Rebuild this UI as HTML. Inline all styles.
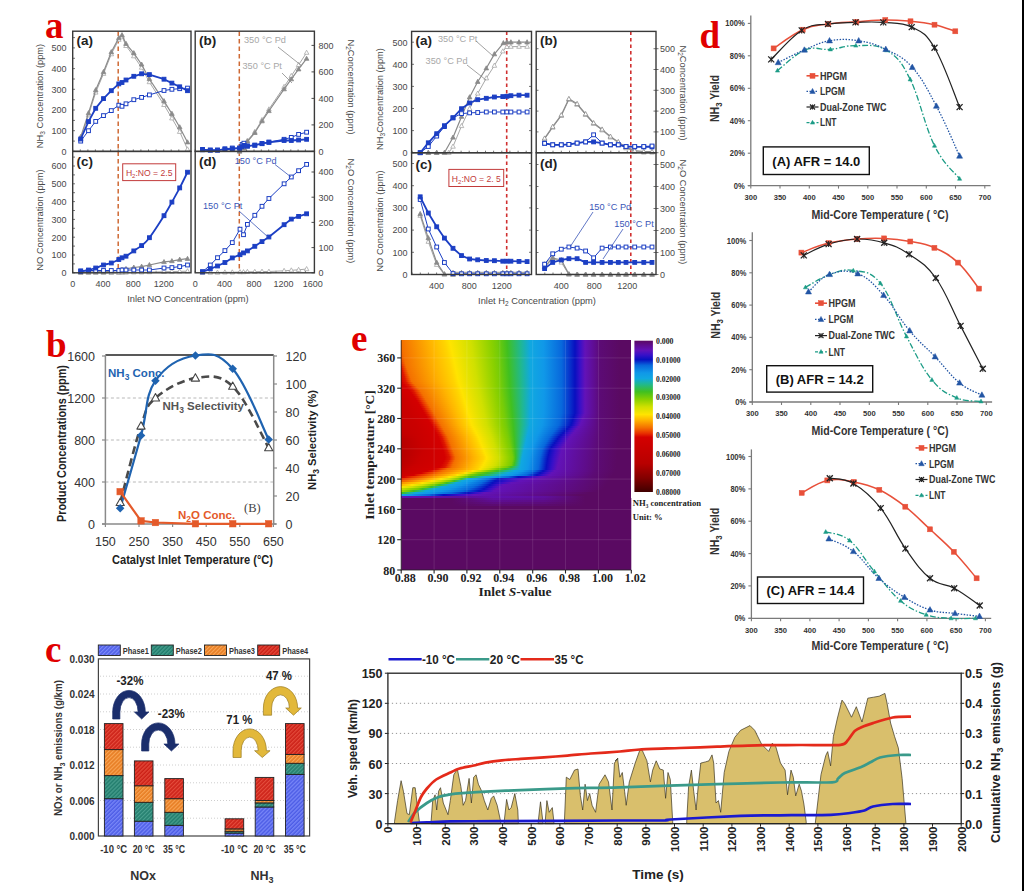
<!DOCTYPE html>
<html><head><meta charset="utf-8"><style>
html,body{margin:0;padding:0;background:#fff;width:1024px;height:891px;overflow:hidden}
svg{display:block}
</style></head><body>
<svg width="1024" height="891" viewBox="0 0 1024 891">
<rect width="1024" height="891" fill="#fff"/>
<line x1="72.7" y1="151.4" x2="72.7" y2="149.4" stroke="#3a3a3a" stroke-width="0.7"/><line x1="72.7" y1="272.8" x2="72.7" y2="270.8" stroke="#3a3a3a" stroke-width="0.7"/><line x1="195.2" y1="151.4" x2="195.2" y2="149.4" stroke="#3a3a3a" stroke-width="0.7"/><line x1="195.2" y1="272.8" x2="195.2" y2="270.8" stroke="#3a3a3a" stroke-width="0.7"/><line x1="80.3" y1="151.4" x2="80.3" y2="149.4" stroke="#3a3a3a" stroke-width="0.7"/><line x1="80.3" y1="272.8" x2="80.3" y2="270.8" stroke="#3a3a3a" stroke-width="0.7"/><line x1="202.5" y1="151.4" x2="202.5" y2="149.4" stroke="#3a3a3a" stroke-width="0.7"/><line x1="202.5" y1="272.8" x2="202.5" y2="270.8" stroke="#3a3a3a" stroke-width="0.7"/><line x1="87.9" y1="151.4" x2="87.9" y2="149.4" stroke="#3a3a3a" stroke-width="0.7"/><line x1="87.9" y1="272.8" x2="87.9" y2="270.8" stroke="#3a3a3a" stroke-width="0.7"/><line x1="209.9" y1="151.4" x2="209.9" y2="149.4" stroke="#3a3a3a" stroke-width="0.7"/><line x1="209.9" y1="272.8" x2="209.9" y2="270.8" stroke="#3a3a3a" stroke-width="0.7"/><line x1="95.4" y1="151.4" x2="95.4" y2="149.4" stroke="#3a3a3a" stroke-width="0.7"/><line x1="95.4" y1="272.8" x2="95.4" y2="270.8" stroke="#3a3a3a" stroke-width="0.7"/><line x1="217.2" y1="151.4" x2="217.2" y2="149.4" stroke="#3a3a3a" stroke-width="0.7"/><line x1="217.2" y1="272.8" x2="217.2" y2="270.8" stroke="#3a3a3a" stroke-width="0.7"/><line x1="103" y1="151.4" x2="103" y2="149.4" stroke="#3a3a3a" stroke-width="0.7"/><line x1="103" y1="272.8" x2="103" y2="270.8" stroke="#3a3a3a" stroke-width="0.7"/><line x1="224.6" y1="151.4" x2="224.6" y2="149.4" stroke="#3a3a3a" stroke-width="0.7"/><line x1="224.6" y1="272.8" x2="224.6" y2="270.8" stroke="#3a3a3a" stroke-width="0.7"/><line x1="110.6" y1="151.4" x2="110.6" y2="149.4" stroke="#3a3a3a" stroke-width="0.7"/><line x1="110.6" y1="272.8" x2="110.6" y2="270.8" stroke="#3a3a3a" stroke-width="0.7"/><line x1="231.9" y1="151.4" x2="231.9" y2="149.4" stroke="#3a3a3a" stroke-width="0.7"/><line x1="231.9" y1="272.8" x2="231.9" y2="270.8" stroke="#3a3a3a" stroke-width="0.7"/><line x1="118.2" y1="151.4" x2="118.2" y2="149.4" stroke="#3a3a3a" stroke-width="0.7"/><line x1="118.2" y1="272.8" x2="118.2" y2="270.8" stroke="#3a3a3a" stroke-width="0.7"/><line x1="239.3" y1="151.4" x2="239.3" y2="149.4" stroke="#3a3a3a" stroke-width="0.7"/><line x1="239.3" y1="272.8" x2="239.3" y2="270.8" stroke="#3a3a3a" stroke-width="0.7"/><line x1="125.8" y1="151.4" x2="125.8" y2="149.4" stroke="#3a3a3a" stroke-width="0.7"/><line x1="125.8" y1="272.8" x2="125.8" y2="270.8" stroke="#3a3a3a" stroke-width="0.7"/><line x1="246.6" y1="151.4" x2="246.6" y2="149.4" stroke="#3a3a3a" stroke-width="0.7"/><line x1="246.6" y1="272.8" x2="246.6" y2="270.8" stroke="#3a3a3a" stroke-width="0.7"/><line x1="133.3" y1="151.4" x2="133.3" y2="149.4" stroke="#3a3a3a" stroke-width="0.7"/><line x1="133.3" y1="272.8" x2="133.3" y2="270.8" stroke="#3a3a3a" stroke-width="0.7"/><line x1="254" y1="151.4" x2="254" y2="149.4" stroke="#3a3a3a" stroke-width="0.7"/><line x1="254" y1="272.8" x2="254" y2="270.8" stroke="#3a3a3a" stroke-width="0.7"/><line x1="140.9" y1="151.4" x2="140.9" y2="149.4" stroke="#3a3a3a" stroke-width="0.7"/><line x1="140.9" y1="272.8" x2="140.9" y2="270.8" stroke="#3a3a3a" stroke-width="0.7"/><line x1="261.3" y1="151.4" x2="261.3" y2="149.4" stroke="#3a3a3a" stroke-width="0.7"/><line x1="261.3" y1="272.8" x2="261.3" y2="270.8" stroke="#3a3a3a" stroke-width="0.7"/><line x1="148.5" y1="151.4" x2="148.5" y2="149.4" stroke="#3a3a3a" stroke-width="0.7"/><line x1="148.5" y1="272.8" x2="148.5" y2="270.8" stroke="#3a3a3a" stroke-width="0.7"/><line x1="268.7" y1="151.4" x2="268.7" y2="149.4" stroke="#3a3a3a" stroke-width="0.7"/><line x1="268.7" y1="272.8" x2="268.7" y2="270.8" stroke="#3a3a3a" stroke-width="0.7"/><line x1="156.1" y1="151.4" x2="156.1" y2="149.4" stroke="#3a3a3a" stroke-width="0.7"/><line x1="156.1" y1="272.8" x2="156.1" y2="270.8" stroke="#3a3a3a" stroke-width="0.7"/><line x1="276" y1="151.4" x2="276" y2="149.4" stroke="#3a3a3a" stroke-width="0.7"/><line x1="276" y1="272.8" x2="276" y2="270.8" stroke="#3a3a3a" stroke-width="0.7"/><line x1="163.7" y1="151.4" x2="163.7" y2="149.4" stroke="#3a3a3a" stroke-width="0.7"/><line x1="163.7" y1="272.8" x2="163.7" y2="270.8" stroke="#3a3a3a" stroke-width="0.7"/><line x1="283.4" y1="151.4" x2="283.4" y2="149.4" stroke="#3a3a3a" stroke-width="0.7"/><line x1="283.4" y1="272.8" x2="283.4" y2="270.8" stroke="#3a3a3a" stroke-width="0.7"/><line x1="171.2" y1="151.4" x2="171.2" y2="149.4" stroke="#3a3a3a" stroke-width="0.7"/><line x1="171.2" y1="272.8" x2="171.2" y2="270.8" stroke="#3a3a3a" stroke-width="0.7"/><line x1="290.8" y1="151.4" x2="290.8" y2="149.4" stroke="#3a3a3a" stroke-width="0.7"/><line x1="290.8" y1="272.8" x2="290.8" y2="270.8" stroke="#3a3a3a" stroke-width="0.7"/><line x1="178.8" y1="151.4" x2="178.8" y2="149.4" stroke="#3a3a3a" stroke-width="0.7"/><line x1="178.8" y1="272.8" x2="178.8" y2="270.8" stroke="#3a3a3a" stroke-width="0.7"/><line x1="298.1" y1="151.4" x2="298.1" y2="149.4" stroke="#3a3a3a" stroke-width="0.7"/><line x1="298.1" y1="272.8" x2="298.1" y2="270.8" stroke="#3a3a3a" stroke-width="0.7"/><line x1="186.4" y1="151.4" x2="186.4" y2="149.4" stroke="#3a3a3a" stroke-width="0.7"/><line x1="186.4" y1="272.8" x2="186.4" y2="270.8" stroke="#3a3a3a" stroke-width="0.7"/><line x1="305.4" y1="151.4" x2="305.4" y2="149.4" stroke="#3a3a3a" stroke-width="0.7"/><line x1="305.4" y1="272.8" x2="305.4" y2="270.8" stroke="#3a3a3a" stroke-width="0.7"/><line x1="72.7" y1="151.4" x2="75" y2="151.4" stroke="#3a3a3a" stroke-width="0.7"/><line x1="72.7" y1="141.1" x2="75" y2="141.1" stroke="#3a3a3a" stroke-width="0.7"/><line x1="72.7" y1="130.7" x2="75" y2="130.7" stroke="#3a3a3a" stroke-width="0.7"/><line x1="72.7" y1="120.4" x2="75" y2="120.4" stroke="#3a3a3a" stroke-width="0.7"/><line x1="72.7" y1="110" x2="75" y2="110" stroke="#3a3a3a" stroke-width="0.7"/><line x1="72.7" y1="99.7" x2="75" y2="99.7" stroke="#3a3a3a" stroke-width="0.7"/><line x1="72.7" y1="89.3" x2="75" y2="89.3" stroke="#3a3a3a" stroke-width="0.7"/><line x1="72.7" y1="79" x2="75" y2="79" stroke="#3a3a3a" stroke-width="0.7"/><line x1="72.7" y1="68.6" x2="75" y2="68.6" stroke="#3a3a3a" stroke-width="0.7"/><line x1="72.7" y1="58.3" x2="75" y2="58.3" stroke="#3a3a3a" stroke-width="0.7"/><line x1="72.7" y1="47.9" x2="75" y2="47.9" stroke="#3a3a3a" stroke-width="0.7"/><line x1="72.7" y1="37.6" x2="75" y2="37.6" stroke="#3a3a3a" stroke-width="0.7"/><line x1="72.7" y1="272.8" x2="75" y2="272.8" stroke="#3a3a3a" stroke-width="0.7"/><line x1="72.7" y1="263.9" x2="75" y2="263.9" stroke="#3a3a3a" stroke-width="0.7"/><line x1="72.7" y1="255" x2="75" y2="255" stroke="#3a3a3a" stroke-width="0.7"/><line x1="72.7" y1="246.1" x2="75" y2="246.1" stroke="#3a3a3a" stroke-width="0.7"/><line x1="72.7" y1="237.2" x2="75" y2="237.2" stroke="#3a3a3a" stroke-width="0.7"/><line x1="72.7" y1="228.3" x2="75" y2="228.3" stroke="#3a3a3a" stroke-width="0.7"/><line x1="72.7" y1="219.4" x2="75" y2="219.4" stroke="#3a3a3a" stroke-width="0.7"/><line x1="72.7" y1="210.5" x2="75" y2="210.5" stroke="#3a3a3a" stroke-width="0.7"/><line x1="72.7" y1="201.6" x2="75" y2="201.6" stroke="#3a3a3a" stroke-width="0.7"/><line x1="72.7" y1="192.7" x2="75" y2="192.7" stroke="#3a3a3a" stroke-width="0.7"/><line x1="72.7" y1="183.8" x2="75" y2="183.8" stroke="#3a3a3a" stroke-width="0.7"/><line x1="72.7" y1="174.9" x2="75" y2="174.9" stroke="#3a3a3a" stroke-width="0.7"/><line x1="72.7" y1="166" x2="75" y2="166" stroke="#3a3a3a" stroke-width="0.7"/><line x1="72.7" y1="157.1" x2="75" y2="157.1" stroke="#3a3a3a" stroke-width="0.7"/><line x1="314.4" y1="151.4" x2="311.5" y2="151.4" stroke="#3a3a3a" stroke-width="0.9"/><line x1="314.4" y1="124.9" x2="311.5" y2="124.9" stroke="#3a3a3a" stroke-width="0.9"/><line x1="314.4" y1="98.4" x2="311.5" y2="98.4" stroke="#3a3a3a" stroke-width="0.9"/><line x1="314.4" y1="71.9" x2="311.5" y2="71.9" stroke="#3a3a3a" stroke-width="0.9"/><line x1="314.4" y1="45.4" x2="311.5" y2="45.4" stroke="#3a3a3a" stroke-width="0.9"/><line x1="314.4" y1="272.8" x2="311.5" y2="272.8" stroke="#3a3a3a" stroke-width="0.9"/><line x1="314.4" y1="247.6" x2="311.5" y2="247.6" stroke="#3a3a3a" stroke-width="0.9"/><line x1="314.4" y1="222.4" x2="311.5" y2="222.4" stroke="#3a3a3a" stroke-width="0.9"/><line x1="314.4" y1="197.2" x2="311.5" y2="197.2" stroke="#3a3a3a" stroke-width="0.9"/><line x1="314.4" y1="172" x2="311.5" y2="172" stroke="#3a3a3a" stroke-width="0.9"/><line x1="118.2" y1="31.5" x2="118.2" y2="272.5" stroke="#cf6a35" stroke-width="1.5" stroke-dasharray="4.5,3"/><line x1="239.3" y1="31.5" x2="239.3" y2="272.5" stroke="#cf6a35" stroke-width="1.5" stroke-dasharray="4.5,3"/><polyline points="80.7,139 88.5,115.2 95.7,92.4 103.5,73.8 111.3,54.1 118.8,39.6 122,36.5 126,45.8 133.8,56.2 141.6,67.6 149.4,82.1 164,104.8 171.9,118.3 179.7,131.7 187.5,149.3" fill="none" stroke="#a8a8a8" stroke-width="1.0" stroke-linejoin="round"/><polygon points="80.7,136.5 83,140.6 78.4,140.6" fill="#fff" stroke="#a8a8a8" stroke-width="0.8" stroke-linejoin="round"/><polygon points="88.5,112.7 90.8,116.8 86.2,116.8" fill="#fff" stroke="#a8a8a8" stroke-width="0.8" stroke-linejoin="round"/><polygon points="95.7,89.9 98,94.1 93.4,94.1" fill="#fff" stroke="#a8a8a8" stroke-width="0.8" stroke-linejoin="round"/><polygon points="103.5,71.3 105.8,75.4 101.2,75.4" fill="#fff" stroke="#a8a8a8" stroke-width="0.8" stroke-linejoin="round"/><polygon points="111.3,51.6 113.6,55.8 109,55.8" fill="#fff" stroke="#a8a8a8" stroke-width="0.8" stroke-linejoin="round"/><polygon points="118.8,37.1 121.1,41.3 116.5,41.3" fill="#fff" stroke="#a8a8a8" stroke-width="0.8" stroke-linejoin="round"/><polygon points="122,34 124.3,38.2 119.7,38.2" fill="#fff" stroke="#a8a8a8" stroke-width="0.8" stroke-linejoin="round"/><polygon points="126,43.3 128.3,47.5 123.7,47.5" fill="#fff" stroke="#a8a8a8" stroke-width="0.8" stroke-linejoin="round"/><polygon points="133.8,53.7 136.1,57.8 131.5,57.8" fill="#fff" stroke="#a8a8a8" stroke-width="0.8" stroke-linejoin="round"/><polygon points="141.6,65.1 143.9,69.2 139.3,69.2" fill="#fff" stroke="#a8a8a8" stroke-width="0.8" stroke-linejoin="round"/><polygon points="149.4,79.6 151.7,83.7 147.1,83.7" fill="#fff" stroke="#a8a8a8" stroke-width="0.8" stroke-linejoin="round"/><polygon points="164,102.3 166.3,106.5 161.7,106.5" fill="#fff" stroke="#a8a8a8" stroke-width="0.8" stroke-linejoin="round"/><polygon points="171.9,115.8 174.2,119.9 169.6,119.9" fill="#fff" stroke="#a8a8a8" stroke-width="0.8" stroke-linejoin="round"/><polygon points="179.7,129.3 182,133.4 177.4,133.4" fill="#fff" stroke="#a8a8a8" stroke-width="0.8" stroke-linejoin="round"/><polygon points="187.5,146.8 189.8,151 185.2,151" fill="#fff" stroke="#a8a8a8" stroke-width="0.8" stroke-linejoin="round"/><polyline points="80.7,136.9 88.5,113.1 95.7,90.1 103.5,71.9 111.3,52 118.8,38 122,35.1 126,43.8 133.8,53.1 141.6,64.5 149.4,79 164,101.1 171.9,113.7 179.7,127.2 187.5,142.3" fill="none" stroke="#8a8a8a" stroke-width="1.2" stroke-linejoin="round"/><polygon points="80.7,134.4 83,138.6 78.4,138.6" fill="#8a8a8a" stroke="#8a8a8a" stroke-width="0.8" stroke-linejoin="round"/><polygon points="88.5,110.6 90.8,114.8 86.2,114.8" fill="#8a8a8a" stroke="#8a8a8a" stroke-width="0.8" stroke-linejoin="round"/><polygon points="95.7,87.6 98,91.8 93.4,91.8" fill="#8a8a8a" stroke="#8a8a8a" stroke-width="0.8" stroke-linejoin="round"/><polygon points="103.5,69.4 105.8,73.6 101.2,73.6" fill="#8a8a8a" stroke="#8a8a8a" stroke-width="0.8" stroke-linejoin="round"/><polygon points="111.3,49.6 113.6,53.7 109,53.7" fill="#8a8a8a" stroke="#8a8a8a" stroke-width="0.8" stroke-linejoin="round"/><polygon points="118.8,35.5 121.1,39.6 116.5,39.6" fill="#8a8a8a" stroke="#8a8a8a" stroke-width="0.8" stroke-linejoin="round"/><polygon points="122,32.6 124.3,36.7 119.7,36.7" fill="#8a8a8a" stroke="#8a8a8a" stroke-width="0.8" stroke-linejoin="round"/><polygon points="126,41.3 128.3,45.4 123.7,45.4" fill="#8a8a8a" stroke="#8a8a8a" stroke-width="0.8" stroke-linejoin="round"/><polygon points="133.8,50.6 136.1,54.7 131.5,54.7" fill="#8a8a8a" stroke="#8a8a8a" stroke-width="0.8" stroke-linejoin="round"/><polygon points="141.6,62 143.9,66.1 139.3,66.1" fill="#8a8a8a" stroke="#8a8a8a" stroke-width="0.8" stroke-linejoin="round"/><polygon points="149.4,76.5 151.7,80.6 147.1,80.6" fill="#8a8a8a" stroke="#8a8a8a" stroke-width="0.8" stroke-linejoin="round"/><polygon points="164,98.6 166.3,102.8 161.7,102.8" fill="#8a8a8a" stroke="#8a8a8a" stroke-width="0.8" stroke-linejoin="round"/><polygon points="171.9,111.2 174.2,115.4 169.6,115.4" fill="#8a8a8a" stroke="#8a8a8a" stroke-width="0.8" stroke-linejoin="round"/><polygon points="179.7,124.7 182,128.8 177.4,128.8" fill="#8a8a8a" stroke="#8a8a8a" stroke-width="0.8" stroke-linejoin="round"/><polygon points="187.5,139.8 189.8,143.9 185.2,143.9" fill="#8a8a8a" stroke="#8a8a8a" stroke-width="0.8" stroke-linejoin="round"/><polyline points="80.7,141.1 88.5,130.7 95.7,121.4 103.5,115.6 111.3,110.6 118.8,105.2 122,106.3 126,103.8 133.8,99.7 141.6,97.4 149.4,94.9 164,90.5 171.9,89.3 179.7,88.7 187.5,88.1" fill="none" stroke="#1c3fc4" stroke-width="1.0" stroke-linejoin="round"/><rect x="78.8" y="139.2" width="3.8" height="3.8" fill="#fff" stroke="#1c3fc4" stroke-width="1.0"/><rect x="86.6" y="128.8" width="3.8" height="3.8" fill="#fff" stroke="#1c3fc4" stroke-width="1.0"/><rect x="93.8" y="119.5" width="3.8" height="3.8" fill="#fff" stroke="#1c3fc4" stroke-width="1.0"/><rect x="101.6" y="113.7" width="3.8" height="3.8" fill="#fff" stroke="#1c3fc4" stroke-width="1.0"/><rect x="109.4" y="108.7" width="3.8" height="3.8" fill="#fff" stroke="#1c3fc4" stroke-width="1.0"/><rect x="116.9" y="103.3" width="3.8" height="3.8" fill="#fff" stroke="#1c3fc4" stroke-width="1.0"/><rect x="120.1" y="104.4" width="3.8" height="3.8" fill="#fff" stroke="#1c3fc4" stroke-width="1.0"/><rect x="124.1" y="101.9" width="3.8" height="3.8" fill="#fff" stroke="#1c3fc4" stroke-width="1.0"/><rect x="131.9" y="97.8" width="3.8" height="3.8" fill="#fff" stroke="#1c3fc4" stroke-width="1.0"/><rect x="139.7" y="95.5" width="3.8" height="3.8" fill="#fff" stroke="#1c3fc4" stroke-width="1.0"/><rect x="147.5" y="93" width="3.8" height="3.8" fill="#fff" stroke="#1c3fc4" stroke-width="1.0"/><rect x="162.1" y="88.6" width="3.8" height="3.8" fill="#fff" stroke="#1c3fc4" stroke-width="1.0"/><rect x="170" y="87.4" width="3.8" height="3.8" fill="#fff" stroke="#1c3fc4" stroke-width="1.0"/><rect x="177.8" y="86.8" width="3.8" height="3.8" fill="#fff" stroke="#1c3fc4" stroke-width="1.0"/><rect x="185.6" y="86.2" width="3.8" height="3.8" fill="#fff" stroke="#1c3fc4" stroke-width="1.0"/><polyline points="80.7,139 88.5,121.6 95.7,108.3 103.5,98.6 111.3,90.7 118.8,83.9 122,82.5 126,80 133.8,76.3 141.6,73.8 149.4,74.6 164,79.2 171.9,83.1 179.7,86.8 187.5,90.7" fill="none" stroke="#1c3fc4" stroke-width="1.8" stroke-linejoin="round"/><rect x="78.8" y="137.1" width="3.8" height="3.8" fill="#1c3fc4" stroke="#1c3fc4" stroke-width="1.0"/><rect x="86.6" y="119.7" width="3.8" height="3.8" fill="#1c3fc4" stroke="#1c3fc4" stroke-width="1.0"/><rect x="93.8" y="106.4" width="3.8" height="3.8" fill="#1c3fc4" stroke="#1c3fc4" stroke-width="1.0"/><rect x="101.6" y="96.7" width="3.8" height="3.8" fill="#1c3fc4" stroke="#1c3fc4" stroke-width="1.0"/><rect x="109.4" y="88.8" width="3.8" height="3.8" fill="#1c3fc4" stroke="#1c3fc4" stroke-width="1.0"/><rect x="116.9" y="82" width="3.8" height="3.8" fill="#1c3fc4" stroke="#1c3fc4" stroke-width="1.0"/><rect x="120.1" y="80.6" width="3.8" height="3.8" fill="#1c3fc4" stroke="#1c3fc4" stroke-width="1.0"/><rect x="124.1" y="78.1" width="3.8" height="3.8" fill="#1c3fc4" stroke="#1c3fc4" stroke-width="1.0"/><rect x="131.9" y="74.4" width="3.8" height="3.8" fill="#1c3fc4" stroke="#1c3fc4" stroke-width="1.0"/><rect x="139.7" y="71.9" width="3.8" height="3.8" fill="#1c3fc4" stroke="#1c3fc4" stroke-width="1.0"/><rect x="147.5" y="72.7" width="3.8" height="3.8" fill="#1c3fc4" stroke="#1c3fc4" stroke-width="1.0"/><rect x="162.1" y="77.3" width="3.8" height="3.8" fill="#1c3fc4" stroke="#1c3fc4" stroke-width="1.0"/><rect x="170" y="81.2" width="3.8" height="3.8" fill="#1c3fc4" stroke="#1c3fc4" stroke-width="1.0"/><rect x="177.8" y="84.9" width="3.8" height="3.8" fill="#1c3fc4" stroke="#1c3fc4" stroke-width="1.0"/><rect x="185.6" y="88.8" width="3.8" height="3.8" fill="#1c3fc4" stroke="#1c3fc4" stroke-width="1.0"/><polyline points="80.7,272.8 88.5,272.8 95.7,272.8 103.5,272.8 111.3,272.8 118.8,272.8 122,272.6 126,272.4 133.8,272.3 141.6,272.3 149.4,272.1 164,271.7 171.9,271.6 179.7,271.4 187.5,271.2" fill="none" stroke="#a8a8a8" stroke-width="1.0" stroke-linejoin="round"/><polygon points="80.7,270.3 83,274.5 78.4,274.5" fill="#fff" stroke="#a8a8a8" stroke-width="0.8" stroke-linejoin="round"/><polygon points="88.5,270.3 90.8,274.5 86.2,274.5" fill="#fff" stroke="#a8a8a8" stroke-width="0.8" stroke-linejoin="round"/><polygon points="95.7,270.3 98,274.5 93.4,274.5" fill="#fff" stroke="#a8a8a8" stroke-width="0.8" stroke-linejoin="round"/><polygon points="103.5,270.3 105.8,274.5 101.2,274.5" fill="#fff" stroke="#a8a8a8" stroke-width="0.8" stroke-linejoin="round"/><polygon points="111.3,270.3 113.6,274.5 109,274.5" fill="#fff" stroke="#a8a8a8" stroke-width="0.8" stroke-linejoin="round"/><polygon points="118.8,270.3 121.1,274.5 116.5,274.5" fill="#fff" stroke="#a8a8a8" stroke-width="0.8" stroke-linejoin="round"/><polygon points="122,270.1 124.3,274.3 119.7,274.3" fill="#fff" stroke="#a8a8a8" stroke-width="0.8" stroke-linejoin="round"/><polygon points="126,270 128.3,274.1 123.7,274.1" fill="#fff" stroke="#a8a8a8" stroke-width="0.8" stroke-linejoin="round"/><polygon points="133.8,269.8 136.1,273.9 131.5,273.9" fill="#fff" stroke="#a8a8a8" stroke-width="0.8" stroke-linejoin="round"/><polygon points="141.6,269.8 143.9,273.9 139.3,273.9" fill="#fff" stroke="#a8a8a8" stroke-width="0.8" stroke-linejoin="round"/><polygon points="149.4,269.6 151.7,273.7 147.1,273.7" fill="#fff" stroke="#a8a8a8" stroke-width="0.8" stroke-linejoin="round"/><polygon points="164,269.2 166.3,273.4 161.7,273.4" fill="#fff" stroke="#a8a8a8" stroke-width="0.8" stroke-linejoin="round"/><polygon points="171.9,269.1 174.2,273.2 169.6,273.2" fill="#fff" stroke="#a8a8a8" stroke-width="0.8" stroke-linejoin="round"/><polygon points="179.7,268.9 182,273 177.4,273" fill="#fff" stroke="#a8a8a8" stroke-width="0.8" stroke-linejoin="round"/><polygon points="187.5,268.7 189.8,272.9 185.2,272.9" fill="#fff" stroke="#a8a8a8" stroke-width="0.8" stroke-linejoin="round"/><polyline points="80.7,272.3 88.5,272.1 95.7,271.9 103.5,271.7 111.3,271.4 118.8,270.5 122,269.6 126,268.9 133.8,267.5 141.6,266.6 149.4,265 164,261.9 171.9,261.1 179.7,259.6 187.5,258.7" fill="none" stroke="#8a8a8a" stroke-width="1.2" stroke-linejoin="round"/><polygon points="80.7,269.8 83,273.9 78.4,273.9" fill="#8a8a8a" stroke="#8a8a8a" stroke-width="0.8" stroke-linejoin="round"/><polygon points="88.5,269.6 90.8,273.7 86.2,273.7" fill="#8a8a8a" stroke="#8a8a8a" stroke-width="0.8" stroke-linejoin="round"/><polygon points="95.7,269.4 98,273.6 93.4,273.6" fill="#8a8a8a" stroke="#8a8a8a" stroke-width="0.8" stroke-linejoin="round"/><polygon points="103.5,269.2 105.8,273.4 101.2,273.4" fill="#8a8a8a" stroke="#8a8a8a" stroke-width="0.8" stroke-linejoin="round"/><polygon points="111.3,268.9 113.6,273 109,273" fill="#8a8a8a" stroke="#8a8a8a" stroke-width="0.8" stroke-linejoin="round"/><polygon points="118.8,268 121.1,272.1 116.5,272.1" fill="#8a8a8a" stroke="#8a8a8a" stroke-width="0.8" stroke-linejoin="round"/><polygon points="122,267.1 124.3,271.3 119.7,271.3" fill="#8a8a8a" stroke="#8a8a8a" stroke-width="0.8" stroke-linejoin="round"/><polygon points="126,266.4 128.3,270.5 123.7,270.5" fill="#8a8a8a" stroke="#8a8a8a" stroke-width="0.8" stroke-linejoin="round"/><polygon points="133.8,265 136.1,269.1 131.5,269.1" fill="#8a8a8a" stroke="#8a8a8a" stroke-width="0.8" stroke-linejoin="round"/><polygon points="141.6,264.1 143.9,268.2 139.3,268.2" fill="#8a8a8a" stroke="#8a8a8a" stroke-width="0.8" stroke-linejoin="round"/><polygon points="149.4,262.5 151.7,266.6 147.1,266.6" fill="#8a8a8a" stroke="#8a8a8a" stroke-width="0.8" stroke-linejoin="round"/><polygon points="164,259.5 166.3,263.6 161.7,263.6" fill="#8a8a8a" stroke="#8a8a8a" stroke-width="0.8" stroke-linejoin="round"/><polygon points="171.9,258.6 174.2,262.7 169.6,262.7" fill="#8a8a8a" stroke="#8a8a8a" stroke-width="0.8" stroke-linejoin="round"/><polygon points="179.7,257.1 182,261.3 177.4,261.3" fill="#8a8a8a" stroke="#8a8a8a" stroke-width="0.8" stroke-linejoin="round"/><polygon points="187.5,256.3 189.8,260.4 185.2,260.4" fill="#8a8a8a" stroke="#8a8a8a" stroke-width="0.8" stroke-linejoin="round"/><polyline points="80.7,270.8 88.5,270.5 95.7,270.5 103.5,270.5 111.3,270.5 118.8,270.5 122,270 126,270 133.8,270 141.6,270 149.4,270 164,268 171.9,267.6 179.7,266.6 187.5,265" fill="none" stroke="#1c3fc4" stroke-width="1.0" stroke-linejoin="round"/><rect x="78.8" y="268.9" width="3.8" height="3.8" fill="#fff" stroke="#1c3fc4" stroke-width="1.0"/><rect x="86.6" y="268.6" width="3.8" height="3.8" fill="#fff" stroke="#1c3fc4" stroke-width="1.0"/><rect x="93.8" y="268.6" width="3.8" height="3.8" fill="#fff" stroke="#1c3fc4" stroke-width="1.0"/><rect x="101.6" y="268.6" width="3.8" height="3.8" fill="#fff" stroke="#1c3fc4" stroke-width="1.0"/><rect x="109.4" y="268.6" width="3.8" height="3.8" fill="#fff" stroke="#1c3fc4" stroke-width="1.0"/><rect x="116.9" y="268.6" width="3.8" height="3.8" fill="#fff" stroke="#1c3fc4" stroke-width="1.0"/><rect x="120.1" y="268.1" width="3.8" height="3.8" fill="#fff" stroke="#1c3fc4" stroke-width="1.0"/><rect x="124.1" y="268.1" width="3.8" height="3.8" fill="#fff" stroke="#1c3fc4" stroke-width="1.0"/><rect x="131.9" y="268.1" width="3.8" height="3.8" fill="#fff" stroke="#1c3fc4" stroke-width="1.0"/><rect x="139.7" y="268.1" width="3.8" height="3.8" fill="#fff" stroke="#1c3fc4" stroke-width="1.0"/><rect x="147.5" y="268.1" width="3.8" height="3.8" fill="#fff" stroke="#1c3fc4" stroke-width="1.0"/><rect x="162.1" y="266.1" width="3.8" height="3.8" fill="#fff" stroke="#1c3fc4" stroke-width="1.0"/><rect x="170" y="265.7" width="3.8" height="3.8" fill="#fff" stroke="#1c3fc4" stroke-width="1.0"/><rect x="177.8" y="264.7" width="3.8" height="3.8" fill="#fff" stroke="#1c3fc4" stroke-width="1.0"/><rect x="185.6" y="263.1" width="3.8" height="3.8" fill="#fff" stroke="#1c3fc4" stroke-width="1.0"/><path d="M80.7,271.4 C82,271.1 86,270.5 88.5,270 C91,269.4 93.2,268.8 95.7,268 C98.2,267.2 100.9,265.8 103.5,265 C106.1,264.1 108.7,263.9 111.3,263 C113.8,262.1 117,260.3 118.8,259.4 C120.6,258.6 120.8,258.4 122,257.8 C123.2,257.3 124,257.4 126,256.2 C128,255.1 131.2,252.7 133.8,250.9 C136.4,249.1 139,247.8 141.6,245.6 C144.2,243.4 145.7,242.7 149.4,237.7 C153.1,232.8 160.3,221.6 164,215.7 C167.8,209.7 169.3,206.8 171.9,202.1 C174.5,197.5 177.1,192.9 179.7,187.9 C182.3,182.9 186.2,174.8 187.5,172.2" fill="none" stroke="#1c3fc4" stroke-width="1.8" stroke-linejoin="round"/><rect x="78.8" y="269.5" width="3.8" height="3.8" fill="#1c3fc4" stroke="#1c3fc4" stroke-width="1.0"/><rect x="86.6" y="268.1" width="3.8" height="3.8" fill="#1c3fc4" stroke="#1c3fc4" stroke-width="1.0"/><rect x="93.8" y="266.1" width="3.8" height="3.8" fill="#1c3fc4" stroke="#1c3fc4" stroke-width="1.0"/><rect x="101.6" y="263.1" width="3.8" height="3.8" fill="#1c3fc4" stroke="#1c3fc4" stroke-width="1.0"/><rect x="109.4" y="261.1" width="3.8" height="3.8" fill="#1c3fc4" stroke="#1c3fc4" stroke-width="1.0"/><rect x="116.9" y="257.6" width="3.8" height="3.8" fill="#1c3fc4" stroke="#1c3fc4" stroke-width="1.0"/><rect x="120.1" y="255.9" width="3.8" height="3.8" fill="#1c3fc4" stroke="#1c3fc4" stroke-width="1.0"/><rect x="124.1" y="254.3" width="3.8" height="3.8" fill="#1c3fc4" stroke="#1c3fc4" stroke-width="1.0"/><rect x="131.9" y="249" width="3.8" height="3.8" fill="#1c3fc4" stroke="#1c3fc4" stroke-width="1.0"/><rect x="139.7" y="243.7" width="3.8" height="3.8" fill="#1c3fc4" stroke="#1c3fc4" stroke-width="1.0"/><rect x="147.5" y="235.8" width="3.8" height="3.8" fill="#1c3fc4" stroke="#1c3fc4" stroke-width="1.0"/><rect x="162.1" y="213.8" width="3.8" height="3.8" fill="#1c3fc4" stroke="#1c3fc4" stroke-width="1.0"/><rect x="170" y="200.2" width="3.8" height="3.8" fill="#1c3fc4" stroke="#1c3fc4" stroke-width="1.0"/><rect x="177.8" y="186" width="3.8" height="3.8" fill="#1c3fc4" stroke="#1c3fc4" stroke-width="1.0"/><rect x="185.6" y="170.3" width="3.8" height="3.8" fill="#1c3fc4" stroke="#1c3fc4" stroke-width="1.0"/><polyline points="239.6,151.4 243.9,147.4 247.4,140.5 254.8,131.8 262,119.9 268.9,109.3 284.1,86.7 291.3,75.9 298.6,64.9 306.6,52.7" fill="none" stroke="#a8a8a8" stroke-width="1.0" stroke-linejoin="round"/><polygon points="239.6,148.9 241.9,153.1 237.3,153.1" fill="#fff" stroke="#a8a8a8" stroke-width="0.8" stroke-linejoin="round"/><polygon points="243.9,144.9 246.2,149.1 241.6,149.1" fill="#fff" stroke="#a8a8a8" stroke-width="0.8" stroke-linejoin="round"/><polygon points="247.4,138.1 249.7,142.2 245.1,142.2" fill="#fff" stroke="#a8a8a8" stroke-width="0.8" stroke-linejoin="round"/><polygon points="254.8,129.3 257.1,133.4 252.5,133.4" fill="#fff" stroke="#a8a8a8" stroke-width="0.8" stroke-linejoin="round"/><polygon points="262,117.4 264.3,121.5 259.7,121.5" fill="#fff" stroke="#a8a8a8" stroke-width="0.8" stroke-linejoin="round"/><polygon points="268.9,106.8 271.2,110.9 266.6,110.9" fill="#fff" stroke="#a8a8a8" stroke-width="0.8" stroke-linejoin="round"/><polygon points="284.1,84.3 286.4,88.4 281.8,88.4" fill="#fff" stroke="#a8a8a8" stroke-width="0.8" stroke-linejoin="round"/><polygon points="291.3,73.4 293.6,77.5 289,77.5" fill="#fff" stroke="#a8a8a8" stroke-width="0.8" stroke-linejoin="round"/><polygon points="298.6,62.4 300.9,66.5 296.3,66.5" fill="#fff" stroke="#a8a8a8" stroke-width="0.8" stroke-linejoin="round"/><polygon points="306.6,50.2 308.9,54.3 304.3,54.3" fill="#fff" stroke="#a8a8a8" stroke-width="0.8" stroke-linejoin="round"/><polyline points="239.6,151.4 243.9,148.1 247.4,141.5 254.8,132.8 262,121.2 268.9,111 284.1,89.1 291.3,79.2 298.6,69.2 306.6,58.7" fill="none" stroke="#8a8a8a" stroke-width="1.2" stroke-linejoin="round"/><polygon points="239.6,148.9 241.9,153.1 237.3,153.1" fill="#8a8a8a" stroke="#8a8a8a" stroke-width="0.8" stroke-linejoin="round"/><polygon points="243.9,145.6 246.2,149.7 241.6,149.7" fill="#8a8a8a" stroke="#8a8a8a" stroke-width="0.8" stroke-linejoin="round"/><polygon points="247.4,139 249.7,143.1 245.1,143.1" fill="#8a8a8a" stroke="#8a8a8a" stroke-width="0.8" stroke-linejoin="round"/><polygon points="254.8,130.4 257.1,134.5 252.5,134.5" fill="#8a8a8a" stroke="#8a8a8a" stroke-width="0.8" stroke-linejoin="round"/><polygon points="262,118.7 264.3,122.8 259.7,122.8" fill="#8a8a8a" stroke="#8a8a8a" stroke-width="0.8" stroke-linejoin="round"/><polygon points="268.9,108.5 271.2,112.6 266.6,112.6" fill="#8a8a8a" stroke="#8a8a8a" stroke-width="0.8" stroke-linejoin="round"/><polygon points="284.1,86.6 286.4,90.8 281.8,90.8" fill="#8a8a8a" stroke="#8a8a8a" stroke-width="0.8" stroke-linejoin="round"/><polygon points="291.3,76.7 293.6,80.8 289,80.8" fill="#8a8a8a" stroke="#8a8a8a" stroke-width="0.8" stroke-linejoin="round"/><polygon points="298.6,66.8 300.9,70.9 296.3,70.9" fill="#8a8a8a" stroke="#8a8a8a" stroke-width="0.8" stroke-linejoin="round"/><polygon points="306.6,56.2 308.9,60.3 304.3,60.3" fill="#8a8a8a" stroke="#8a8a8a" stroke-width="0.8" stroke-linejoin="round"/><polyline points="202.5,149.4 210.3,150.1 217.5,150.1 224.9,148.8 232.3,148 239.6,148 242.1,144.5 243.9,143.2 247.4,146.1 254.8,145.2 262,143.5 268.9,142 284.1,139.3 291.3,137.4 298.6,134.4 306.6,132.2" fill="none" stroke="#1c3fc4" stroke-width="1.0" stroke-linejoin="round"/><rect x="200.6" y="147.5" width="3.8" height="3.8" fill="#fff" stroke="#1c3fc4" stroke-width="1.0"/><rect x="208.4" y="148.2" width="3.8" height="3.8" fill="#fff" stroke="#1c3fc4" stroke-width="1.0"/><rect x="215.6" y="148.2" width="3.8" height="3.8" fill="#fff" stroke="#1c3fc4" stroke-width="1.0"/><rect x="223" y="146.8" width="3.8" height="3.8" fill="#fff" stroke="#1c3fc4" stroke-width="1.0"/><rect x="230.4" y="146.1" width="3.8" height="3.8" fill="#fff" stroke="#1c3fc4" stroke-width="1.0"/><rect x="237.7" y="146.1" width="3.8" height="3.8" fill="#fff" stroke="#1c3fc4" stroke-width="1.0"/><rect x="240.2" y="142.6" width="3.8" height="3.8" fill="#fff" stroke="#1c3fc4" stroke-width="1.0"/><rect x="242" y="141.3" width="3.8" height="3.8" fill="#fff" stroke="#1c3fc4" stroke-width="1.0"/><rect x="245.5" y="144.2" width="3.8" height="3.8" fill="#fff" stroke="#1c3fc4" stroke-width="1.0"/><rect x="252.9" y="143.3" width="3.8" height="3.8" fill="#fff" stroke="#1c3fc4" stroke-width="1.0"/><rect x="260.1" y="141.6" width="3.8" height="3.8" fill="#fff" stroke="#1c3fc4" stroke-width="1.0"/><rect x="267" y="140.1" width="3.8" height="3.8" fill="#fff" stroke="#1c3fc4" stroke-width="1.0"/><rect x="282.2" y="137.4" width="3.8" height="3.8" fill="#fff" stroke="#1c3fc4" stroke-width="1.0"/><rect x="289.4" y="135.5" width="3.8" height="3.8" fill="#fff" stroke="#1c3fc4" stroke-width="1.0"/><rect x="296.7" y="132.5" width="3.8" height="3.8" fill="#fff" stroke="#1c3fc4" stroke-width="1.0"/><rect x="304.7" y="130.3" width="3.8" height="3.8" fill="#fff" stroke="#1c3fc4" stroke-width="1.0"/><polyline points="202.5,149.8 210.3,150.1 217.5,150.1 224.9,149.4 232.3,148.8 239.6,148.2 242.1,146.8 243.9,145.4 247.4,146.1 254.8,145.2 262,143.7 268.9,142.4 284.1,140.5 291.3,140.5 298.6,140 306.6,139.3" fill="none" stroke="#1c3fc4" stroke-width="1.8" stroke-linejoin="round"/><rect x="200.6" y="147.9" width="3.8" height="3.8" fill="#1c3fc4" stroke="#1c3fc4" stroke-width="1.0"/><rect x="208.4" y="148.2" width="3.8" height="3.8" fill="#1c3fc4" stroke="#1c3fc4" stroke-width="1.0"/><rect x="215.6" y="148.2" width="3.8" height="3.8" fill="#1c3fc4" stroke="#1c3fc4" stroke-width="1.0"/><rect x="223" y="147.5" width="3.8" height="3.8" fill="#1c3fc4" stroke="#1c3fc4" stroke-width="1.0"/><rect x="230.4" y="146.8" width="3.8" height="3.8" fill="#1c3fc4" stroke="#1c3fc4" stroke-width="1.0"/><rect x="237.7" y="146.3" width="3.8" height="3.8" fill="#1c3fc4" stroke="#1c3fc4" stroke-width="1.0"/><rect x="240.2" y="144.9" width="3.8" height="3.8" fill="#1c3fc4" stroke="#1c3fc4" stroke-width="1.0"/><rect x="242" y="143.5" width="3.8" height="3.8" fill="#1c3fc4" stroke="#1c3fc4" stroke-width="1.0"/><rect x="245.5" y="144.2" width="3.8" height="3.8" fill="#1c3fc4" stroke="#1c3fc4" stroke-width="1.0"/><rect x="252.9" y="143.3" width="3.8" height="3.8" fill="#1c3fc4" stroke="#1c3fc4" stroke-width="1.0"/><rect x="260.1" y="141.8" width="3.8" height="3.8" fill="#1c3fc4" stroke="#1c3fc4" stroke-width="1.0"/><rect x="267" y="140.5" width="3.8" height="3.8" fill="#1c3fc4" stroke="#1c3fc4" stroke-width="1.0"/><rect x="282.2" y="138.6" width="3.8" height="3.8" fill="#1c3fc4" stroke="#1c3fc4" stroke-width="1.0"/><rect x="289.4" y="138.6" width="3.8" height="3.8" fill="#1c3fc4" stroke="#1c3fc4" stroke-width="1.0"/><rect x="296.7" y="138.1" width="3.8" height="3.8" fill="#1c3fc4" stroke="#1c3fc4" stroke-width="1.0"/><rect x="304.7" y="137.4" width="3.8" height="3.8" fill="#1c3fc4" stroke="#1c3fc4" stroke-width="1.0"/><polyline points="202.5,272.8 210.3,272.5 217.5,272.5 224.9,272.3 232.3,272.3 240,272 243.5,272 247.4,271.8 254.8,271.8 262,271.5 268.9,271.5 284.1,270.8 291.3,270.3 298.6,269.8 306.6,269" fill="none" stroke="#a8a8a8" stroke-width="1.0" stroke-linejoin="round"/><polygon points="202.5,270.3 204.8,274.5 200.2,274.5" fill="#fff" stroke="#a8a8a8" stroke-width="0.8" stroke-linejoin="round"/><polygon points="210.3,270.1 212.6,274.2 208,274.2" fill="#fff" stroke="#a8a8a8" stroke-width="0.8" stroke-linejoin="round"/><polygon points="217.5,270.1 219.8,274.2 215.2,274.2" fill="#fff" stroke="#a8a8a8" stroke-width="0.8" stroke-linejoin="round"/><polygon points="224.9,269.8 227.2,274 222.6,274" fill="#fff" stroke="#a8a8a8" stroke-width="0.8" stroke-linejoin="round"/><polygon points="232.3,269.8 234.6,274 230,274" fill="#fff" stroke="#a8a8a8" stroke-width="0.8" stroke-linejoin="round"/><polygon points="240,269.6 242.3,273.7 237.7,273.7" fill="#fff" stroke="#a8a8a8" stroke-width="0.8" stroke-linejoin="round"/><polygon points="243.5,269.6 245.8,273.7 241.2,273.7" fill="#fff" stroke="#a8a8a8" stroke-width="0.8" stroke-linejoin="round"/><polygon points="247.4,269.3 249.7,273.4 245.1,273.4" fill="#fff" stroke="#a8a8a8" stroke-width="0.8" stroke-linejoin="round"/><polygon points="254.8,269.3 257.1,273.4 252.5,273.4" fill="#fff" stroke="#a8a8a8" stroke-width="0.8" stroke-linejoin="round"/><polygon points="262,269.1 264.3,273.2 259.7,273.2" fill="#fff" stroke="#a8a8a8" stroke-width="0.8" stroke-linejoin="round"/><polygon points="268.9,269.1 271.2,273.2 266.6,273.2" fill="#fff" stroke="#a8a8a8" stroke-width="0.8" stroke-linejoin="round"/><polygon points="284.1,268.3 286.4,272.4 281.8,272.4" fill="#fff" stroke="#a8a8a8" stroke-width="0.8" stroke-linejoin="round"/><polygon points="291.3,267.8 293.6,271.9 289,271.9" fill="#fff" stroke="#a8a8a8" stroke-width="0.8" stroke-linejoin="round"/><polygon points="298.6,267.3 300.9,271.4 296.3,271.4" fill="#fff" stroke="#a8a8a8" stroke-width="0.8" stroke-linejoin="round"/><polygon points="306.6,266.5 308.9,270.7 304.3,270.7" fill="#fff" stroke="#a8a8a8" stroke-width="0.8" stroke-linejoin="round"/><polyline points="202.5,271.8 210.3,265 217.5,257.7 224.9,250.6 232.3,242.6 240,229.2 243.5,234.7 247.4,224.4 254.8,215.3 262,206.3 268.9,198.5 284.1,183.8 291.3,177 298.6,170.7 306.6,164.4" fill="none" stroke="#1c3fc4" stroke-width="1.0" stroke-linejoin="round"/><rect x="200.6" y="269.9" width="3.8" height="3.8" fill="#fff" stroke="#1c3fc4" stroke-width="1.0"/><rect x="208.4" y="263.1" width="3.8" height="3.8" fill="#fff" stroke="#1c3fc4" stroke-width="1.0"/><rect x="215.6" y="255.8" width="3.8" height="3.8" fill="#fff" stroke="#1c3fc4" stroke-width="1.0"/><rect x="223" y="248.7" width="3.8" height="3.8" fill="#fff" stroke="#1c3fc4" stroke-width="1.0"/><rect x="230.4" y="240.7" width="3.8" height="3.8" fill="#fff" stroke="#1c3fc4" stroke-width="1.0"/><rect x="238.1" y="227.3" width="3.8" height="3.8" fill="#fff" stroke="#1c3fc4" stroke-width="1.0"/><rect x="241.6" y="232.8" width="3.8" height="3.8" fill="#fff" stroke="#1c3fc4" stroke-width="1.0"/><rect x="245.5" y="222.5" width="3.8" height="3.8" fill="#fff" stroke="#1c3fc4" stroke-width="1.0"/><rect x="252.9" y="213.4" width="3.8" height="3.8" fill="#fff" stroke="#1c3fc4" stroke-width="1.0"/><rect x="260.1" y="204.4" width="3.8" height="3.8" fill="#fff" stroke="#1c3fc4" stroke-width="1.0"/><rect x="267" y="196.6" width="3.8" height="3.8" fill="#fff" stroke="#1c3fc4" stroke-width="1.0"/><rect x="282.2" y="181.9" width="3.8" height="3.8" fill="#fff" stroke="#1c3fc4" stroke-width="1.0"/><rect x="289.4" y="175.1" width="3.8" height="3.8" fill="#fff" stroke="#1c3fc4" stroke-width="1.0"/><rect x="296.7" y="168.8" width="3.8" height="3.8" fill="#fff" stroke="#1c3fc4" stroke-width="1.0"/><rect x="304.7" y="162.5" width="3.8" height="3.8" fill="#fff" stroke="#1c3fc4" stroke-width="1.0"/><polyline points="202.5,271.8 210.3,268.8 217.5,266 224.9,262.5 232.3,257.9 240,254.7 243.5,252.9 247.4,250.9 254.8,246.3 262,241.6 268.9,237 284.1,224.7 291.3,219.1 298.6,216.4 306.6,213.8" fill="none" stroke="#1c3fc4" stroke-width="1.8" stroke-linejoin="round"/><rect x="200.6" y="269.9" width="3.8" height="3.8" fill="#1c3fc4" stroke="#1c3fc4" stroke-width="1.0"/><rect x="208.4" y="266.9" width="3.8" height="3.8" fill="#1c3fc4" stroke="#1c3fc4" stroke-width="1.0"/><rect x="215.6" y="264.1" width="3.8" height="3.8" fill="#1c3fc4" stroke="#1c3fc4" stroke-width="1.0"/><rect x="223" y="260.6" width="3.8" height="3.8" fill="#1c3fc4" stroke="#1c3fc4" stroke-width="1.0"/><rect x="230.4" y="256" width="3.8" height="3.8" fill="#1c3fc4" stroke="#1c3fc4" stroke-width="1.0"/><rect x="238.1" y="252.8" width="3.8" height="3.8" fill="#1c3fc4" stroke="#1c3fc4" stroke-width="1.0"/><rect x="241.6" y="251" width="3.8" height="3.8" fill="#1c3fc4" stroke="#1c3fc4" stroke-width="1.0"/><rect x="245.5" y="249" width="3.8" height="3.8" fill="#1c3fc4" stroke="#1c3fc4" stroke-width="1.0"/><rect x="252.9" y="244.4" width="3.8" height="3.8" fill="#1c3fc4" stroke="#1c3fc4" stroke-width="1.0"/><rect x="260.1" y="239.7" width="3.8" height="3.8" fill="#1c3fc4" stroke="#1c3fc4" stroke-width="1.0"/><rect x="267" y="235.1" width="3.8" height="3.8" fill="#1c3fc4" stroke="#1c3fc4" stroke-width="1.0"/><rect x="282.2" y="222.8" width="3.8" height="3.8" fill="#1c3fc4" stroke="#1c3fc4" stroke-width="1.0"/><rect x="289.4" y="217.2" width="3.8" height="3.8" fill="#1c3fc4" stroke="#1c3fc4" stroke-width="1.0"/><rect x="296.7" y="214.5" width="3.8" height="3.8" fill="#1c3fc4" stroke="#1c3fc4" stroke-width="1.0"/><rect x="304.7" y="211.9" width="3.8" height="3.8" fill="#1c3fc4" stroke="#1c3fc4" stroke-width="1.0"/><rect x="72.7" y="31.2" width="118.3" height="120.2" fill="none" stroke="#3a3a3a" stroke-width="1.4"/><rect x="72.7" y="151.4" width="118.3" height="121.4" fill="none" stroke="#3a3a3a" stroke-width="1.4"/><rect x="195.2" y="31.2" width="119.2" height="120.2" fill="none" stroke="#3a3a3a" stroke-width="1.4"/><rect x="195.2" y="151.4" width="119.2" height="121.4" fill="none" stroke="#3a3a3a" stroke-width="1.4"/><text x="76.5" y="45" font-family='"Liberation Sans", sans-serif' font-size="13.5" fill="#222" font-weight="bold">(a)</text><text x="199" y="45" font-family='"Liberation Sans", sans-serif' font-size="13.5" fill="#222" font-weight="bold">(b)</text><text x="76.5" y="166" font-family='"Liberation Sans", sans-serif' font-size="13.5" fill="#222" font-weight="bold">(c)</text><text x="199" y="166" font-family='"Liberation Sans", sans-serif' font-size="13.5" fill="#222" font-weight="bold">(d)</text><rect x="122.7" y="163.8" width="53" height="16.8" fill="#fff" stroke="#c23b3b" stroke-width="1.0"/><text x="149.2" y="175.6" font-family='"Liberation Sans", sans-serif' font-size="8.6" fill="#c23b3b" text-anchor="middle">H<tspan font-size="6" dy="2">2</tspan><tspan dy="-2">:NO = 2.5</tspan></text><text x="244" y="43" font-family='"Liberation Sans", sans-serif' font-size="9.2" fill="#a8a8a8">350 °C Pd</text><text x="242.5" y="69" font-family='"Liberation Sans", sans-serif' font-size="9.2" fill="#a8a8a8">350 °C Pt</text><line x1="278" y1="47" x2="302" y2="66" stroke="#8a8a8a" stroke-width="0.8"/><line x1="282" y1="73" x2="292" y2="83" stroke="#8a8a8a" stroke-width="0.8"/><text x="234.7" y="164" font-family='"Liberation Sans", sans-serif' font-size="9.2" fill="#3a56b8">150 °C Pd</text><text x="203" y="209" font-family='"Liberation Sans", sans-serif' font-size="9.2" fill="#3a56b8">150 °C Pt</text><line x1="275" y1="164.5" x2="291" y2="177" stroke="#3a56b8" stroke-width="0.8"/><line x1="239" y1="211" x2="268" y2="237" stroke="#3a56b8" stroke-width="0.8"/><text x="66.5" y="154.7" font-family='"Liberation Sans", sans-serif' font-size="9" fill="#484848" text-anchor="end">0</text><text x="66.5" y="134" font-family='"Liberation Sans", sans-serif' font-size="9" fill="#484848" text-anchor="end">100</text><text x="66.5" y="113.3" font-family='"Liberation Sans", sans-serif' font-size="9" fill="#484848" text-anchor="end">200</text><text x="66.5" y="92.6" font-family='"Liberation Sans", sans-serif' font-size="9" fill="#484848" text-anchor="end">300</text><text x="66.5" y="71.9" font-family='"Liberation Sans", sans-serif' font-size="9" fill="#484848" text-anchor="end">400</text><text x="66.5" y="51.2" font-family='"Liberation Sans", sans-serif' font-size="9" fill="#484848" text-anchor="end">500</text><text x="66.5" y="276.1" font-family='"Liberation Sans", sans-serif' font-size="9" fill="#484848" text-anchor="end">0</text><text x="66.5" y="258.3" font-family='"Liberation Sans", sans-serif' font-size="9" fill="#484848" text-anchor="end">100</text><text x="66.5" y="240.5" font-family='"Liberation Sans", sans-serif' font-size="9" fill="#484848" text-anchor="end">200</text><text x="66.5" y="222.7" font-family='"Liberation Sans", sans-serif' font-size="9" fill="#484848" text-anchor="end">300</text><text x="66.5" y="204.9" font-family='"Liberation Sans", sans-serif' font-size="9" fill="#484848" text-anchor="end">400</text><text x="66.5" y="187.1" font-family='"Liberation Sans", sans-serif' font-size="9" fill="#484848" text-anchor="end">500</text><text x="66.5" y="169.3" font-family='"Liberation Sans", sans-serif' font-size="9" fill="#484848" text-anchor="end">600</text><text x="318.5" y="154.7" font-family='"Liberation Sans", sans-serif' font-size="9" fill="#484848">0</text><text x="318.5" y="128.2" font-family='"Liberation Sans", sans-serif' font-size="9" fill="#484848">200</text><text x="318.5" y="101.7" font-family='"Liberation Sans", sans-serif' font-size="9" fill="#484848">400</text><text x="318.5" y="75.2" font-family='"Liberation Sans", sans-serif' font-size="9" fill="#484848">600</text><text x="318.5" y="48.7" font-family='"Liberation Sans", sans-serif' font-size="9" fill="#484848">800</text><text x="318.5" y="276.1" font-family='"Liberation Sans", sans-serif' font-size="9" fill="#484848">0</text><text x="318.5" y="250.9" font-family='"Liberation Sans", sans-serif' font-size="9" fill="#484848">100</text><text x="318.5" y="225.7" font-family='"Liberation Sans", sans-serif' font-size="9" fill="#484848">200</text><text x="318.5" y="200.5" font-family='"Liberation Sans", sans-serif' font-size="9" fill="#484848">300</text><text x="318.5" y="175.3" font-family='"Liberation Sans", sans-serif' font-size="9" fill="#484848">400</text><text x="72.7" y="287" font-family='"Liberation Sans", sans-serif' font-size="9" fill="#484848" text-anchor="middle">0</text><text x="103" y="287" font-family='"Liberation Sans", sans-serif' font-size="9" fill="#484848" text-anchor="middle">400</text><text x="133.3" y="287" font-family='"Liberation Sans", sans-serif' font-size="9" fill="#484848" text-anchor="middle">800</text><text x="163.7" y="287" font-family='"Liberation Sans", sans-serif' font-size="9" fill="#484848" text-anchor="middle">1200</text><text x="195.2" y="287" font-family='"Liberation Sans", sans-serif' font-size="9" fill="#484848" text-anchor="middle">0</text><text x="224.6" y="287" font-family='"Liberation Sans", sans-serif' font-size="9" fill="#484848" text-anchor="middle">400</text><text x="254" y="287" font-family='"Liberation Sans", sans-serif' font-size="9" fill="#484848" text-anchor="middle">800</text><text x="283.4" y="287" font-family='"Liberation Sans", sans-serif' font-size="9" fill="#484848" text-anchor="middle">1200</text><text x="312.8" y="287" font-family='"Liberation Sans", sans-serif' font-size="9" fill="#484848" text-anchor="middle">1600</text><text x="188" y="302" font-family='"Liberation Sans", sans-serif' font-size="9.3" fill="#484848" text-anchor="middle">Inlet NO Concentration (ppm)</text><text x="43" y="96" font-family='"Liberation Sans", sans-serif' font-size="9.3" fill="#484848" text-anchor="middle" transform="rotate(-90 43 96)">NH<tspan font-size="6.5" dy="2">3</tspan><tspan dy="-2"> Concentration (ppm)</tspan></text><text x="43" y="220" font-family='"Liberation Sans", sans-serif' font-size="9.3" fill="#484848" text-anchor="middle" transform="rotate(-90 43 220)">NO Concentration (ppm)</text><text x="348" y="87" font-family='"Liberation Sans", sans-serif' font-size="9.3" fill="#484848" text-anchor="middle" transform="rotate(90 348 87)">N<tspan font-size="6.5" dy="2">2</tspan><tspan dy="-2">Concentration (ppm)</tspan></text><text x="348" y="211" font-family='"Liberation Sans", sans-serif' font-size="9.3" fill="#484848" text-anchor="middle" transform="rotate(90 348 211)">N<tspan font-size="6.5" dy="2">2</tspan><tspan dy="-2">O Concentration (ppm)</tspan></text><line x1="412.1" y1="152.7" x2="412.1" y2="150.7" stroke="#3a3a3a" stroke-width="0.7"/><line x1="412.1" y1="274.5" x2="412.1" y2="272.5" stroke="#3a3a3a" stroke-width="0.7"/><line x1="536.5" y1="152.7" x2="536.5" y2="150.7" stroke="#3a3a3a" stroke-width="0.7"/><line x1="536.5" y1="274.5" x2="536.5" y2="272.5" stroke="#3a3a3a" stroke-width="0.7"/><line x1="420.3" y1="152.7" x2="420.3" y2="150.7" stroke="#3a3a3a" stroke-width="0.7"/><line x1="420.3" y1="274.5" x2="420.3" y2="272.5" stroke="#3a3a3a" stroke-width="0.7"/><line x1="544.8" y1="152.7" x2="544.8" y2="150.7" stroke="#3a3a3a" stroke-width="0.7"/><line x1="544.8" y1="274.5" x2="544.8" y2="272.5" stroke="#3a3a3a" stroke-width="0.7"/><line x1="428.4" y1="152.7" x2="428.4" y2="150.7" stroke="#3a3a3a" stroke-width="0.7"/><line x1="428.4" y1="274.5" x2="428.4" y2="272.5" stroke="#3a3a3a" stroke-width="0.7"/><line x1="553" y1="152.7" x2="553" y2="150.7" stroke="#3a3a3a" stroke-width="0.7"/><line x1="553" y1="274.5" x2="553" y2="272.5" stroke="#3a3a3a" stroke-width="0.7"/><line x1="436.6" y1="152.7" x2="436.6" y2="150.7" stroke="#3a3a3a" stroke-width="0.7"/><line x1="436.6" y1="274.5" x2="436.6" y2="272.5" stroke="#3a3a3a" stroke-width="0.7"/><line x1="561.3" y1="152.7" x2="561.3" y2="150.7" stroke="#3a3a3a" stroke-width="0.7"/><line x1="561.3" y1="274.5" x2="561.3" y2="272.5" stroke="#3a3a3a" stroke-width="0.7"/><line x1="444.8" y1="152.7" x2="444.8" y2="150.7" stroke="#3a3a3a" stroke-width="0.7"/><line x1="444.8" y1="274.5" x2="444.8" y2="272.5" stroke="#3a3a3a" stroke-width="0.7"/><line x1="569.5" y1="152.7" x2="569.5" y2="150.7" stroke="#3a3a3a" stroke-width="0.7"/><line x1="569.5" y1="274.5" x2="569.5" y2="272.5" stroke="#3a3a3a" stroke-width="0.7"/><line x1="452.9" y1="152.7" x2="452.9" y2="150.7" stroke="#3a3a3a" stroke-width="0.7"/><line x1="452.9" y1="274.5" x2="452.9" y2="272.5" stroke="#3a3a3a" stroke-width="0.7"/><line x1="577.8" y1="152.7" x2="577.8" y2="150.7" stroke="#3a3a3a" stroke-width="0.7"/><line x1="577.8" y1="274.5" x2="577.8" y2="272.5" stroke="#3a3a3a" stroke-width="0.7"/><line x1="461.1" y1="152.7" x2="461.1" y2="150.7" stroke="#3a3a3a" stroke-width="0.7"/><line x1="461.1" y1="274.5" x2="461.1" y2="272.5" stroke="#3a3a3a" stroke-width="0.7"/><line x1="586" y1="152.7" x2="586" y2="150.7" stroke="#3a3a3a" stroke-width="0.7"/><line x1="586" y1="274.5" x2="586" y2="272.5" stroke="#3a3a3a" stroke-width="0.7"/><line x1="469.2" y1="152.7" x2="469.2" y2="150.7" stroke="#3a3a3a" stroke-width="0.7"/><line x1="469.2" y1="274.5" x2="469.2" y2="272.5" stroke="#3a3a3a" stroke-width="0.7"/><line x1="594.3" y1="152.7" x2="594.3" y2="150.7" stroke="#3a3a3a" stroke-width="0.7"/><line x1="594.3" y1="274.5" x2="594.3" y2="272.5" stroke="#3a3a3a" stroke-width="0.7"/><line x1="477.4" y1="152.7" x2="477.4" y2="150.7" stroke="#3a3a3a" stroke-width="0.7"/><line x1="477.4" y1="274.5" x2="477.4" y2="272.5" stroke="#3a3a3a" stroke-width="0.7"/><line x1="602.5" y1="152.7" x2="602.5" y2="150.7" stroke="#3a3a3a" stroke-width="0.7"/><line x1="602.5" y1="274.5" x2="602.5" y2="272.5" stroke="#3a3a3a" stroke-width="0.7"/><line x1="485.5" y1="152.7" x2="485.5" y2="150.7" stroke="#3a3a3a" stroke-width="0.7"/><line x1="485.5" y1="274.5" x2="485.5" y2="272.5" stroke="#3a3a3a" stroke-width="0.7"/><line x1="610.8" y1="152.7" x2="610.8" y2="150.7" stroke="#3a3a3a" stroke-width="0.7"/><line x1="610.8" y1="274.5" x2="610.8" y2="272.5" stroke="#3a3a3a" stroke-width="0.7"/><line x1="493.6" y1="152.7" x2="493.6" y2="150.7" stroke="#3a3a3a" stroke-width="0.7"/><line x1="493.6" y1="274.5" x2="493.6" y2="272.5" stroke="#3a3a3a" stroke-width="0.7"/><line x1="619" y1="152.7" x2="619" y2="150.7" stroke="#3a3a3a" stroke-width="0.7"/><line x1="619" y1="274.5" x2="619" y2="272.5" stroke="#3a3a3a" stroke-width="0.7"/><line x1="501.8" y1="152.7" x2="501.8" y2="150.7" stroke="#3a3a3a" stroke-width="0.7"/><line x1="501.8" y1="274.5" x2="501.8" y2="272.5" stroke="#3a3a3a" stroke-width="0.7"/><line x1="627.3" y1="152.7" x2="627.3" y2="150.7" stroke="#3a3a3a" stroke-width="0.7"/><line x1="627.3" y1="274.5" x2="627.3" y2="272.5" stroke="#3a3a3a" stroke-width="0.7"/><line x1="509.9" y1="152.7" x2="509.9" y2="150.7" stroke="#3a3a3a" stroke-width="0.7"/><line x1="509.9" y1="274.5" x2="509.9" y2="272.5" stroke="#3a3a3a" stroke-width="0.7"/><line x1="635.5" y1="152.7" x2="635.5" y2="150.7" stroke="#3a3a3a" stroke-width="0.7"/><line x1="635.5" y1="274.5" x2="635.5" y2="272.5" stroke="#3a3a3a" stroke-width="0.7"/><line x1="518.1" y1="152.7" x2="518.1" y2="150.7" stroke="#3a3a3a" stroke-width="0.7"/><line x1="518.1" y1="274.5" x2="518.1" y2="272.5" stroke="#3a3a3a" stroke-width="0.7"/><line x1="643.8" y1="152.7" x2="643.8" y2="150.7" stroke="#3a3a3a" stroke-width="0.7"/><line x1="643.8" y1="274.5" x2="643.8" y2="272.5" stroke="#3a3a3a" stroke-width="0.7"/><line x1="526.2" y1="152.7" x2="526.2" y2="150.7" stroke="#3a3a3a" stroke-width="0.7"/><line x1="526.2" y1="274.5" x2="526.2" y2="272.5" stroke="#3a3a3a" stroke-width="0.7"/><line x1="652" y1="152.7" x2="652" y2="150.7" stroke="#3a3a3a" stroke-width="0.7"/><line x1="652" y1="274.5" x2="652" y2="272.5" stroke="#3a3a3a" stroke-width="0.7"/><line x1="411.6" y1="152.7" x2="414" y2="152.7" stroke="#3a3a3a" stroke-width="0.7"/><line x1="411.6" y1="274.5" x2="414" y2="274.5" stroke="#3a3a3a" stroke-width="0.7"/><line x1="656" y1="152.7" x2="653.5" y2="152.7" stroke="#3a3a3a" stroke-width="0.7"/><line x1="656" y1="152.7" x2="658.5" y2="152.7" stroke="#3a3a3a" stroke-width="0.7"/><line x1="656" y1="274.5" x2="653.5" y2="274.5" stroke="#3a3a3a" stroke-width="0.7"/><line x1="656" y1="274.5" x2="658.5" y2="274.5" stroke="#3a3a3a" stroke-width="0.7"/><line x1="536.2" y1="152.7" x2="538.5" y2="152.7" stroke="#3a3a3a" stroke-width="0.7"/><line x1="536.2" y1="274.5" x2="538.5" y2="274.5" stroke="#3a3a3a" stroke-width="0.7"/><line x1="531.5" y1="152.7" x2="529" y2="152.7" stroke="#3a3a3a" stroke-width="0.7"/><line x1="531.5" y1="274.5" x2="529" y2="274.5" stroke="#3a3a3a" stroke-width="0.7"/><line x1="411.6" y1="130.6" x2="414" y2="130.6" stroke="#3a3a3a" stroke-width="0.7"/><line x1="411.6" y1="252.3" x2="414" y2="252.3" stroke="#3a3a3a" stroke-width="0.7"/><line x1="656" y1="131.9" x2="653.5" y2="131.9" stroke="#3a3a3a" stroke-width="0.7"/><line x1="656" y1="131.9" x2="658.5" y2="131.9" stroke="#3a3a3a" stroke-width="0.7"/><line x1="656" y1="252.5" x2="653.5" y2="252.5" stroke="#3a3a3a" stroke-width="0.7"/><line x1="656" y1="252.5" x2="658.5" y2="252.5" stroke="#3a3a3a" stroke-width="0.7"/><line x1="536.2" y1="131.9" x2="538.5" y2="131.9" stroke="#3a3a3a" stroke-width="0.7"/><line x1="536.2" y1="252.5" x2="538.5" y2="252.5" stroke="#3a3a3a" stroke-width="0.7"/><line x1="531.5" y1="130.6" x2="529" y2="130.6" stroke="#3a3a3a" stroke-width="0.7"/><line x1="531.5" y1="252.3" x2="529" y2="252.3" stroke="#3a3a3a" stroke-width="0.7"/><line x1="411.6" y1="108.5" x2="414" y2="108.5" stroke="#3a3a3a" stroke-width="0.7"/><line x1="411.6" y1="230.1" x2="414" y2="230.1" stroke="#3a3a3a" stroke-width="0.7"/><line x1="656" y1="111.1" x2="653.5" y2="111.1" stroke="#3a3a3a" stroke-width="0.7"/><line x1="656" y1="111.1" x2="658.5" y2="111.1" stroke="#3a3a3a" stroke-width="0.7"/><line x1="656" y1="230.5" x2="653.5" y2="230.5" stroke="#3a3a3a" stroke-width="0.7"/><line x1="656" y1="230.5" x2="658.5" y2="230.5" stroke="#3a3a3a" stroke-width="0.7"/><line x1="536.2" y1="111.1" x2="538.5" y2="111.1" stroke="#3a3a3a" stroke-width="0.7"/><line x1="536.2" y1="230.5" x2="538.5" y2="230.5" stroke="#3a3a3a" stroke-width="0.7"/><line x1="531.5" y1="108.5" x2="529" y2="108.5" stroke="#3a3a3a" stroke-width="0.7"/><line x1="531.5" y1="230.1" x2="529" y2="230.1" stroke="#3a3a3a" stroke-width="0.7"/><line x1="411.6" y1="86.4" x2="414" y2="86.4" stroke="#3a3a3a" stroke-width="0.7"/><line x1="411.6" y1="207.9" x2="414" y2="207.9" stroke="#3a3a3a" stroke-width="0.7"/><line x1="656" y1="90.3" x2="653.5" y2="90.3" stroke="#3a3a3a" stroke-width="0.7"/><line x1="656" y1="90.3" x2="658.5" y2="90.3" stroke="#3a3a3a" stroke-width="0.7"/><line x1="656" y1="208.5" x2="653.5" y2="208.5" stroke="#3a3a3a" stroke-width="0.7"/><line x1="656" y1="208.5" x2="658.5" y2="208.5" stroke="#3a3a3a" stroke-width="0.7"/><line x1="536.2" y1="90.3" x2="538.5" y2="90.3" stroke="#3a3a3a" stroke-width="0.7"/><line x1="536.2" y1="208.5" x2="538.5" y2="208.5" stroke="#3a3a3a" stroke-width="0.7"/><line x1="531.5" y1="86.4" x2="529" y2="86.4" stroke="#3a3a3a" stroke-width="0.7"/><line x1="531.5" y1="207.9" x2="529" y2="207.9" stroke="#3a3a3a" stroke-width="0.7"/><line x1="411.6" y1="64.3" x2="414" y2="64.3" stroke="#3a3a3a" stroke-width="0.7"/><line x1="411.6" y1="185.7" x2="414" y2="185.7" stroke="#3a3a3a" stroke-width="0.7"/><line x1="656" y1="69.5" x2="653.5" y2="69.5" stroke="#3a3a3a" stroke-width="0.7"/><line x1="656" y1="69.5" x2="658.5" y2="69.5" stroke="#3a3a3a" stroke-width="0.7"/><line x1="656" y1="186.5" x2="653.5" y2="186.5" stroke="#3a3a3a" stroke-width="0.7"/><line x1="656" y1="186.5" x2="658.5" y2="186.5" stroke="#3a3a3a" stroke-width="0.7"/><line x1="536.2" y1="69.5" x2="538.5" y2="69.5" stroke="#3a3a3a" stroke-width="0.7"/><line x1="536.2" y1="186.5" x2="538.5" y2="186.5" stroke="#3a3a3a" stroke-width="0.7"/><line x1="531.5" y1="64.3" x2="529" y2="64.3" stroke="#3a3a3a" stroke-width="0.7"/><line x1="531.5" y1="185.7" x2="529" y2="185.7" stroke="#3a3a3a" stroke-width="0.7"/><line x1="411.6" y1="42.2" x2="414" y2="42.2" stroke="#3a3a3a" stroke-width="0.7"/><line x1="411.6" y1="163.5" x2="414" y2="163.5" stroke="#3a3a3a" stroke-width="0.7"/><line x1="656" y1="48.7" x2="653.5" y2="48.7" stroke="#3a3a3a" stroke-width="0.7"/><line x1="656" y1="48.7" x2="658.5" y2="48.7" stroke="#3a3a3a" stroke-width="0.7"/><line x1="656" y1="164.5" x2="653.5" y2="164.5" stroke="#3a3a3a" stroke-width="0.7"/><line x1="656" y1="164.5" x2="658.5" y2="164.5" stroke="#3a3a3a" stroke-width="0.7"/><line x1="536.2" y1="48.7" x2="538.5" y2="48.7" stroke="#3a3a3a" stroke-width="0.7"/><line x1="536.2" y1="164.5" x2="538.5" y2="164.5" stroke="#3a3a3a" stroke-width="0.7"/><line x1="531.5" y1="42.2" x2="529" y2="42.2" stroke="#3a3a3a" stroke-width="0.7"/><line x1="531.5" y1="163.5" x2="529" y2="163.5" stroke="#3a3a3a" stroke-width="0.7"/><line x1="506.7" y1="31.5" x2="506.7" y2="274" stroke="#d03030" stroke-width="1.6" stroke-dasharray="3.5,3"/><line x1="630.8" y1="31.5" x2="630.8" y2="274" stroke="#d03030" stroke-width="1.6" stroke-dasharray="3.5,3"/><polyline points="420.2,152.7 428.3,152.7 436.7,152.7 448.8,152.7 453,146.5 461.5,126 469.6,108.7 477.7,93.5 486.3,78.2 494.4,65.6 502.8,51.3 506.9,46.8 510.9,46.6 519,46.6 527.1,46.6" fill="none" stroke="#a8a8a8" stroke-width="1.0" stroke-linejoin="round"/><polygon points="420.2,150.2 422.5,154.4 417.9,154.4" fill="#fff" stroke="#a8a8a8" stroke-width="0.8" stroke-linejoin="round"/><polygon points="428.3,150.2 430.6,154.4 426,154.4" fill="#fff" stroke="#a8a8a8" stroke-width="0.8" stroke-linejoin="round"/><polygon points="436.7,150.2 439,154.4 434.4,154.4" fill="#fff" stroke="#a8a8a8" stroke-width="0.8" stroke-linejoin="round"/><polygon points="448.8,150.2 451.1,154.4 446.5,154.4" fill="#fff" stroke="#a8a8a8" stroke-width="0.8" stroke-linejoin="round"/><polygon points="453,144 455.3,148.2 450.7,148.2" fill="#fff" stroke="#a8a8a8" stroke-width="0.8" stroke-linejoin="round"/><polygon points="461.5,123.5 463.8,127.6 459.2,127.6" fill="#fff" stroke="#a8a8a8" stroke-width="0.8" stroke-linejoin="round"/><polygon points="469.6,106.2 471.9,110.4 467.3,110.4" fill="#fff" stroke="#a8a8a8" stroke-width="0.8" stroke-linejoin="round"/><polygon points="477.7,91 480,95.1 475.4,95.1" fill="#fff" stroke="#a8a8a8" stroke-width="0.8" stroke-linejoin="round"/><polygon points="486.3,75.7 488.6,79.9 484,79.9" fill="#fff" stroke="#a8a8a8" stroke-width="0.8" stroke-linejoin="round"/><polygon points="494.4,63.1 496.7,67.3 492.1,67.3" fill="#fff" stroke="#a8a8a8" stroke-width="0.8" stroke-linejoin="round"/><polygon points="502.8,48.8 505.1,52.9 500.5,52.9" fill="#fff" stroke="#a8a8a8" stroke-width="0.8" stroke-linejoin="round"/><polygon points="506.9,44.4 509.2,48.5 504.6,48.5" fill="#fff" stroke="#a8a8a8" stroke-width="0.8" stroke-linejoin="round"/><polygon points="510.9,44.1 513.2,48.3 508.6,48.3" fill="#fff" stroke="#a8a8a8" stroke-width="0.8" stroke-linejoin="round"/><polygon points="519,44.1 521.3,48.3 516.7,48.3" fill="#fff" stroke="#a8a8a8" stroke-width="0.8" stroke-linejoin="round"/><polygon points="527.1,44.1 529.4,48.3 524.8,48.3" fill="#fff" stroke="#a8a8a8" stroke-width="0.8" stroke-linejoin="round"/><polyline points="420.2,152.7 428.3,152.7 436.7,152.7 444.4,152.7 453,137.5 461.5,116.7 469.6,97.2 477.7,81.8 486.3,68.3 494.4,54.1 503.4,43.1 506.9,42.2 510.9,42.2 519,42.2 527.1,42.2" fill="none" stroke="#8a8a8a" stroke-width="1.2" stroke-linejoin="round"/><polygon points="420.2,150.2 422.5,154.4 417.9,154.4" fill="#8a8a8a" stroke="#8a8a8a" stroke-width="0.8" stroke-linejoin="round"/><polygon points="428.3,150.2 430.6,154.4 426,154.4" fill="#8a8a8a" stroke="#8a8a8a" stroke-width="0.8" stroke-linejoin="round"/><polygon points="436.7,150.2 439,154.4 434.4,154.4" fill="#8a8a8a" stroke="#8a8a8a" stroke-width="0.8" stroke-linejoin="round"/><polygon points="444.4,150.2 446.7,154.4 442.1,154.4" fill="#8a8a8a" stroke="#8a8a8a" stroke-width="0.8" stroke-linejoin="round"/><polygon points="453,135 455.3,139.1 450.7,139.1" fill="#8a8a8a" stroke="#8a8a8a" stroke-width="0.8" stroke-linejoin="round"/><polygon points="461.5,114.2 463.8,118.3 459.2,118.3" fill="#8a8a8a" stroke="#8a8a8a" stroke-width="0.8" stroke-linejoin="round"/><polygon points="469.6,94.7 471.9,98.9 467.3,98.9" fill="#8a8a8a" stroke="#8a8a8a" stroke-width="0.8" stroke-linejoin="round"/><polygon points="477.7,79.3 480,83.4 475.4,83.4" fill="#8a8a8a" stroke="#8a8a8a" stroke-width="0.8" stroke-linejoin="round"/><polygon points="486.3,65.8 488.6,69.9 484,69.9" fill="#8a8a8a" stroke="#8a8a8a" stroke-width="0.8" stroke-linejoin="round"/><polygon points="494.4,51.6 496.7,55.8 492.1,55.8" fill="#8a8a8a" stroke="#8a8a8a" stroke-width="0.8" stroke-linejoin="round"/><polygon points="503.4,40.6 505.7,44.7 501.1,44.7" fill="#8a8a8a" stroke="#8a8a8a" stroke-width="0.8" stroke-linejoin="round"/><polygon points="506.9,39.7 509.2,43.9 504.6,43.9" fill="#8a8a8a" stroke="#8a8a8a" stroke-width="0.8" stroke-linejoin="round"/><polygon points="510.9,39.7 513.2,43.9 508.6,43.9" fill="#8a8a8a" stroke="#8a8a8a" stroke-width="0.8" stroke-linejoin="round"/><polygon points="519,39.7 521.3,43.9 516.7,43.9" fill="#8a8a8a" stroke="#8a8a8a" stroke-width="0.8" stroke-linejoin="round"/><polygon points="527.1,39.7 529.4,43.9 524.8,43.9" fill="#8a8a8a" stroke="#8a8a8a" stroke-width="0.8" stroke-linejoin="round"/><polyline points="420.2,152.7 428.3,146.5 436.7,136.1 444.4,126.6 453,117.8 461.5,113.6 469.6,112.9 477.7,112.5 486.3,112 494.4,112 502.8,112 506.9,112 510.9,112 519,112 527.1,112" fill="none" stroke="#1c3fc4" stroke-width="1.0" stroke-linejoin="round"/><rect x="418.3" y="150.8" width="3.8" height="3.8" fill="#fff" stroke="#1c3fc4" stroke-width="1.0"/><rect x="426.4" y="144.6" width="3.8" height="3.8" fill="#fff" stroke="#1c3fc4" stroke-width="1.0"/><rect x="434.8" y="134.2" width="3.8" height="3.8" fill="#fff" stroke="#1c3fc4" stroke-width="1.0"/><rect x="442.5" y="124.7" width="3.8" height="3.8" fill="#fff" stroke="#1c3fc4" stroke-width="1.0"/><rect x="451.1" y="115.9" width="3.8" height="3.8" fill="#fff" stroke="#1c3fc4" stroke-width="1.0"/><rect x="459.6" y="111.7" width="3.8" height="3.8" fill="#fff" stroke="#1c3fc4" stroke-width="1.0"/><rect x="467.7" y="111" width="3.8" height="3.8" fill="#fff" stroke="#1c3fc4" stroke-width="1.0"/><rect x="475.8" y="110.6" width="3.8" height="3.8" fill="#fff" stroke="#1c3fc4" stroke-width="1.0"/><rect x="484.4" y="110.1" width="3.8" height="3.8" fill="#fff" stroke="#1c3fc4" stroke-width="1.0"/><rect x="492.5" y="110.1" width="3.8" height="3.8" fill="#fff" stroke="#1c3fc4" stroke-width="1.0"/><rect x="500.9" y="110.1" width="3.8" height="3.8" fill="#fff" stroke="#1c3fc4" stroke-width="1.0"/><rect x="505" y="110.1" width="3.8" height="3.8" fill="#fff" stroke="#1c3fc4" stroke-width="1.0"/><rect x="509" y="110.1" width="3.8" height="3.8" fill="#fff" stroke="#1c3fc4" stroke-width="1.0"/><rect x="517.1" y="110.1" width="3.8" height="3.8" fill="#fff" stroke="#1c3fc4" stroke-width="1.0"/><rect x="525.2" y="110.1" width="3.8" height="3.8" fill="#fff" stroke="#1c3fc4" stroke-width="1.0"/><polyline points="420.2,152.7 428.3,142.8 436.7,133.7 444.4,125.7 453,117.8 461.5,108.7 469.6,103 477.7,99.7 486.3,98.3 494.4,97 502.8,96.6 506.9,96.3 510.9,95.7 519,95.2 527.1,95.2" fill="none" stroke="#1c3fc4" stroke-width="1.8" stroke-linejoin="round"/><rect x="418.3" y="150.8" width="3.8" height="3.8" fill="#1c3fc4" stroke="#1c3fc4" stroke-width="1.0"/><rect x="426.4" y="140.9" width="3.8" height="3.8" fill="#1c3fc4" stroke="#1c3fc4" stroke-width="1.0"/><rect x="434.8" y="131.8" width="3.8" height="3.8" fill="#1c3fc4" stroke="#1c3fc4" stroke-width="1.0"/><rect x="442.5" y="123.8" width="3.8" height="3.8" fill="#1c3fc4" stroke="#1c3fc4" stroke-width="1.0"/><rect x="451.1" y="115.9" width="3.8" height="3.8" fill="#1c3fc4" stroke="#1c3fc4" stroke-width="1.0"/><rect x="459.6" y="106.8" width="3.8" height="3.8" fill="#1c3fc4" stroke="#1c3fc4" stroke-width="1.0"/><rect x="467.7" y="101.1" width="3.8" height="3.8" fill="#1c3fc4" stroke="#1c3fc4" stroke-width="1.0"/><rect x="475.8" y="97.8" width="3.8" height="3.8" fill="#1c3fc4" stroke="#1c3fc4" stroke-width="1.0"/><rect x="484.4" y="96.4" width="3.8" height="3.8" fill="#1c3fc4" stroke="#1c3fc4" stroke-width="1.0"/><rect x="492.5" y="95.1" width="3.8" height="3.8" fill="#1c3fc4" stroke="#1c3fc4" stroke-width="1.0"/><rect x="500.9" y="94.7" width="3.8" height="3.8" fill="#1c3fc4" stroke="#1c3fc4" stroke-width="1.0"/><rect x="505" y="94.4" width="3.8" height="3.8" fill="#1c3fc4" stroke="#1c3fc4" stroke-width="1.0"/><rect x="509" y="93.8" width="3.8" height="3.8" fill="#1c3fc4" stroke="#1c3fc4" stroke-width="1.0"/><rect x="517.1" y="93.3" width="3.8" height="3.8" fill="#1c3fc4" stroke="#1c3fc4" stroke-width="1.0"/><rect x="525.2" y="93.3" width="3.8" height="3.8" fill="#1c3fc4" stroke="#1c3fc4" stroke-width="1.0"/><polyline points="420.2,215.7 428.3,241.6 436.7,264.7 444.4,274.5 453,274.5" fill="none" stroke="#a8a8a8" stroke-width="1.0" stroke-linejoin="round"/><polygon points="420.2,213.2 422.5,217.3 417.9,217.3" fill="#fff" stroke="#a8a8a8" stroke-width="0.8" stroke-linejoin="round"/><polygon points="428.3,239.2 430.6,243.3 426,243.3" fill="#fff" stroke="#a8a8a8" stroke-width="0.8" stroke-linejoin="round"/><polygon points="436.7,262.2 439,266.4 434.4,266.4" fill="#fff" stroke="#a8a8a8" stroke-width="0.8" stroke-linejoin="round"/><polygon points="444.4,272 446.7,276.2 442.1,276.2" fill="#fff" stroke="#a8a8a8" stroke-width="0.8" stroke-linejoin="round"/><polygon points="453,272 455.3,276.2 450.7,276.2" fill="#fff" stroke="#a8a8a8" stroke-width="0.8" stroke-linejoin="round"/><polyline points="420.2,213.9 428.3,238.1 436.7,262.5 444.4,274.1 453,274.5" fill="none" stroke="#8a8a8a" stroke-width="1.2" stroke-linejoin="round"/><polygon points="420.2,211.4 422.5,215.6 417.9,215.6" fill="#8a8a8a" stroke="#8a8a8a" stroke-width="0.8" stroke-linejoin="round"/><polygon points="428.3,235.6 430.6,239.7 426,239.7" fill="#8a8a8a" stroke="#8a8a8a" stroke-width="0.8" stroke-linejoin="round"/><polygon points="436.7,260 439,264.2 434.4,264.2" fill="#8a8a8a" stroke="#8a8a8a" stroke-width="0.8" stroke-linejoin="round"/><polygon points="444.4,271.6 446.7,275.7 442.1,275.7" fill="#8a8a8a" stroke="#8a8a8a" stroke-width="0.8" stroke-linejoin="round"/><polygon points="453,272 455.3,276.2 450.7,276.2" fill="#8a8a8a" stroke="#8a8a8a" stroke-width="0.8" stroke-linejoin="round"/><polyline points="453,272.3 461.5,272.3 469.6,272.3 477.7,272.3 486.3,272.3 494.4,272.3 502.8,272.3 506.9,272.3 510.9,272.3 519,272.3 527.1,272.3" fill="none" stroke="#8a8a8a" stroke-width="1.0" stroke-linejoin="round"/><polygon points="453,270.3 454.8,273.6 451.2,273.6" fill="#8a8a8a" stroke="#8a8a8a" stroke-width="0.8" stroke-linejoin="round"/><polygon points="461.5,270.3 463.3,273.6 459.7,273.6" fill="#8a8a8a" stroke="#8a8a8a" stroke-width="0.8" stroke-linejoin="round"/><polygon points="469.6,270.3 471.4,273.6 467.8,273.6" fill="#8a8a8a" stroke="#8a8a8a" stroke-width="0.8" stroke-linejoin="round"/><polygon points="477.7,270.3 479.5,273.6 475.9,273.6" fill="#8a8a8a" stroke="#8a8a8a" stroke-width="0.8" stroke-linejoin="round"/><polygon points="486.3,270.3 488.1,273.6 484.5,273.6" fill="#8a8a8a" stroke="#8a8a8a" stroke-width="0.8" stroke-linejoin="round"/><polygon points="494.4,270.3 496.2,273.6 492.6,273.6" fill="#8a8a8a" stroke="#8a8a8a" stroke-width="0.8" stroke-linejoin="round"/><polygon points="502.8,270.3 504.6,273.6 501,273.6" fill="#8a8a8a" stroke="#8a8a8a" stroke-width="0.8" stroke-linejoin="round"/><polygon points="506.9,270.3 508.7,273.6 505.1,273.6" fill="#8a8a8a" stroke="#8a8a8a" stroke-width="0.8" stroke-linejoin="round"/><polygon points="510.9,270.3 512.7,273.6 509.1,273.6" fill="#8a8a8a" stroke="#8a8a8a" stroke-width="0.8" stroke-linejoin="round"/><polygon points="519,270.3 520.8,273.6 517.2,273.6" fill="#8a8a8a" stroke="#8a8a8a" stroke-width="0.8" stroke-linejoin="round"/><polygon points="527.1,270.3 528.9,273.6 525.3,273.6" fill="#8a8a8a" stroke="#8a8a8a" stroke-width="0.8" stroke-linejoin="round"/><polyline points="420.2,199.5 428.3,229 436.7,247 444.4,262.5 453,273.6 461.5,273.8 469.6,273.8 477.7,273.8 486.3,273.8 494.4,273.8 502.8,273.8 506.9,273.8 510.9,273.8 519,273.8 527.1,273.8" fill="none" stroke="#1c3fc4" stroke-width="1.0" stroke-linejoin="round"/><rect x="418.3" y="197.6" width="3.8" height="3.8" fill="#fff" stroke="#1c3fc4" stroke-width="1.0"/><rect x="426.4" y="227.1" width="3.8" height="3.8" fill="#fff" stroke="#1c3fc4" stroke-width="1.0"/><rect x="434.8" y="245.1" width="3.8" height="3.8" fill="#fff" stroke="#1c3fc4" stroke-width="1.0"/><rect x="442.5" y="260.6" width="3.8" height="3.8" fill="#fff" stroke="#1c3fc4" stroke-width="1.0"/><rect x="451.1" y="271.7" width="3.8" height="3.8" fill="#fff" stroke="#1c3fc4" stroke-width="1.0"/><rect x="459.6" y="271.9" width="3.8" height="3.8" fill="#fff" stroke="#1c3fc4" stroke-width="1.0"/><rect x="467.7" y="271.9" width="3.8" height="3.8" fill="#fff" stroke="#1c3fc4" stroke-width="1.0"/><rect x="475.8" y="271.9" width="3.8" height="3.8" fill="#fff" stroke="#1c3fc4" stroke-width="1.0"/><rect x="484.4" y="271.9" width="3.8" height="3.8" fill="#fff" stroke="#1c3fc4" stroke-width="1.0"/><rect x="492.5" y="271.9" width="3.8" height="3.8" fill="#fff" stroke="#1c3fc4" stroke-width="1.0"/><rect x="500.9" y="271.9" width="3.8" height="3.8" fill="#fff" stroke="#1c3fc4" stroke-width="1.0"/><rect x="505" y="271.9" width="3.8" height="3.8" fill="#fff" stroke="#1c3fc4" stroke-width="1.0"/><rect x="509" y="271.9" width="3.8" height="3.8" fill="#fff" stroke="#1c3fc4" stroke-width="1.0"/><rect x="517.1" y="271.9" width="3.8" height="3.8" fill="#fff" stroke="#1c3fc4" stroke-width="1.0"/><rect x="525.2" y="271.9" width="3.8" height="3.8" fill="#fff" stroke="#1c3fc4" stroke-width="1.0"/><polyline points="420.2,196.8 428.3,213 436.7,226.8 444.4,238.1 453,248.3 461.5,255.6 469.6,259 477.7,259.8 486.3,260.5 494.4,260.7 502.8,261.2 506.9,261.2 510.9,261.2 519,261.4 527.1,261.6" fill="none" stroke="#1c3fc4" stroke-width="1.8" stroke-linejoin="round"/><rect x="418.3" y="194.9" width="3.8" height="3.8" fill="#1c3fc4" stroke="#1c3fc4" stroke-width="1.0"/><rect x="426.4" y="211.1" width="3.8" height="3.8" fill="#1c3fc4" stroke="#1c3fc4" stroke-width="1.0"/><rect x="434.8" y="224.9" width="3.8" height="3.8" fill="#1c3fc4" stroke="#1c3fc4" stroke-width="1.0"/><rect x="442.5" y="236.2" width="3.8" height="3.8" fill="#1c3fc4" stroke="#1c3fc4" stroke-width="1.0"/><rect x="451.1" y="246.4" width="3.8" height="3.8" fill="#1c3fc4" stroke="#1c3fc4" stroke-width="1.0"/><rect x="459.6" y="253.7" width="3.8" height="3.8" fill="#1c3fc4" stroke="#1c3fc4" stroke-width="1.0"/><rect x="467.7" y="257.1" width="3.8" height="3.8" fill="#1c3fc4" stroke="#1c3fc4" stroke-width="1.0"/><rect x="475.8" y="257.9" width="3.8" height="3.8" fill="#1c3fc4" stroke="#1c3fc4" stroke-width="1.0"/><rect x="484.4" y="258.6" width="3.8" height="3.8" fill="#1c3fc4" stroke="#1c3fc4" stroke-width="1.0"/><rect x="492.5" y="258.8" width="3.8" height="3.8" fill="#1c3fc4" stroke="#1c3fc4" stroke-width="1.0"/><rect x="500.9" y="259.3" width="3.8" height="3.8" fill="#1c3fc4" stroke="#1c3fc4" stroke-width="1.0"/><rect x="505" y="259.3" width="3.8" height="3.8" fill="#1c3fc4" stroke="#1c3fc4" stroke-width="1.0"/><rect x="509" y="259.3" width="3.8" height="3.8" fill="#1c3fc4" stroke="#1c3fc4" stroke-width="1.0"/><rect x="517.1" y="259.5" width="3.8" height="3.8" fill="#1c3fc4" stroke="#1c3fc4" stroke-width="1.0"/><rect x="525.2" y="259.7" width="3.8" height="3.8" fill="#1c3fc4" stroke="#1c3fc4" stroke-width="1.0"/><polyline points="544.6,139.2 552.7,127.5 561.3,115.9 568.9,99.7 577.1,104.7 585.6,114.8 593.6,123.8 602.1,130.2 610.4,137.3 618.3,142.7 626,148.1 634.7,151.5 643.8,152.5 652,152.5" fill="none" stroke="#a8a8a8" stroke-width="1.0" stroke-linejoin="round"/><polygon points="544.6,136.7 546.9,140.8 542.3,140.8" fill="#fff" stroke="#a8a8a8" stroke-width="0.8" stroke-linejoin="round"/><polygon points="552.7,125 555,129.2 550.4,129.2" fill="#fff" stroke="#a8a8a8" stroke-width="0.8" stroke-linejoin="round"/><polygon points="561.3,113.4 563.6,117.5 559,117.5" fill="#fff" stroke="#a8a8a8" stroke-width="0.8" stroke-linejoin="round"/><polygon points="568.9,97.2 571.2,101.3 566.6,101.3" fill="#fff" stroke="#a8a8a8" stroke-width="0.8" stroke-linejoin="round"/><polygon points="577.1,102.2 579.4,106.3 574.8,106.3" fill="#fff" stroke="#a8a8a8" stroke-width="0.8" stroke-linejoin="round"/><polygon points="585.6,112.4 587.9,116.5 583.3,116.5" fill="#fff" stroke="#a8a8a8" stroke-width="0.8" stroke-linejoin="round"/><polygon points="593.6,121.3 595.9,125.4 591.3,125.4" fill="#fff" stroke="#a8a8a8" stroke-width="0.8" stroke-linejoin="round"/><polygon points="602.1,127.8 604.4,131.9 599.8,131.9" fill="#fff" stroke="#a8a8a8" stroke-width="0.8" stroke-linejoin="round"/><polygon points="610.4,134.8 612.7,139 608.1,139" fill="#fff" stroke="#a8a8a8" stroke-width="0.8" stroke-linejoin="round"/><polygon points="618.3,140.2 620.6,144.4 616,144.4" fill="#fff" stroke="#a8a8a8" stroke-width="0.8" stroke-linejoin="round"/><polygon points="626,145.6 628.3,149.8 623.7,149.8" fill="#fff" stroke="#a8a8a8" stroke-width="0.8" stroke-linejoin="round"/><polygon points="634.7,149 637,153.1 632.4,153.1" fill="#fff" stroke="#a8a8a8" stroke-width="0.8" stroke-linejoin="round"/><polygon points="643.8,150 646.1,154.1 641.5,154.1" fill="#fff" stroke="#a8a8a8" stroke-width="0.8" stroke-linejoin="round"/><polygon points="652,150 654.3,154.1 649.8,154.1" fill="#fff" stroke="#a8a8a8" stroke-width="0.8" stroke-linejoin="round"/><polyline points="544.6,138.3 552.7,126.7 561.3,115.1 568.9,98.8 577.1,103.8 585.6,114 593.6,123 602.1,129.4 610.4,136.5 618.3,141.9 626,147.3 634.7,150.6 643.8,151.7 652,151.7" fill="none" stroke="#8a8a8a" stroke-width="1.2" stroke-linejoin="round"/><polygon points="544.6,135.9 546.9,140 542.3,140" fill="#fff" stroke="#8a8a8a" stroke-width="0.8" stroke-linejoin="round"/><polygon points="552.7,124.2 555,128.4 550.4,128.4" fill="#fff" stroke="#8a8a8a" stroke-width="0.8" stroke-linejoin="round"/><polygon points="561.3,112.6 563.6,116.7 559,116.7" fill="#fff" stroke="#8a8a8a" stroke-width="0.8" stroke-linejoin="round"/><polygon points="568.9,96.3 571.2,100.5 566.6,100.5" fill="#fff" stroke="#8a8a8a" stroke-width="0.8" stroke-linejoin="round"/><polygon points="577.1,101.3 579.4,105.5 574.8,105.5" fill="#fff" stroke="#8a8a8a" stroke-width="0.8" stroke-linejoin="round"/><polygon points="585.6,111.5 587.9,115.7 583.3,115.7" fill="#fff" stroke="#8a8a8a" stroke-width="0.8" stroke-linejoin="round"/><polygon points="593.6,120.5 595.9,124.6 591.3,124.6" fill="#fff" stroke="#8a8a8a" stroke-width="0.8" stroke-linejoin="round"/><polygon points="602.1,126.9 604.4,131.1 599.8,131.1" fill="#fff" stroke="#8a8a8a" stroke-width="0.8" stroke-linejoin="round"/><polygon points="610.4,134 612.7,138.1 608.1,138.1" fill="#fff" stroke="#8a8a8a" stroke-width="0.8" stroke-linejoin="round"/><polygon points="618.3,139.4 620.6,143.5 616,143.5" fill="#fff" stroke="#8a8a8a" stroke-width="0.8" stroke-linejoin="round"/><polygon points="626,144.8 628.3,148.9 623.7,148.9" fill="#fff" stroke="#8a8a8a" stroke-width="0.8" stroke-linejoin="round"/><polygon points="634.7,148.1 637,152.3 632.4,152.3" fill="#fff" stroke="#8a8a8a" stroke-width="0.8" stroke-linejoin="round"/><polygon points="643.8,149.2 646.1,153.3 641.5,153.3" fill="#fff" stroke="#8a8a8a" stroke-width="0.8" stroke-linejoin="round"/><polygon points="652,149.2 654.3,153.3 649.8,153.3" fill="#fff" stroke="#8a8a8a" stroke-width="0.8" stroke-linejoin="round"/><polyline points="544.6,143.3 552.7,144.8 561.3,144.8 568.9,144.4 577.1,143.1 585.6,141.9 593.6,141.9 602.1,143.1 610.4,144.8 618.3,144.8 626,146.5 634.7,146.9 643.8,146.9 652,146.9" fill="none" stroke="#1c3fc4" stroke-width="1.8" stroke-linejoin="round"/><rect x="542.7" y="141.4" width="3.8" height="3.8" fill="#1c3fc4" stroke="#1c3fc4" stroke-width="1.0"/><rect x="550.8" y="142.9" width="3.8" height="3.8" fill="#1c3fc4" stroke="#1c3fc4" stroke-width="1.0"/><rect x="559.4" y="142.9" width="3.8" height="3.8" fill="#1c3fc4" stroke="#1c3fc4" stroke-width="1.0"/><rect x="567" y="142.5" width="3.8" height="3.8" fill="#1c3fc4" stroke="#1c3fc4" stroke-width="1.0"/><rect x="575.2" y="141.2" width="3.8" height="3.8" fill="#1c3fc4" stroke="#1c3fc4" stroke-width="1.0"/><rect x="583.7" y="140" width="3.8" height="3.8" fill="#1c3fc4" stroke="#1c3fc4" stroke-width="1.0"/><rect x="591.7" y="140" width="3.8" height="3.8" fill="#1c3fc4" stroke="#1c3fc4" stroke-width="1.0"/><rect x="600.2" y="141.2" width="3.8" height="3.8" fill="#1c3fc4" stroke="#1c3fc4" stroke-width="1.0"/><rect x="608.5" y="142.9" width="3.8" height="3.8" fill="#1c3fc4" stroke="#1c3fc4" stroke-width="1.0"/><rect x="616.4" y="142.9" width="3.8" height="3.8" fill="#1c3fc4" stroke="#1c3fc4" stroke-width="1.0"/><rect x="624.1" y="144.6" width="3.8" height="3.8" fill="#1c3fc4" stroke="#1c3fc4" stroke-width="1.0"/><rect x="632.8" y="145" width="3.8" height="3.8" fill="#1c3fc4" stroke="#1c3fc4" stroke-width="1.0"/><rect x="641.9" y="145" width="3.8" height="3.8" fill="#1c3fc4" stroke="#1c3fc4" stroke-width="1.0"/><rect x="650.1" y="145" width="3.8" height="3.8" fill="#1c3fc4" stroke="#1c3fc4" stroke-width="1.0"/><polyline points="544.6,143.3 552.7,144.8 561.3,144.8 568.9,144.4 577.1,143.1 585.6,141.9 593.6,134.8 602.1,143.1 610.4,144.8 618.3,144.8 626,146.5 634.7,146.5 643.8,146.5 652,146" fill="none" stroke="#1c3fc4" stroke-width="1.0" stroke-linejoin="round"/><rect x="542.7" y="141.4" width="3.8" height="3.8" fill="#fff" stroke="#1c3fc4" stroke-width="1.0"/><rect x="550.8" y="142.9" width="3.8" height="3.8" fill="#fff" stroke="#1c3fc4" stroke-width="1.0"/><rect x="559.4" y="142.9" width="3.8" height="3.8" fill="#fff" stroke="#1c3fc4" stroke-width="1.0"/><rect x="567" y="142.5" width="3.8" height="3.8" fill="#fff" stroke="#1c3fc4" stroke-width="1.0"/><rect x="575.2" y="141.2" width="3.8" height="3.8" fill="#fff" stroke="#1c3fc4" stroke-width="1.0"/><rect x="583.7" y="140" width="3.8" height="3.8" fill="#fff" stroke="#1c3fc4" stroke-width="1.0"/><rect x="591.7" y="132.9" width="3.8" height="3.8" fill="#fff" stroke="#1c3fc4" stroke-width="1.0"/><rect x="600.2" y="141.2" width="3.8" height="3.8" fill="#fff" stroke="#1c3fc4" stroke-width="1.0"/><rect x="608.5" y="142.9" width="3.8" height="3.8" fill="#fff" stroke="#1c3fc4" stroke-width="1.0"/><rect x="616.4" y="142.9" width="3.8" height="3.8" fill="#fff" stroke="#1c3fc4" stroke-width="1.0"/><rect x="624.1" y="144.6" width="3.8" height="3.8" fill="#fff" stroke="#1c3fc4" stroke-width="1.0"/><rect x="632.8" y="144.6" width="3.8" height="3.8" fill="#fff" stroke="#1c3fc4" stroke-width="1.0"/><rect x="641.9" y="144.6" width="3.8" height="3.8" fill="#fff" stroke="#1c3fc4" stroke-width="1.0"/><rect x="650.1" y="144.1" width="3.8" height="3.8" fill="#fff" stroke="#1c3fc4" stroke-width="1.0"/><polyline points="544.6,263.9 552.7,257.6 561.3,262.4 568.9,274.5 577.1,274.5 585.6,274.5 593.6,274.5 602.1,274.5 610.4,274.5 618.3,274.5 626,274.5 634.7,274.5 643.8,274.5 652,274.5" fill="none" stroke="#a8a8a8" stroke-width="1.0" stroke-linejoin="round"/><polygon points="544.6,261.5 546.9,265.6 542.3,265.6" fill="#fff" stroke="#a8a8a8" stroke-width="0.8" stroke-linejoin="round"/><polygon points="552.7,255.1 555,259.2 550.4,259.2" fill="#fff" stroke="#a8a8a8" stroke-width="0.8" stroke-linejoin="round"/><polygon points="561.3,259.9 563.6,264.1 559,264.1" fill="#fff" stroke="#a8a8a8" stroke-width="0.8" stroke-linejoin="round"/><polygon points="568.9,272 571.2,276.2 566.6,276.2" fill="#fff" stroke="#a8a8a8" stroke-width="0.8" stroke-linejoin="round"/><polygon points="577.1,272 579.4,276.2 574.8,276.2" fill="#fff" stroke="#a8a8a8" stroke-width="0.8" stroke-linejoin="round"/><polygon points="585.6,272 587.9,276.2 583.3,276.2" fill="#fff" stroke="#a8a8a8" stroke-width="0.8" stroke-linejoin="round"/><polygon points="593.6,272 595.9,276.2 591.3,276.2" fill="#fff" stroke="#a8a8a8" stroke-width="0.8" stroke-linejoin="round"/><polygon points="602.1,272 604.4,276.2 599.8,276.2" fill="#fff" stroke="#a8a8a8" stroke-width="0.8" stroke-linejoin="round"/><polygon points="610.4,272 612.7,276.2 608.1,276.2" fill="#fff" stroke="#a8a8a8" stroke-width="0.8" stroke-linejoin="round"/><polygon points="618.3,272 620.6,276.2 616,276.2" fill="#fff" stroke="#a8a8a8" stroke-width="0.8" stroke-linejoin="round"/><polygon points="626,272 628.3,276.2 623.7,276.2" fill="#fff" stroke="#a8a8a8" stroke-width="0.8" stroke-linejoin="round"/><polygon points="634.7,272 637,276.2 632.4,276.2" fill="#fff" stroke="#a8a8a8" stroke-width="0.8" stroke-linejoin="round"/><polygon points="643.8,272 646.1,276.2 641.5,276.2" fill="#fff" stroke="#a8a8a8" stroke-width="0.8" stroke-linejoin="round"/><polygon points="652,272 654.3,276.2 649.8,276.2" fill="#fff" stroke="#a8a8a8" stroke-width="0.8" stroke-linejoin="round"/><polyline points="544.6,267 552.7,258 561.3,260 568.9,274.1 577.1,274.5 585.6,274.5 593.6,274.5 602.1,274.5 610.4,274.5 618.3,274.5 626,274.5 634.7,274.5 643.8,274.5 652,274.5" fill="none" stroke="#8a8a8a" stroke-width="1.2" stroke-linejoin="round"/><polygon points="544.6,264.5 546.9,268.7 542.3,268.7" fill="#8a8a8a" stroke="#8a8a8a" stroke-width="0.8" stroke-linejoin="round"/><polygon points="552.7,255.5 555,259.7 550.4,259.7" fill="#8a8a8a" stroke="#8a8a8a" stroke-width="0.8" stroke-linejoin="round"/><polygon points="561.3,257.5 563.6,261.6 559,261.6" fill="#8a8a8a" stroke="#8a8a8a" stroke-width="0.8" stroke-linejoin="round"/><polygon points="568.9,271.6 571.2,275.7 566.6,275.7" fill="#8a8a8a" stroke="#8a8a8a" stroke-width="0.8" stroke-linejoin="round"/><polygon points="577.1,272 579.4,276.2 574.8,276.2" fill="#8a8a8a" stroke="#8a8a8a" stroke-width="0.8" stroke-linejoin="round"/><polygon points="585.6,272 587.9,276.2 583.3,276.2" fill="#8a8a8a" stroke="#8a8a8a" stroke-width="0.8" stroke-linejoin="round"/><polygon points="593.6,272 595.9,276.2 591.3,276.2" fill="#8a8a8a" stroke="#8a8a8a" stroke-width="0.8" stroke-linejoin="round"/><polygon points="602.1,272 604.4,276.2 599.8,276.2" fill="#8a8a8a" stroke="#8a8a8a" stroke-width="0.8" stroke-linejoin="round"/><polygon points="610.4,272 612.7,276.2 608.1,276.2" fill="#8a8a8a" stroke="#8a8a8a" stroke-width="0.8" stroke-linejoin="round"/><polygon points="618.3,272 620.6,276.2 616,276.2" fill="#8a8a8a" stroke="#8a8a8a" stroke-width="0.8" stroke-linejoin="round"/><polygon points="626,272 628.3,276.2 623.7,276.2" fill="#8a8a8a" stroke="#8a8a8a" stroke-width="0.8" stroke-linejoin="round"/><polygon points="634.7,272 637,276.2 632.4,276.2" fill="#8a8a8a" stroke="#8a8a8a" stroke-width="0.8" stroke-linejoin="round"/><polygon points="643.8,272 646.1,276.2 641.5,276.2" fill="#8a8a8a" stroke="#8a8a8a" stroke-width="0.8" stroke-linejoin="round"/><polygon points="652,272 654.3,276.2 649.8,276.2" fill="#8a8a8a" stroke="#8a8a8a" stroke-width="0.8" stroke-linejoin="round"/><polyline points="544.6,264.2 552.7,253.8 561.3,249.2 568.9,247 577.1,248.1 585.6,251 593.6,257.8 602.1,248.1 610.4,247 618.3,247 626,247 634.7,247 643.8,247 652,247" fill="none" stroke="#1c3fc4" stroke-width="1.0" stroke-linejoin="round"/><rect x="542.7" y="262.3" width="3.8" height="3.8" fill="#fff" stroke="#1c3fc4" stroke-width="1.0"/><rect x="550.8" y="251.9" width="3.8" height="3.8" fill="#fff" stroke="#1c3fc4" stroke-width="1.0"/><rect x="559.4" y="247.3" width="3.8" height="3.8" fill="#fff" stroke="#1c3fc4" stroke-width="1.0"/><rect x="567" y="245.1" width="3.8" height="3.8" fill="#fff" stroke="#1c3fc4" stroke-width="1.0"/><rect x="575.2" y="246.2" width="3.8" height="3.8" fill="#fff" stroke="#1c3fc4" stroke-width="1.0"/><rect x="583.7" y="249.1" width="3.8" height="3.8" fill="#fff" stroke="#1c3fc4" stroke-width="1.0"/><rect x="591.7" y="255.9" width="3.8" height="3.8" fill="#fff" stroke="#1c3fc4" stroke-width="1.0"/><rect x="600.2" y="246.2" width="3.8" height="3.8" fill="#fff" stroke="#1c3fc4" stroke-width="1.0"/><rect x="608.5" y="245.1" width="3.8" height="3.8" fill="#fff" stroke="#1c3fc4" stroke-width="1.0"/><rect x="616.4" y="245.1" width="3.8" height="3.8" fill="#fff" stroke="#1c3fc4" stroke-width="1.0"/><rect x="624.1" y="245.1" width="3.8" height="3.8" fill="#fff" stroke="#1c3fc4" stroke-width="1.0"/><rect x="632.8" y="245.1" width="3.8" height="3.8" fill="#fff" stroke="#1c3fc4" stroke-width="1.0"/><rect x="641.9" y="245.1" width="3.8" height="3.8" fill="#fff" stroke="#1c3fc4" stroke-width="1.0"/><rect x="650.1" y="245.1" width="3.8" height="3.8" fill="#fff" stroke="#1c3fc4" stroke-width="1.0"/><polyline points="544.6,268.6 552.7,262.4 561.3,260 568.9,258.7 577.1,258.7 585.6,262.4 593.6,262.4 602.1,262.4 610.4,262.4 618.3,262.4 626,262.4 634.7,262.4 643.8,262.4 652,262.4" fill="none" stroke="#1c3fc4" stroke-width="1.8" stroke-linejoin="round"/><rect x="542.7" y="266.7" width="3.8" height="3.8" fill="#1c3fc4" stroke="#1c3fc4" stroke-width="1.0"/><rect x="550.8" y="260.5" width="3.8" height="3.8" fill="#1c3fc4" stroke="#1c3fc4" stroke-width="1.0"/><rect x="559.4" y="258.1" width="3.8" height="3.8" fill="#1c3fc4" stroke="#1c3fc4" stroke-width="1.0"/><rect x="567" y="256.8" width="3.8" height="3.8" fill="#1c3fc4" stroke="#1c3fc4" stroke-width="1.0"/><rect x="575.2" y="256.8" width="3.8" height="3.8" fill="#1c3fc4" stroke="#1c3fc4" stroke-width="1.0"/><rect x="583.7" y="260.5" width="3.8" height="3.8" fill="#1c3fc4" stroke="#1c3fc4" stroke-width="1.0"/><rect x="591.7" y="260.5" width="3.8" height="3.8" fill="#1c3fc4" stroke="#1c3fc4" stroke-width="1.0"/><rect x="600.2" y="260.5" width="3.8" height="3.8" fill="#1c3fc4" stroke="#1c3fc4" stroke-width="1.0"/><rect x="608.5" y="260.5" width="3.8" height="3.8" fill="#1c3fc4" stroke="#1c3fc4" stroke-width="1.0"/><rect x="616.4" y="260.5" width="3.8" height="3.8" fill="#1c3fc4" stroke="#1c3fc4" stroke-width="1.0"/><rect x="624.1" y="260.5" width="3.8" height="3.8" fill="#1c3fc4" stroke="#1c3fc4" stroke-width="1.0"/><rect x="632.8" y="260.5" width="3.8" height="3.8" fill="#1c3fc4" stroke="#1c3fc4" stroke-width="1.0"/><rect x="641.9" y="260.5" width="3.8" height="3.8" fill="#1c3fc4" stroke="#1c3fc4" stroke-width="1.0"/><rect x="650.1" y="260.5" width="3.8" height="3.8" fill="#1c3fc4" stroke="#1c3fc4" stroke-width="1.0"/><rect x="411.6" y="31.4" width="119.9" height="121.3" fill="none" stroke="#3a3a3a" stroke-width="1.4"/><rect x="411.6" y="152.7" width="119.9" height="121.8" fill="none" stroke="#3a3a3a" stroke-width="1.4"/><rect x="536.2" y="31.4" width="119.8" height="121.3" fill="none" stroke="#3a3a3a" stroke-width="1.4"/><rect x="536.2" y="152.7" width="119.8" height="121.8" fill="none" stroke="#3a3a3a" stroke-width="1.4"/><text x="415.5" y="45" font-family='"Liberation Sans", sans-serif' font-size="13.5" fill="#222" font-weight="bold">(a)</text><text x="540" y="45" font-family='"Liberation Sans", sans-serif' font-size="13.5" fill="#222" font-weight="bold">(b)</text><text x="415.5" y="168.5" font-family='"Liberation Sans", sans-serif' font-size="13.5" fill="#222" font-weight="bold">(c)</text><text x="540" y="168" font-family='"Liberation Sans", sans-serif' font-size="13.5" fill="#222" font-weight="bold">(d)</text><rect x="448.9" y="169.4" width="54.8" height="17.1" fill="#fff" stroke="#c23b3b" stroke-width="1.0"/><text x="476.3" y="181.5" font-family='"Liberation Sans", sans-serif' font-size="8.6" fill="#c23b3b" text-anchor="middle">H<tspan font-size="6" dy="2">2</tspan><tspan dy="-2">:NO = 2. 5</tspan></text><text x="438" y="42" font-family='"Liberation Sans", sans-serif' font-size="9.2" fill="#a8a8a8">350 °C Pt</text><text x="425.6" y="64" font-family='"Liberation Sans", sans-serif' font-size="9.2" fill="#a8a8a8">350 °C Pd</text><line x1="476" y1="41" x2="493" y2="56" stroke="#8a8a8a" stroke-width="0.8"/><line x1="467" y1="65" x2="486" y2="80" stroke="#8a8a8a" stroke-width="0.8"/><text x="589.2" y="209.5" font-family='"Liberation Sans", sans-serif' font-size="9.2" fill="#3a56b8">150 °C Pd</text><text x="614.3" y="227" font-family='"Liberation Sans", sans-serif' font-size="9.2" fill="#3a56b8">150 °C Pt</text><line x1="593" y1="212" x2="570" y2="247" stroke="#3a56b8" stroke-width="0.8"/><line x1="623" y1="229" x2="603" y2="259" stroke="#3a56b8" stroke-width="0.8"/><text x="407.5" y="156" font-family='"Liberation Sans", sans-serif' font-size="9" fill="#484848" text-anchor="end">0</text><text x="407.5" y="277.8" font-family='"Liberation Sans", sans-serif' font-size="9" fill="#484848" text-anchor="end">0</text><text x="660" y="156" font-family='"Liberation Sans", sans-serif' font-size="9" fill="#484848">0</text><text x="660" y="277.8" font-family='"Liberation Sans", sans-serif' font-size="9" fill="#484848">0</text><text x="407.5" y="133.9" font-family='"Liberation Sans", sans-serif' font-size="9" fill="#484848" text-anchor="end">100</text><text x="407.5" y="255.6" font-family='"Liberation Sans", sans-serif' font-size="9" fill="#484848" text-anchor="end">100</text><text x="660" y="135.2" font-family='"Liberation Sans", sans-serif' font-size="9" fill="#484848">100</text><text x="660" y="255.8" font-family='"Liberation Sans", sans-serif' font-size="9" fill="#484848">100</text><text x="407.5" y="111.8" font-family='"Liberation Sans", sans-serif' font-size="9" fill="#484848" text-anchor="end">200</text><text x="407.5" y="233.4" font-family='"Liberation Sans", sans-serif' font-size="9" fill="#484848" text-anchor="end">200</text><text x="660" y="114.4" font-family='"Liberation Sans", sans-serif' font-size="9" fill="#484848">200</text><text x="660" y="233.8" font-family='"Liberation Sans", sans-serif' font-size="9" fill="#484848">200</text><text x="407.5" y="89.7" font-family='"Liberation Sans", sans-serif' font-size="9" fill="#484848" text-anchor="end">300</text><text x="407.5" y="211.2" font-family='"Liberation Sans", sans-serif' font-size="9" fill="#484848" text-anchor="end">300</text><text x="660" y="93.6" font-family='"Liberation Sans", sans-serif' font-size="9" fill="#484848">300</text><text x="660" y="211.8" font-family='"Liberation Sans", sans-serif' font-size="9" fill="#484848">300</text><text x="407.5" y="67.6" font-family='"Liberation Sans", sans-serif' font-size="9" fill="#484848" text-anchor="end">400</text><text x="407.5" y="189" font-family='"Liberation Sans", sans-serif' font-size="9" fill="#484848" text-anchor="end">400</text><text x="660" y="72.8" font-family='"Liberation Sans", sans-serif' font-size="9" fill="#484848">400</text><text x="660" y="189.8" font-family='"Liberation Sans", sans-serif' font-size="9" fill="#484848">400</text><text x="407.5" y="45.5" font-family='"Liberation Sans", sans-serif' font-size="9" fill="#484848" text-anchor="end">500</text><text x="407.5" y="166.8" font-family='"Liberation Sans", sans-serif' font-size="9" fill="#484848" text-anchor="end">500</text><text x="660" y="52" font-family='"Liberation Sans", sans-serif' font-size="9" fill="#484848">500</text><text x="660" y="167.8" font-family='"Liberation Sans", sans-serif' font-size="9" fill="#484848">500</text><text x="436.6" y="289" font-family='"Liberation Sans", sans-serif' font-size="9" fill="#484848" text-anchor="middle">400</text><text x="561.3" y="289" font-family='"Liberation Sans", sans-serif' font-size="9" fill="#484848" text-anchor="middle">400</text><text x="469.2" y="289" font-family='"Liberation Sans", sans-serif' font-size="9" fill="#484848" text-anchor="middle">800</text><text x="594.3" y="289" font-family='"Liberation Sans", sans-serif' font-size="9" fill="#484848" text-anchor="middle">800</text><text x="501.8" y="289" font-family='"Liberation Sans", sans-serif' font-size="9" fill="#484848" text-anchor="middle">1200</text><text x="627.3" y="289" font-family='"Liberation Sans", sans-serif' font-size="9" fill="#484848" text-anchor="middle">1200</text><text x="537" y="304" font-family='"Liberation Sans", sans-serif' font-size="9.3" fill="#484848" text-anchor="middle">Inlet H<tspan font-size="6.5" dy="2">2</tspan><tspan dy="-2">  Concentration (ppm)</tspan></text><text x="383" y="99" font-family='"Liberation Sans", sans-serif' font-size="9.3" fill="#484848" text-anchor="middle" transform="rotate(-90 383 99)">NH<tspan font-size="6.5" dy="2">3</tspan><tspan dy="-2">Concentration (ppm)</tspan></text><text x="383" y="221" font-family='"Liberation Sans", sans-serif' font-size="9.3" fill="#484848" text-anchor="middle" transform="rotate(-90 383 221)">NO Concentration (ppm)</text><text x="680" y="93" font-family='"Liberation Sans", sans-serif' font-size="9.3" fill="#484848" text-anchor="middle" transform="rotate(90 680 93)">N<tspan font-size="6.5" dy="2">2</tspan><tspan dy="-2">Concentration (ppm)</tspan></text><text x="680" y="212" font-family='"Liberation Sans", sans-serif' font-size="9.3" fill="#484848" text-anchor="middle" transform="rotate(90 680 212)">N<tspan font-size="6.5" dy="2">2</tspan><tspan dy="-2">O Concentration (ppm)</tspan></text><text x="45" y="37.5" font-family='"Liberation Serif", serif' font-size="37" fill="#e00000" font-weight="bold">a</text><text x="699.5" y="47.5" font-family='"Liberation Serif", serif' font-size="37" fill="#e00000" font-weight="bold">d</text><line x1="750.8" y1="15.6" x2="750.8" y2="185.6" stroke="#7a7a7a" stroke-width="1.3"/><line x1="747.8" y1="185.6" x2="990.6" y2="185.6" stroke="#7a7a7a" stroke-width="1.3"/><line x1="747.8" y1="185.6" x2="750.8" y2="185.6" stroke="#7a7a7a" stroke-width="1.1"/><text x="744.8" y="188.6" font-family='"Liberation Sans", sans-serif' font-size="8.2" fill="#333" textLength="11" lengthAdjust="spacingAndGlyphs" font-weight="bold" text-anchor="end">0%</text><line x1="747.8" y1="153.2" x2="750.8" y2="153.2" stroke="#7a7a7a" stroke-width="1.1"/><text x="744.8" y="156.2" font-family='"Liberation Sans", sans-serif' font-size="8.2" fill="#333" textLength="15" lengthAdjust="spacingAndGlyphs" font-weight="bold" text-anchor="end">20%</text><line x1="747.8" y1="120.7" x2="750.8" y2="120.7" stroke="#7a7a7a" stroke-width="1.1"/><text x="744.8" y="123.7" font-family='"Liberation Sans", sans-serif' font-size="8.2" fill="#333" textLength="15" lengthAdjust="spacingAndGlyphs" font-weight="bold" text-anchor="end">40%</text><line x1="747.8" y1="88.3" x2="750.8" y2="88.3" stroke="#7a7a7a" stroke-width="1.1"/><text x="744.8" y="91.3" font-family='"Liberation Sans", sans-serif' font-size="8.2" fill="#333" textLength="15" lengthAdjust="spacingAndGlyphs" font-weight="bold" text-anchor="end">60%</text><line x1="747.8" y1="55.8" x2="750.8" y2="55.8" stroke="#7a7a7a" stroke-width="1.1"/><text x="744.8" y="58.8" font-family='"Liberation Sans", sans-serif' font-size="8.2" fill="#333" textLength="15" lengthAdjust="spacingAndGlyphs" font-weight="bold" text-anchor="end">80%</text><line x1="747.8" y1="23.4" x2="750.8" y2="23.4" stroke="#7a7a7a" stroke-width="1.1"/><text x="744.8" y="26.4" font-family='"Liberation Sans", sans-serif' font-size="8.2" fill="#333" textLength="19.5" lengthAdjust="spacingAndGlyphs" font-weight="bold" text-anchor="end">100%</text><line x1="750.8" y1="185.6" x2="750.8" y2="188.6" stroke="#7a7a7a" stroke-width="1.1"/><text x="750.8" y="200.2" font-family='"Liberation Sans", sans-serif' font-size="7.6" fill="#333" font-weight="bold" text-anchor="middle">300</text><line x1="780" y1="185.6" x2="780" y2="188.6" stroke="#7a7a7a" stroke-width="1.1"/><text x="780" y="200.2" font-family='"Liberation Sans", sans-serif' font-size="7.6" fill="#333" font-weight="bold" text-anchor="middle">350</text><line x1="809.3" y1="185.6" x2="809.3" y2="188.6" stroke="#7a7a7a" stroke-width="1.1"/><text x="809.3" y="200.2" font-family='"Liberation Sans", sans-serif' font-size="7.6" fill="#333" font-weight="bold" text-anchor="middle">400</text><line x1="838.5" y1="185.6" x2="838.5" y2="188.6" stroke="#7a7a7a" stroke-width="1.1"/><text x="838.5" y="200.2" font-family='"Liberation Sans", sans-serif' font-size="7.6" fill="#333" font-weight="bold" text-anchor="middle">450</text><line x1="867.8" y1="185.6" x2="867.8" y2="188.6" stroke="#7a7a7a" stroke-width="1.1"/><text x="867.8" y="200.2" font-family='"Liberation Sans", sans-serif' font-size="7.6" fill="#333" font-weight="bold" text-anchor="middle">500</text><line x1="897" y1="185.6" x2="897" y2="188.6" stroke="#7a7a7a" stroke-width="1.1"/><text x="897" y="200.2" font-family='"Liberation Sans", sans-serif' font-size="7.6" fill="#333" font-weight="bold" text-anchor="middle">550</text><line x1="926.3" y1="185.6" x2="926.3" y2="188.6" stroke="#7a7a7a" stroke-width="1.1"/><text x="926.3" y="200.2" font-family='"Liberation Sans", sans-serif' font-size="7.6" fill="#333" font-weight="bold" text-anchor="middle">600</text><line x1="955.5" y1="185.6" x2="955.5" y2="188.6" stroke="#7a7a7a" stroke-width="1.1"/><text x="955.5" y="200.2" font-family='"Liberation Sans", sans-serif' font-size="7.6" fill="#333" font-weight="bold" text-anchor="middle">650</text><line x1="984.8" y1="185.6" x2="984.8" y2="188.6" stroke="#7a7a7a" stroke-width="1.1"/><text x="984.8" y="200.2" font-family='"Liberation Sans", sans-serif' font-size="7.6" fill="#333" font-weight="bold" text-anchor="middle">700</text><text x="880" y="218.5" font-family='"Liberation Sans", sans-serif' font-size="12.5" fill="#333" textLength="137" lengthAdjust="spacingAndGlyphs" font-weight="bold" text-anchor="middle">Mid-Core Temperature ( °C)</text><text x="718.8" y="98.5" font-family='"Liberation Sans", sans-serif' font-size="12" fill="#333" textLength="47" lengthAdjust="spacingAndGlyphs" font-weight="bold" text-anchor="middle" transform="rotate(-90 718.8 98.5)">NH<tspan font-size="9" dy="3">3</tspan><tspan dy="-3"> Yield</tspan></text><rect x="763.3" y="146.9" width="106" height="27.6" fill="#fff" stroke="#111" stroke-width="1.4"/><text x="816.3" y="165.7" font-family='"Liberation Sans", sans-serif' font-size="13.5" fill="#111" textLength="88" lengthAdjust="spacingAndGlyphs" font-weight="bold" text-anchor="middle">(A)  AFR = 14.0</text><path d="M777.5,70.6 C783,66.5 794.6,54.3 805.2,50 C815.8,45.8 820.2,50.2 830.4,49.4 C840.5,48.5 844.6,45.4 855.8,45.6 C867,45.8 875.7,43.6 886.5,50.3 C897.4,57.1 900.6,60.3 910.2,79.4 C919.7,98.4 924.6,125.8 934.5,145.7 C944.4,165.6 954.6,172.2 959.6,178.8" fill="none" stroke="#1c9c86" stroke-width="1.3" stroke-linejoin="round" stroke-dasharray="6,2,1.5,2"/><path d="M778.2,62.5 C783.4,60 794.1,54.3 804.3,50 C814.6,45.7 818.7,42.6 829.5,40.8 C840.4,38.9 847.5,39 858.7,40.8 C870,42.5 875.1,44 885.8,49.4 C896.5,54.7 902.1,56 912.3,67.4 C922.4,78.7 926.9,88.4 936.4,106.1 C945.9,123.9 955,146.1 959.6,156.1" fill="none" stroke="#2255a4" stroke-width="1.3" stroke-linejoin="round" stroke-dasharray="1.5,1.5"/><path d="M773.6,48.4 C779.4,44.6 791.8,34.6 802.7,29.7 C813.6,24.9 817.3,25.6 828,24 C838.8,22.5 844.9,22.6 856.4,21.8 C867.9,21 874.5,20.1 885.3,20 C896.2,19.9 900.7,20.4 910.5,21.3 C920.3,22.2 925.5,22.7 934.5,24.7 C943.5,26.7 951.2,30 955.3,31.3" fill="none" stroke="#e8503a" stroke-width="1.5" stroke-linejoin="round"/><path d="M771.2,59.4 C777.3,53.6 790.3,37.4 801.7,30.4 C813.1,23.3 817.3,25.6 828,24 C838.8,22.5 844.5,22.8 855.5,22.4 C866.6,22.1 872.1,21.5 883.3,22.4 C894.5,23.4 901.4,22.1 911.7,27.1 C921.9,32.2 924.9,31.7 934.5,47.7 C944.1,63.7 954.6,95.2 959.6,107.1" fill="none" stroke="#222" stroke-width="1.2" stroke-linejoin="round"/><polygon points="777.5,68.3 779.6,72.1 775.4,72.1" fill="#1c9c86" stroke="#1c9c86" stroke-width="0.5" stroke-linejoin="round"/><polygon points="805.2,47.7 807.3,51.5 803.1,51.5" fill="#1c9c86" stroke="#1c9c86" stroke-width="0.5" stroke-linejoin="round"/><polygon points="830.4,47.1 832.5,50.9 828.3,50.9" fill="#1c9c86" stroke="#1c9c86" stroke-width="0.5" stroke-linejoin="round"/><polygon points="855.8,43.4 857.9,47.1 853.7,47.1" fill="#1c9c86" stroke="#1c9c86" stroke-width="0.5" stroke-linejoin="round"/><polygon points="886.5,48.1 888.6,51.8 884.4,51.8" fill="#1c9c86" stroke="#1c9c86" stroke-width="0.5" stroke-linejoin="round"/><polygon points="910.2,77.1 912.3,80.9 908.1,80.9" fill="#1c9c86" stroke="#1c9c86" stroke-width="0.5" stroke-linejoin="round"/><polygon points="934.5,143.4 936.6,147.2 932.4,147.2" fill="#1c9c86" stroke="#1c9c86" stroke-width="0.5" stroke-linejoin="round"/><polygon points="959.6,176.5 961.7,180.3 957.5,180.3" fill="#1c9c86" stroke="#1c9c86" stroke-width="0.5" stroke-linejoin="round"/><polygon points="778.2,59.3 781.2,64.7 775.2,64.7" fill="#2255a4" stroke="#2255a4" stroke-width="0.5" stroke-linejoin="round"/><polygon points="804.3,46.8 807.3,52.2 801.3,52.2" fill="#2255a4" stroke="#2255a4" stroke-width="0.5" stroke-linejoin="round"/><polygon points="829.5,37.5 832.5,42.9 826.5,42.9" fill="#2255a4" stroke="#2255a4" stroke-width="0.5" stroke-linejoin="round"/><polygon points="858.7,37.5 861.7,42.9 855.7,42.9" fill="#2255a4" stroke="#2255a4" stroke-width="0.5" stroke-linejoin="round"/><polygon points="885.8,46.1 888.8,51.5 882.8,51.5" fill="#2255a4" stroke="#2255a4" stroke-width="0.5" stroke-linejoin="round"/><polygon points="912.3,64.1 915.3,69.5 909.3,69.5" fill="#2255a4" stroke="#2255a4" stroke-width="0.5" stroke-linejoin="round"/><polygon points="936.4,102.9 939.4,108.3 933.4,108.3" fill="#2255a4" stroke="#2255a4" stroke-width="0.5" stroke-linejoin="round"/><polygon points="959.6,152.8 962.6,158.2 956.6,158.2" fill="#2255a4" stroke="#2255a4" stroke-width="0.5" stroke-linejoin="round"/><rect x="771.1" y="45.9" width="5" height="5" fill="#e8503a" stroke="#e8503a" stroke-width="0.5"/><rect x="800.2" y="27.2" width="5" height="5" fill="#e8503a" stroke="#e8503a" stroke-width="0.5"/><rect x="825.5" y="21.5" width="5" height="5" fill="#e8503a" stroke="#e8503a" stroke-width="0.5"/><rect x="853.9" y="19.3" width="5" height="5" fill="#e8503a" stroke="#e8503a" stroke-width="0.5"/><rect x="882.8" y="17.5" width="5" height="5" fill="#e8503a" stroke="#e8503a" stroke-width="0.5"/><rect x="908" y="18.8" width="5" height="5" fill="#e8503a" stroke="#e8503a" stroke-width="0.5"/><rect x="932" y="22.2" width="5" height="5" fill="#e8503a" stroke="#e8503a" stroke-width="0.5"/><rect x="952.8" y="28.8" width="5" height="5" fill="#e8503a" stroke="#e8503a" stroke-width="0.5"/><line x1="768.2" y1="56.4" x2="774.2" y2="62.4" stroke="#222" stroke-width="1.3"/><line x1="768.2" y1="62.4" x2="774.2" y2="56.4" stroke="#222" stroke-width="1.3"/><line x1="771.2" y1="56.4" x2="771.2" y2="62.4" stroke="#222" stroke-width="1.04"/><line x1="798.7" y1="27.4" x2="804.7" y2="33.4" stroke="#222" stroke-width="1.3"/><line x1="798.7" y1="33.4" x2="804.7" y2="27.4" stroke="#222" stroke-width="1.3"/><line x1="801.7" y1="27.4" x2="801.7" y2="33.4" stroke="#222" stroke-width="1.04"/><line x1="825" y1="21" x2="831" y2="27" stroke="#222" stroke-width="1.3"/><line x1="825" y1="27" x2="831" y2="21" stroke="#222" stroke-width="1.3"/><line x1="828" y1="21" x2="828" y2="27" stroke="#222" stroke-width="1.04"/><line x1="852.5" y1="19.4" x2="858.5" y2="25.4" stroke="#222" stroke-width="1.3"/><line x1="852.5" y1="25.4" x2="858.5" y2="19.4" stroke="#222" stroke-width="1.3"/><line x1="855.5" y1="19.4" x2="855.5" y2="25.4" stroke="#222" stroke-width="1.04"/><line x1="880.3" y1="19.4" x2="886.3" y2="25.4" stroke="#222" stroke-width="1.3"/><line x1="880.3" y1="25.4" x2="886.3" y2="19.4" stroke="#222" stroke-width="1.3"/><line x1="883.3" y1="19.4" x2="883.3" y2="25.4" stroke="#222" stroke-width="1.04"/><line x1="908.7" y1="24.1" x2="914.7" y2="30.1" stroke="#222" stroke-width="1.3"/><line x1="908.7" y1="30.1" x2="914.7" y2="24.1" stroke="#222" stroke-width="1.3"/><line x1="911.7" y1="24.1" x2="911.7" y2="30.1" stroke="#222" stroke-width="1.04"/><line x1="931.5" y1="44.7" x2="937.5" y2="50.7" stroke="#222" stroke-width="1.3"/><line x1="931.5" y1="50.7" x2="937.5" y2="44.7" stroke="#222" stroke-width="1.3"/><line x1="934.5" y1="44.7" x2="934.5" y2="50.7" stroke="#222" stroke-width="1.04"/><line x1="956.6" y1="104.1" x2="962.6" y2="110.1" stroke="#222" stroke-width="1.3"/><line x1="956.6" y1="110.1" x2="962.6" y2="104.1" stroke="#222" stroke-width="1.3"/><line x1="959.6" y1="104.1" x2="959.6" y2="110.1" stroke="#222" stroke-width="1.04"/><line x1="806.5" y1="75.8" x2="818.5" y2="75.8" stroke="#e8503a" stroke-width="1.6"/><rect x="810" y="73.3" width="5" height="5" fill="#e8503a" stroke="#e8503a" stroke-width="0.5"/><text x="820" y="79.6" font-family='"Liberation Sans", sans-serif' font-size="11" fill="#333" textLength="27" lengthAdjust="spacingAndGlyphs" font-weight="bold">HPGM</text><line x1="806.5" y1="91.4" x2="818.5" y2="91.4" stroke="#2255a4" stroke-width="1.2" stroke-dasharray="1.5,1.5"/><polygon points="812.5,88.4 815.2,93.4 809.8,93.4" fill="#2255a4" stroke="#2255a4" stroke-width="0.5" stroke-linejoin="round"/><text x="820" y="95.2" font-family='"Liberation Sans", sans-serif' font-size="11" fill="#333" textLength="25" lengthAdjust="spacingAndGlyphs" font-weight="bold">LPGM</text><line x1="806.5" y1="107" x2="818.5" y2="107" stroke="#222" stroke-width="1.2"/><line x1="810" y1="104.5" x2="815" y2="109.5" stroke="#222" stroke-width="1.2"/><line x1="810" y1="109.5" x2="815" y2="104.5" stroke="#222" stroke-width="1.2"/><line x1="812.5" y1="104.5" x2="812.5" y2="109.5" stroke="#222" stroke-width="0.96"/><text x="820" y="110.8" font-family='"Liberation Sans", sans-serif' font-size="11" fill="#333" textLength="66.5" lengthAdjust="spacingAndGlyphs" font-weight="bold">Dual-Zone TWC</text><line x1="806.5" y1="122.6" x2="818.5" y2="122.6" stroke="#1c9c86" stroke-width="1.2" stroke-dasharray="3,2"/><polygon points="812.5,120.3 814.6,124.1 810.4,124.1" fill="#1c9c86" stroke="#1c9c86" stroke-width="0.5" stroke-linejoin="round"/><text x="820" y="126.4" font-family='"Liberation Sans", sans-serif' font-size="11" fill="#333" textLength="16.5" lengthAdjust="spacingAndGlyphs" font-weight="bold">LNT</text><line x1="752.3" y1="232.3" x2="752.3" y2="402" stroke="#7a7a7a" stroke-width="1.3"/><line x1="749.3" y1="402" x2="992.1" y2="402" stroke="#7a7a7a" stroke-width="1.3"/><line x1="749.3" y1="402" x2="752.3" y2="402" stroke="#7a7a7a" stroke-width="1.1"/><text x="746.3" y="405" font-family='"Liberation Sans", sans-serif' font-size="8.2" fill="#333" textLength="11" lengthAdjust="spacingAndGlyphs" font-weight="bold" text-anchor="end">0%</text><line x1="749.3" y1="369.7" x2="752.3" y2="369.7" stroke="#7a7a7a" stroke-width="1.1"/><text x="746.3" y="372.7" font-family='"Liberation Sans", sans-serif' font-size="8.2" fill="#333" textLength="15" lengthAdjust="spacingAndGlyphs" font-weight="bold" text-anchor="end">20%</text><line x1="749.3" y1="337.4" x2="752.3" y2="337.4" stroke="#7a7a7a" stroke-width="1.1"/><text x="746.3" y="340.4" font-family='"Liberation Sans", sans-serif' font-size="8.2" fill="#333" textLength="15" lengthAdjust="spacingAndGlyphs" font-weight="bold" text-anchor="end">40%</text><line x1="749.3" y1="305.1" x2="752.3" y2="305.1" stroke="#7a7a7a" stroke-width="1.1"/><text x="746.3" y="308.1" font-family='"Liberation Sans", sans-serif' font-size="8.2" fill="#333" textLength="15" lengthAdjust="spacingAndGlyphs" font-weight="bold" text-anchor="end">60%</text><line x1="749.3" y1="272.8" x2="752.3" y2="272.8" stroke="#7a7a7a" stroke-width="1.1"/><text x="746.3" y="275.8" font-family='"Liberation Sans", sans-serif' font-size="8.2" fill="#333" textLength="15" lengthAdjust="spacingAndGlyphs" font-weight="bold" text-anchor="end">80%</text><line x1="749.3" y1="240.5" x2="752.3" y2="240.5" stroke="#7a7a7a" stroke-width="1.1"/><text x="746.3" y="243.5" font-family='"Liberation Sans", sans-serif' font-size="8.2" fill="#333" textLength="19.5" lengthAdjust="spacingAndGlyphs" font-weight="bold" text-anchor="end">100%</text><line x1="752.3" y1="402" x2="752.3" y2="405" stroke="#7a7a7a" stroke-width="1.1"/><text x="752.3" y="416.2" font-family='"Liberation Sans", sans-serif' font-size="7.6" fill="#333" font-weight="bold" text-anchor="middle">300</text><line x1="781.5" y1="402" x2="781.5" y2="405" stroke="#7a7a7a" stroke-width="1.1"/><text x="781.5" y="416.2" font-family='"Liberation Sans", sans-serif' font-size="7.6" fill="#333" font-weight="bold" text-anchor="middle">350</text><line x1="810.8" y1="402" x2="810.8" y2="405" stroke="#7a7a7a" stroke-width="1.1"/><text x="810.8" y="416.2" font-family='"Liberation Sans", sans-serif' font-size="7.6" fill="#333" font-weight="bold" text-anchor="middle">400</text><line x1="840" y1="402" x2="840" y2="405" stroke="#7a7a7a" stroke-width="1.1"/><text x="840" y="416.2" font-family='"Liberation Sans", sans-serif' font-size="7.6" fill="#333" font-weight="bold" text-anchor="middle">450</text><line x1="869.3" y1="402" x2="869.3" y2="405" stroke="#7a7a7a" stroke-width="1.1"/><text x="869.3" y="416.2" font-family='"Liberation Sans", sans-serif' font-size="7.6" fill="#333" font-weight="bold" text-anchor="middle">500</text><line x1="898.5" y1="402" x2="898.5" y2="405" stroke="#7a7a7a" stroke-width="1.1"/><text x="898.5" y="416.2" font-family='"Liberation Sans", sans-serif' font-size="7.6" fill="#333" font-weight="bold" text-anchor="middle">550</text><line x1="927.8" y1="402" x2="927.8" y2="405" stroke="#7a7a7a" stroke-width="1.1"/><text x="927.8" y="416.2" font-family='"Liberation Sans", sans-serif' font-size="7.6" fill="#333" font-weight="bold" text-anchor="middle">600</text><line x1="957" y1="402" x2="957" y2="405" stroke="#7a7a7a" stroke-width="1.1"/><text x="957" y="416.2" font-family='"Liberation Sans", sans-serif' font-size="7.6" fill="#333" font-weight="bold" text-anchor="middle">650</text><line x1="986.3" y1="402" x2="986.3" y2="405" stroke="#7a7a7a" stroke-width="1.1"/><text x="986.3" y="416.2" font-family='"Liberation Sans", sans-serif' font-size="7.6" fill="#333" font-weight="bold" text-anchor="middle">700</text><text x="880" y="434.5" font-family='"Liberation Sans", sans-serif' font-size="12.5" fill="#333" textLength="137" lengthAdjust="spacingAndGlyphs" font-weight="bold" text-anchor="middle">Mid-Core Temperature ( °C)</text><text x="720.3" y="315.2" font-family='"Liberation Sans", sans-serif' font-size="12" fill="#333" textLength="47" lengthAdjust="spacingAndGlyphs" font-weight="bold" text-anchor="middle" transform="rotate(-90 720.3 315.2)">NH<tspan font-size="9" dy="3">3</tspan><tspan dy="-3"> Yield</tspan></text><rect x="766.7" y="365.7" width="106" height="26.4" fill="#fff" stroke="#111" stroke-width="1.4"/><text x="819.7" y="383.9" font-family='"Liberation Sans", sans-serif' font-size="13.5" fill="#111" textLength="88" lengthAdjust="spacingAndGlyphs" font-weight="bold" text-anchor="middle">(B)  AFR = 14.2</text><path d="M805.5,287.3 C810.4,284.8 820.5,277.8 830.1,274.4 C839.7,271.1 843.3,268.8 853.3,270.5 C863.4,272.3 869.8,270.1 880.4,283.3 C891.1,296.5 896.2,317.1 906.5,336.4 C916.8,355.7 921.8,367.6 931.9,379.9 C941.9,392.1 946.9,393.5 956.8,397.8 C966.6,402.1 976.2,400.6 981,401.4" fill="none" stroke="#1c9c86" stroke-width="1.3" stroke-linejoin="round" stroke-dasharray="6,2,1.5,2"/><path d="M808.5,291.9 C812.7,288.4 819.6,278 829.5,274.4 C839.4,270.8 847,269.6 857.8,273.8 C868.6,277.9 873.2,283.8 883.6,295.2 C893.9,306.7 899.4,318.5 909.7,330.8 C920,343.1 925.1,346.3 935.1,356.8 C945.1,367.2 950.2,375.3 959.6,382.9 C968.9,390.6 977.4,392.6 981.9,395.1" fill="none" stroke="#2255a4" stroke-width="1.3" stroke-linejoin="round" stroke-dasharray="1.5,1.5"/><path d="M801.4,252.6 C806.9,250.7 817.4,245.8 828.6,243.1 C839.7,240.4 846,240 857.1,239 C868.2,238.1 873.5,237.9 884.2,238.4 C894.8,238.9 900.2,239.6 910.2,241.5 C920.3,243.3 924.9,243.5 934.4,247.8 C944,252 949.1,254.5 958,262.6 C967,270.8 974.8,283.4 979,288.6" fill="none" stroke="#e8503a" stroke-width="1.5" stroke-linejoin="round"/><path d="M803.8,255.4 C808.7,253.1 817.9,247.3 828.6,244.1 C839.3,240.8 846,239.3 857.1,239 C868.2,238.8 873.8,239.7 884.2,242.8 C894.5,245.8 898.8,247.2 909.1,254.2 C919.4,261.3 925.5,263.6 935.8,278 C946.1,292.3 951.2,307.8 960.6,325.9 C970,344.1 978.3,360.2 982.8,368.7" fill="none" stroke="#222" stroke-width="1.2" stroke-linejoin="round"/><polygon points="805.5,285.1 807.6,288.8 803.4,288.8" fill="#1c9c86" stroke="#1c9c86" stroke-width="0.5" stroke-linejoin="round"/><polygon points="830.1,272.1 832.2,275.9 828,275.9" fill="#1c9c86" stroke="#1c9c86" stroke-width="0.5" stroke-linejoin="round"/><polygon points="853.3,268.3 855.4,272.1 851.2,272.1" fill="#1c9c86" stroke="#1c9c86" stroke-width="0.5" stroke-linejoin="round"/><polygon points="880.4,281 882.5,284.8 878.3,284.8" fill="#1c9c86" stroke="#1c9c86" stroke-width="0.5" stroke-linejoin="round"/><polygon points="906.5,334.2 908.6,337.9 904.4,337.9" fill="#1c9c86" stroke="#1c9c86" stroke-width="0.5" stroke-linejoin="round"/><polygon points="931.9,377.6 934,381.4 929.8,381.4" fill="#1c9c86" stroke="#1c9c86" stroke-width="0.5" stroke-linejoin="round"/><polygon points="956.8,395.5 958.9,399.3 954.7,399.3" fill="#1c9c86" stroke="#1c9c86" stroke-width="0.5" stroke-linejoin="round"/><polygon points="981,399.1 983.1,402.9 978.9,402.9" fill="#1c9c86" stroke="#1c9c86" stroke-width="0.5" stroke-linejoin="round"/><polygon points="808.5,288.6 811.5,294 805.5,294" fill="#2255a4" stroke="#2255a4" stroke-width="0.5" stroke-linejoin="round"/><polygon points="829.5,271.2 832.5,276.6 826.5,276.6" fill="#2255a4" stroke="#2255a4" stroke-width="0.5" stroke-linejoin="round"/><polygon points="857.8,270.5 860.8,275.9 854.8,275.9" fill="#2255a4" stroke="#2255a4" stroke-width="0.5" stroke-linejoin="round"/><polygon points="883.6,292 886.6,297.4 880.6,297.4" fill="#2255a4" stroke="#2255a4" stroke-width="0.5" stroke-linejoin="round"/><polygon points="909.7,327.5 912.7,332.9 906.7,332.9" fill="#2255a4" stroke="#2255a4" stroke-width="0.5" stroke-linejoin="round"/><polygon points="935.1,353.5 938.1,358.9 932.1,358.9" fill="#2255a4" stroke="#2255a4" stroke-width="0.5" stroke-linejoin="round"/><polygon points="959.6,379.7 962.6,385.1 956.6,385.1" fill="#2255a4" stroke="#2255a4" stroke-width="0.5" stroke-linejoin="round"/><polygon points="981.9,391.8 984.9,397.2 978.9,397.2" fill="#2255a4" stroke="#2255a4" stroke-width="0.5" stroke-linejoin="round"/><rect x="798.9" y="250.1" width="5" height="5" fill="#e8503a" stroke="#e8503a" stroke-width="0.5"/><rect x="826.1" y="240.6" width="5" height="5" fill="#e8503a" stroke="#e8503a" stroke-width="0.5"/><rect x="854.6" y="236.5" width="5" height="5" fill="#e8503a" stroke="#e8503a" stroke-width="0.5"/><rect x="881.7" y="235.9" width="5" height="5" fill="#e8503a" stroke="#e8503a" stroke-width="0.5"/><rect x="907.8" y="239" width="5" height="5" fill="#e8503a" stroke="#e8503a" stroke-width="0.5"/><rect x="931.9" y="245.3" width="5" height="5" fill="#e8503a" stroke="#e8503a" stroke-width="0.5"/><rect x="955.5" y="260.1" width="5" height="5" fill="#e8503a" stroke="#e8503a" stroke-width="0.5"/><rect x="976.5" y="286.1" width="5" height="5" fill="#e8503a" stroke="#e8503a" stroke-width="0.5"/><line x1="800.8" y1="252.4" x2="806.8" y2="258.4" stroke="#222" stroke-width="1.3"/><line x1="800.8" y1="258.4" x2="806.8" y2="252.4" stroke="#222" stroke-width="1.3"/><line x1="803.8" y1="252.4" x2="803.8" y2="258.4" stroke="#222" stroke-width="1.04"/><line x1="825.6" y1="241.1" x2="831.6" y2="247.1" stroke="#222" stroke-width="1.3"/><line x1="825.6" y1="247.1" x2="831.6" y2="241.1" stroke="#222" stroke-width="1.3"/><line x1="828.6" y1="241.1" x2="828.6" y2="247.1" stroke="#222" stroke-width="1.04"/><line x1="854.1" y1="236" x2="860.1" y2="242" stroke="#222" stroke-width="1.3"/><line x1="854.1" y1="242" x2="860.1" y2="236" stroke="#222" stroke-width="1.3"/><line x1="857.1" y1="236" x2="857.1" y2="242" stroke="#222" stroke-width="1.04"/><line x1="881.2" y1="239.8" x2="887.2" y2="245.8" stroke="#222" stroke-width="1.3"/><line x1="881.2" y1="245.8" x2="887.2" y2="239.8" stroke="#222" stroke-width="1.3"/><line x1="884.2" y1="239.8" x2="884.2" y2="245.8" stroke="#222" stroke-width="1.04"/><line x1="906.1" y1="251.2" x2="912.1" y2="257.2" stroke="#222" stroke-width="1.3"/><line x1="906.1" y1="257.2" x2="912.1" y2="251.2" stroke="#222" stroke-width="1.3"/><line x1="909.1" y1="251.2" x2="909.1" y2="257.2" stroke="#222" stroke-width="1.04"/><line x1="932.8" y1="275" x2="938.8" y2="281" stroke="#222" stroke-width="1.3"/><line x1="932.8" y1="281" x2="938.8" y2="275" stroke="#222" stroke-width="1.3"/><line x1="935.8" y1="275" x2="935.8" y2="281" stroke="#222" stroke-width="1.04"/><line x1="957.6" y1="322.9" x2="963.6" y2="328.9" stroke="#222" stroke-width="1.3"/><line x1="957.6" y1="328.9" x2="963.6" y2="322.9" stroke="#222" stroke-width="1.3"/><line x1="960.6" y1="322.9" x2="960.6" y2="328.9" stroke="#222" stroke-width="1.04"/><line x1="979.8" y1="365.7" x2="985.8" y2="371.7" stroke="#222" stroke-width="1.3"/><line x1="979.8" y1="371.7" x2="985.8" y2="365.7" stroke="#222" stroke-width="1.3"/><line x1="982.8" y1="365.7" x2="982.8" y2="371.7" stroke="#222" stroke-width="1.04"/><line x1="815" y1="303.2" x2="827" y2="303.2" stroke="#e8503a" stroke-width="1.6"/><rect x="818.5" y="300.7" width="5" height="5" fill="#e8503a" stroke="#e8503a" stroke-width="0.5"/><text x="828.5" y="307" font-family='"Liberation Sans", sans-serif' font-size="11" fill="#333" textLength="27" lengthAdjust="spacingAndGlyphs" font-weight="bold">HPGM</text><line x1="815" y1="319.4" x2="827" y2="319.4" stroke="#2255a4" stroke-width="1.2" stroke-dasharray="1.5,1.5"/><polygon points="821,316.4 823.8,321.4 818.2,321.4" fill="#2255a4" stroke="#2255a4" stroke-width="0.5" stroke-linejoin="round"/><text x="828.5" y="323.2" font-family='"Liberation Sans", sans-serif' font-size="11" fill="#333" textLength="25" lengthAdjust="spacingAndGlyphs" font-weight="bold">LPGM</text><line x1="815" y1="335.6" x2="827" y2="335.6" stroke="#222" stroke-width="1.2"/><line x1="818.5" y1="333.1" x2="823.5" y2="338.1" stroke="#222" stroke-width="1.2"/><line x1="818.5" y1="338.1" x2="823.5" y2="333.1" stroke="#222" stroke-width="1.2"/><line x1="821" y1="333.1" x2="821" y2="338.1" stroke="#222" stroke-width="0.96"/><text x="828.5" y="339.4" font-family='"Liberation Sans", sans-serif' font-size="11" fill="#333" textLength="66.5" lengthAdjust="spacingAndGlyphs" font-weight="bold">Dual-Zone TWC</text><line x1="815" y1="351.8" x2="827" y2="351.8" stroke="#1c9c86" stroke-width="1.2" stroke-dasharray="3,2"/><polygon points="821,349.5 823.1,353.3 818.9,353.3" fill="#1c9c86" stroke="#1c9c86" stroke-width="0.5" stroke-linejoin="round"/><text x="828.5" y="355.6" font-family='"Liberation Sans", sans-serif' font-size="11" fill="#333" textLength="16.5" lengthAdjust="spacingAndGlyphs" font-weight="bold">LNT</text><line x1="751.4" y1="449.4" x2="751.4" y2="618.3" stroke="#7a7a7a" stroke-width="1.3"/><line x1="748.4" y1="618.3" x2="991.2" y2="618.3" stroke="#7a7a7a" stroke-width="1.3"/><line x1="748.4" y1="618.3" x2="751.4" y2="618.3" stroke="#7a7a7a" stroke-width="1.1"/><text x="745.4" y="621.3" font-family='"Liberation Sans", sans-serif' font-size="8.2" fill="#333" textLength="11" lengthAdjust="spacingAndGlyphs" font-weight="bold" text-anchor="end">0%</text><line x1="748.4" y1="585.9" x2="751.4" y2="585.9" stroke="#7a7a7a" stroke-width="1.1"/><text x="745.4" y="588.9" font-family='"Liberation Sans", sans-serif' font-size="8.2" fill="#333" textLength="15" lengthAdjust="spacingAndGlyphs" font-weight="bold" text-anchor="end">20%</text><line x1="748.4" y1="553.6" x2="751.4" y2="553.6" stroke="#7a7a7a" stroke-width="1.1"/><text x="745.4" y="556.6" font-family='"Liberation Sans", sans-serif' font-size="8.2" fill="#333" textLength="15" lengthAdjust="spacingAndGlyphs" font-weight="bold" text-anchor="end">40%</text><line x1="748.4" y1="521.2" x2="751.4" y2="521.2" stroke="#7a7a7a" stroke-width="1.1"/><text x="745.4" y="524.2" font-family='"Liberation Sans", sans-serif' font-size="8.2" fill="#333" textLength="15" lengthAdjust="spacingAndGlyphs" font-weight="bold" text-anchor="end">60%</text><line x1="748.4" y1="488.9" x2="751.4" y2="488.9" stroke="#7a7a7a" stroke-width="1.1"/><text x="745.4" y="491.9" font-family='"Liberation Sans", sans-serif' font-size="8.2" fill="#333" textLength="15" lengthAdjust="spacingAndGlyphs" font-weight="bold" text-anchor="end">80%</text><line x1="748.4" y1="456.5" x2="751.4" y2="456.5" stroke="#7a7a7a" stroke-width="1.1"/><text x="745.4" y="459.5" font-family='"Liberation Sans", sans-serif' font-size="8.2" fill="#333" textLength="19.5" lengthAdjust="spacingAndGlyphs" font-weight="bold" text-anchor="end">100%</text><line x1="751.4" y1="618.3" x2="751.4" y2="621.3" stroke="#7a7a7a" stroke-width="1.1"/><text x="751.4" y="633.2" font-family='"Liberation Sans", sans-serif' font-size="7.6" fill="#333" font-weight="bold" text-anchor="middle">300</text><line x1="780.6" y1="618.3" x2="780.6" y2="621.3" stroke="#7a7a7a" stroke-width="1.1"/><text x="780.6" y="633.2" font-family='"Liberation Sans", sans-serif' font-size="7.6" fill="#333" font-weight="bold" text-anchor="middle">350</text><line x1="809.9" y1="618.3" x2="809.9" y2="621.3" stroke="#7a7a7a" stroke-width="1.1"/><text x="809.9" y="633.2" font-family='"Liberation Sans", sans-serif' font-size="7.6" fill="#333" font-weight="bold" text-anchor="middle">400</text><line x1="839.1" y1="618.3" x2="839.1" y2="621.3" stroke="#7a7a7a" stroke-width="1.1"/><text x="839.1" y="633.2" font-family='"Liberation Sans", sans-serif' font-size="7.6" fill="#333" font-weight="bold" text-anchor="middle">450</text><line x1="868.4" y1="618.3" x2="868.4" y2="621.3" stroke="#7a7a7a" stroke-width="1.1"/><text x="868.4" y="633.2" font-family='"Liberation Sans", sans-serif' font-size="7.6" fill="#333" font-weight="bold" text-anchor="middle">500</text><line x1="897.6" y1="618.3" x2="897.6" y2="621.3" stroke="#7a7a7a" stroke-width="1.1"/><text x="897.6" y="633.2" font-family='"Liberation Sans", sans-serif' font-size="7.6" fill="#333" font-weight="bold" text-anchor="middle">550</text><line x1="926.9" y1="618.3" x2="926.9" y2="621.3" stroke="#7a7a7a" stroke-width="1.1"/><text x="926.9" y="633.2" font-family='"Liberation Sans", sans-serif' font-size="7.6" fill="#333" font-weight="bold" text-anchor="middle">600</text><line x1="956.1" y1="618.3" x2="956.1" y2="621.3" stroke="#7a7a7a" stroke-width="1.1"/><text x="956.1" y="633.2" font-family='"Liberation Sans", sans-serif' font-size="7.6" fill="#333" font-weight="bold" text-anchor="middle">650</text><line x1="985.4" y1="618.3" x2="985.4" y2="621.3" stroke="#7a7a7a" stroke-width="1.1"/><text x="985.4" y="633.2" font-family='"Liberation Sans", sans-serif' font-size="7.6" fill="#333" font-weight="bold" text-anchor="middle">700</text><text x="880" y="650" font-family='"Liberation Sans", sans-serif' font-size="12.5" fill="#333" textLength="137" lengthAdjust="spacingAndGlyphs" font-weight="bold" text-anchor="middle">Mid-Core Temperature ( °C)</text><text x="719.4" y="531.4" font-family='"Liberation Sans", sans-serif' font-size="12" fill="#333" textLength="47" lengthAdjust="spacingAndGlyphs" font-weight="bold" text-anchor="middle" transform="rotate(-90 719.4 531.4)">NH<tspan font-size="9" dy="3">3</tspan><tspan dy="-3"> Yield</tspan></text><rect x="757.5" y="577" width="106" height="26.5" fill="#fff" stroke="#111" stroke-width="1.4"/><text x="810.5" y="595.2" font-family='"Liberation Sans", sans-serif' font-size="13.5" fill="#111" textLength="88" lengthAdjust="spacingAndGlyphs" font-weight="bold" text-anchor="middle">(C)  AFR = 14.4</text><path d="M825.7,531.9 C830.5,533.6 839.8,532.6 849.6,540.5 C859.3,548.4 864.2,559.3 874.4,571.4 C884.6,583.4 890.2,592.2 900.6,600.8 C910.9,609.5 916.1,611.2 926.2,614.7 C936.3,618.2 941.3,617.6 951.1,618.3 C961,619 970.6,618.3 975.5,618.3" fill="none" stroke="#1c9c86" stroke-width="1.3" stroke-linejoin="round" stroke-dasharray="6,2,1.5,2"/><path d="M828.9,538.9 C833.8,541.4 843.4,543.6 853.4,551.5 C863.4,559.4 868.7,569.2 878.9,578.3 C889.2,587.5 894.3,591 904.5,597.3 C914.7,603.6 919.9,606.7 930,609.9 C940.1,613.1 945.1,612.2 955,613.4 C964.9,614.7 974.6,615.8 979.5,616.4" fill="none" stroke="#2255a4" stroke-width="1.3" stroke-linejoin="round" stroke-dasharray="1.5,1.5"/><path d="M801.7,492.9 C806.8,490.4 816.9,482.6 827.3,480.4 C837.7,478.2 843.3,480 853.7,481.9 C864.1,483.8 869,484.9 879.3,489.8 C889.6,494.8 895.1,498.8 905.3,506.7 C915.4,514.6 920.3,520.3 930,529.3 C939.7,538.3 944.5,542 953.8,551.8 C963.1,561.6 972.1,573 976.6,578.3" fill="none" stroke="#e8503a" stroke-width="1.5" stroke-linejoin="round"/><path d="M829.8,478.2 C834.5,479.2 843.2,477.5 853.4,483.5 C863.5,489.5 870.3,495.1 880.7,508.1 C891.1,521.1 895.6,534.5 905.4,548.6 C915.3,562.6 920.2,570.4 930,578.3 C939.8,586.3 944.3,582.8 954.2,588.2 C964.2,593.6 974.6,602.1 979.7,605.5" fill="none" stroke="#222" stroke-width="1.2" stroke-linejoin="round"/><polygon points="825.7,529.6 827.8,533.4 823.6,533.4" fill="#1c9c86" stroke="#1c9c86" stroke-width="0.5" stroke-linejoin="round"/><polygon points="849.6,538.2 851.7,542 847.5,542" fill="#1c9c86" stroke="#1c9c86" stroke-width="0.5" stroke-linejoin="round"/><polygon points="874.4,569.1 876.5,572.9 872.3,572.9" fill="#1c9c86" stroke="#1c9c86" stroke-width="0.5" stroke-linejoin="round"/><polygon points="900.6,598.6 902.7,602.3 898.5,602.3" fill="#1c9c86" stroke="#1c9c86" stroke-width="0.5" stroke-linejoin="round"/><polygon points="926.2,612.5 928.3,616.3 924.1,616.3" fill="#1c9c86" stroke="#1c9c86" stroke-width="0.5" stroke-linejoin="round"/><polygon points="951.1,616 953.2,619.8 949,619.8" fill="#1c9c86" stroke="#1c9c86" stroke-width="0.5" stroke-linejoin="round"/><polygon points="975.5,616 977.6,619.8 973.4,619.8" fill="#1c9c86" stroke="#1c9c86" stroke-width="0.5" stroke-linejoin="round"/><polygon points="828.9,535.6 831.9,541 825.9,541" fill="#2255a4" stroke="#2255a4" stroke-width="0.5" stroke-linejoin="round"/><polygon points="853.4,548.2 856.4,553.6 850.4,553.6" fill="#2255a4" stroke="#2255a4" stroke-width="0.5" stroke-linejoin="round"/><polygon points="878.9,575.1 881.9,580.5 875.9,580.5" fill="#2255a4" stroke="#2255a4" stroke-width="0.5" stroke-linejoin="round"/><polygon points="904.5,594 907.5,599.4 901.5,599.4" fill="#2255a4" stroke="#2255a4" stroke-width="0.5" stroke-linejoin="round"/><polygon points="930,606.6 933,612 927,612" fill="#2255a4" stroke="#2255a4" stroke-width="0.5" stroke-linejoin="round"/><polygon points="955,610.2 958,615.6 952,615.6" fill="#2255a4" stroke="#2255a4" stroke-width="0.5" stroke-linejoin="round"/><polygon points="979.5,613.1 982.5,618.5 976.5,618.5" fill="#2255a4" stroke="#2255a4" stroke-width="0.5" stroke-linejoin="round"/><rect x="799.2" y="490.4" width="5" height="5" fill="#e8503a" stroke="#e8503a" stroke-width="0.5"/><rect x="824.8" y="477.9" width="5" height="5" fill="#e8503a" stroke="#e8503a" stroke-width="0.5"/><rect x="851.2" y="479.4" width="5" height="5" fill="#e8503a" stroke="#e8503a" stroke-width="0.5"/><rect x="876.8" y="487.3" width="5" height="5" fill="#e8503a" stroke="#e8503a" stroke-width="0.5"/><rect x="902.8" y="504.2" width="5" height="5" fill="#e8503a" stroke="#e8503a" stroke-width="0.5"/><rect x="927.5" y="526.8" width="5" height="5" fill="#e8503a" stroke="#e8503a" stroke-width="0.5"/><rect x="951.3" y="549.3" width="5" height="5" fill="#e8503a" stroke="#e8503a" stroke-width="0.5"/><rect x="974.1" y="575.8" width="5" height="5" fill="#e8503a" stroke="#e8503a" stroke-width="0.5"/><line x1="826.8" y1="475.2" x2="832.8" y2="481.2" stroke="#222" stroke-width="1.3"/><line x1="826.8" y1="481.2" x2="832.8" y2="475.2" stroke="#222" stroke-width="1.3"/><line x1="829.8" y1="475.2" x2="829.8" y2="481.2" stroke="#222" stroke-width="1.04"/><line x1="850.4" y1="480.5" x2="856.4" y2="486.5" stroke="#222" stroke-width="1.3"/><line x1="850.4" y1="486.5" x2="856.4" y2="480.5" stroke="#222" stroke-width="1.3"/><line x1="853.4" y1="480.5" x2="853.4" y2="486.5" stroke="#222" stroke-width="1.04"/><line x1="877.7" y1="505.1" x2="883.7" y2="511.1" stroke="#222" stroke-width="1.3"/><line x1="877.7" y1="511.1" x2="883.7" y2="505.1" stroke="#222" stroke-width="1.3"/><line x1="880.7" y1="505.1" x2="880.7" y2="511.1" stroke="#222" stroke-width="1.04"/><line x1="902.4" y1="545.6" x2="908.4" y2="551.6" stroke="#222" stroke-width="1.3"/><line x1="902.4" y1="551.6" x2="908.4" y2="545.6" stroke="#222" stroke-width="1.3"/><line x1="905.4" y1="545.6" x2="905.4" y2="551.6" stroke="#222" stroke-width="1.04"/><line x1="927" y1="575.3" x2="933" y2="581.3" stroke="#222" stroke-width="1.3"/><line x1="927" y1="581.3" x2="933" y2="575.3" stroke="#222" stroke-width="1.3"/><line x1="930" y1="575.3" x2="930" y2="581.3" stroke="#222" stroke-width="1.04"/><line x1="951.2" y1="585.2" x2="957.2" y2="591.2" stroke="#222" stroke-width="1.3"/><line x1="951.2" y1="591.2" x2="957.2" y2="585.2" stroke="#222" stroke-width="1.3"/><line x1="954.2" y1="585.2" x2="954.2" y2="591.2" stroke="#222" stroke-width="1.04"/><line x1="976.7" y1="602.5" x2="982.7" y2="608.5" stroke="#222" stroke-width="1.3"/><line x1="976.7" y1="608.5" x2="982.7" y2="602.5" stroke="#222" stroke-width="1.3"/><line x1="979.7" y1="602.5" x2="979.7" y2="608.5" stroke="#222" stroke-width="1.04"/><line x1="915.5" y1="447.9" x2="927.5" y2="447.9" stroke="#e8503a" stroke-width="1.6"/><rect x="919" y="445.4" width="5" height="5" fill="#e8503a" stroke="#e8503a" stroke-width="0.5"/><text x="929" y="451.7" font-family='"Liberation Sans", sans-serif' font-size="11" fill="#333" textLength="27" lengthAdjust="spacingAndGlyphs" font-weight="bold">HPGM</text><line x1="915.5" y1="463.7" x2="927.5" y2="463.7" stroke="#2255a4" stroke-width="1.2" stroke-dasharray="1.5,1.5"/><polygon points="921.5,460.7 924.2,465.7 918.8,465.7" fill="#2255a4" stroke="#2255a4" stroke-width="0.5" stroke-linejoin="round"/><text x="929" y="467.5" font-family='"Liberation Sans", sans-serif' font-size="11" fill="#333" textLength="25" lengthAdjust="spacingAndGlyphs" font-weight="bold">LPGM</text><line x1="915.5" y1="479.5" x2="927.5" y2="479.5" stroke="#222" stroke-width="1.2"/><line x1="919" y1="477" x2="924" y2="482" stroke="#222" stroke-width="1.2"/><line x1="919" y1="482" x2="924" y2="477" stroke="#222" stroke-width="1.2"/><line x1="921.5" y1="477" x2="921.5" y2="482" stroke="#222" stroke-width="0.96"/><text x="929" y="483.3" font-family='"Liberation Sans", sans-serif' font-size="11" fill="#333" textLength="66.5" lengthAdjust="spacingAndGlyphs" font-weight="bold">Dual-Zone TWC</text><line x1="915.5" y1="495.3" x2="927.5" y2="495.3" stroke="#1c9c86" stroke-width="1.2" stroke-dasharray="3,2"/><polygon points="921.5,493 923.6,496.8 919.4,496.8" fill="#1c9c86" stroke="#1c9c86" stroke-width="0.5" stroke-linejoin="round"/><text x="929" y="499.1" font-family='"Liberation Sans", sans-serif' font-size="11" fill="#333" textLength="16.5" lengthAdjust="spacingAndGlyphs" font-weight="bold">LNT</text><rect x="1022" y="0" width="2" height="891" fill="#000"/><text x="46" y="356.5" font-family='"Liberation Serif", serif' font-size="37" fill="#e00000" font-weight="bold">b</text><line x1="105.4" y1="482" x2="273.7" y2="482" stroke="#b8b8b8" stroke-width="1.0" stroke-dasharray="3,2.5"/><line x1="105.4" y1="440" x2="273.7" y2="440" stroke="#b8b8b8" stroke-width="1.0" stroke-dasharray="3,2.5"/><line x1="105.4" y1="398" x2="273.7" y2="398" stroke="#b8b8b8" stroke-width="1.0" stroke-dasharray="3,2.5"/><line x1="105.4" y1="355" x2="273.7" y2="355" stroke="#222" stroke-width="1.3"/><line x1="105.4" y1="355" x2="105.4" y2="524" stroke="#8a8a8a" stroke-width="1.5"/><line x1="273.7" y1="355" x2="273.7" y2="524" stroke="#8a8a8a" stroke-width="1.5"/><line x1="102" y1="524" x2="276" y2="524" stroke="#8a8a8a" stroke-width="1.5"/><line x1="102" y1="524" x2="105.4" y2="524" stroke="#8a8a8a" stroke-width="1.2"/><text x="95" y="528.5" font-family='"Liberation Sans", sans-serif' font-size="12.5" fill="#333" text-anchor="end">0</text><line x1="102" y1="482" x2="105.4" y2="482" stroke="#8a8a8a" stroke-width="1.2"/><text x="95" y="486.5" font-family='"Liberation Sans", sans-serif' font-size="12.5" fill="#333" text-anchor="end">400</text><line x1="102" y1="440" x2="105.4" y2="440" stroke="#8a8a8a" stroke-width="1.2"/><text x="95" y="444.5" font-family='"Liberation Sans", sans-serif' font-size="12.5" fill="#333" text-anchor="end">800</text><line x1="102" y1="398" x2="105.4" y2="398" stroke="#8a8a8a" stroke-width="1.2"/><text x="95" y="402.5" font-family='"Liberation Sans", sans-serif' font-size="12.5" fill="#333" text-anchor="end">1200</text><line x1="102" y1="356" x2="105.4" y2="356" stroke="#8a8a8a" stroke-width="1.2"/><text x="95" y="360.5" font-family='"Liberation Sans", sans-serif' font-size="12.5" fill="#333" text-anchor="end">1600</text><line x1="273.7" y1="524" x2="277" y2="524" stroke="#8a8a8a" stroke-width="1.2"/><text x="285.5" y="528.5" font-family='"Liberation Sans", sans-serif' font-size="12.5" fill="#333">0</text><line x1="273.7" y1="496" x2="277" y2="496" stroke="#8a8a8a" stroke-width="1.2"/><text x="285.5" y="500.5" font-family='"Liberation Sans", sans-serif' font-size="12.5" fill="#333">20</text><line x1="273.7" y1="468" x2="277" y2="468" stroke="#8a8a8a" stroke-width="1.2"/><text x="285.5" y="472.5" font-family='"Liberation Sans", sans-serif' font-size="12.5" fill="#333">40</text><line x1="273.7" y1="440" x2="277" y2="440" stroke="#8a8a8a" stroke-width="1.2"/><text x="285.5" y="444.5" font-family='"Liberation Sans", sans-serif' font-size="12.5" fill="#333">60</text><line x1="273.7" y1="412" x2="277" y2="412" stroke="#8a8a8a" stroke-width="1.2"/><text x="285.5" y="416.5" font-family='"Liberation Sans", sans-serif' font-size="12.5" fill="#333">80</text><line x1="273.7" y1="384" x2="277" y2="384" stroke="#8a8a8a" stroke-width="1.2"/><text x="285.5" y="388.5" font-family='"Liberation Sans", sans-serif' font-size="12.5" fill="#333">100</text><line x1="273.7" y1="356" x2="277" y2="356" stroke="#8a8a8a" stroke-width="1.2"/><text x="285.5" y="360.5" font-family='"Liberation Sans", sans-serif' font-size="12.5" fill="#333">120</text><line x1="105.4" y1="524" x2="105.4" y2="527" stroke="#8a8a8a" stroke-width="1.2"/><text x="105.4" y="545.5" font-family='"Liberation Sans", sans-serif' font-size="12.5" fill="#333" text-anchor="middle">150</text><line x1="139" y1="524" x2="139" y2="527" stroke="#8a8a8a" stroke-width="1.2"/><text x="139" y="545.5" font-family='"Liberation Sans", sans-serif' font-size="12.5" fill="#333" text-anchor="middle">250</text><line x1="172.6" y1="524" x2="172.6" y2="527" stroke="#8a8a8a" stroke-width="1.2"/><text x="172.6" y="545.5" font-family='"Liberation Sans", sans-serif' font-size="12.5" fill="#333" text-anchor="middle">350</text><line x1="206.2" y1="524" x2="206.2" y2="527" stroke="#8a8a8a" stroke-width="1.2"/><text x="206.2" y="545.5" font-family='"Liberation Sans", sans-serif' font-size="12.5" fill="#333" text-anchor="middle">450</text><line x1="239.8" y1="524" x2="239.8" y2="527" stroke="#8a8a8a" stroke-width="1.2"/><text x="239.8" y="545.5" font-family='"Liberation Sans", sans-serif' font-size="12.5" fill="#333" text-anchor="middle">550</text><line x1="273.4" y1="524" x2="273.4" y2="527" stroke="#8a8a8a" stroke-width="1.2"/><text x="273.4" y="545.5" font-family='"Liberation Sans", sans-serif' font-size="12.5" fill="#333" text-anchor="middle">650</text><text x="192.5" y="563.5" font-family='"Liberation Sans", sans-serif' font-size="12" fill="#222" textLength="161" lengthAdjust="spacingAndGlyphs" font-weight="bold" text-anchor="middle">Catalyst Inlet Temperature (°C)</text><text x="65.5" y="443.5" font-family='"Liberation Sans", sans-serif' font-size="12" fill="#222" textLength="157" lengthAdjust="spacingAndGlyphs" font-weight="bold" text-anchor="middle" transform="rotate(-90 65.5 443.5)">Product Concentrations (ppm)</text><text x="316" y="440" font-family='"Liberation Sans", sans-serif' font-size="11.2" fill="#222" font-weight="bold" text-anchor="middle" transform="rotate(-90 316 440)">NH<tspan font-size="8.5" dy="3">3</tspan><tspan dy="-3"> Selectivity (%)</tspan></text><path d="M120.2,502.6 C124,488.6 134.5,445.3 141,426.1 C147.5,407 145.5,406.8 155.5,398 C165.4,389.2 181.3,380.3 195.4,378.1 C209.6,376 219.3,373.6 232.7,386.4 C246.2,399.2 262.1,436.6 268.7,447.8" fill="none" stroke="#4a4a4a" stroke-width="2.6" stroke-linejoin="round" stroke-dasharray="8,4.5"/><path d="M120.2,508.2 C124.4,493.7 134,461 141,435.5 C148.1,410 144.6,396.7 155.5,380.7 C166.4,364.7 180,357.8 195.4,355.5 C210.9,353.1 218.1,352 232.7,368.8 C247.4,385.6 261.5,425.3 268.7,439.5" fill="none" stroke="#1f63b0" stroke-width="2.2" stroke-linejoin="round"/><polyline points="120.2,491.7 141,520.9 155.5,522.5 195.4,523.8 232.7,523.8 268.7,523.8" fill="none" stroke="#e45a2a" stroke-width="2.2" stroke-linejoin="round"/><polygon points="120.2,498.2 124.3,505.5 116.1,505.5" fill="#fff" stroke="#444" stroke-width="1.1" stroke-linejoin="round"/><polygon points="141,421.7 145.1,429.1 136.9,429.1" fill="#fff" stroke="#444" stroke-width="1.1" stroke-linejoin="round"/><polygon points="155.5,393.6 159.6,401 151.4,401" fill="#fff" stroke="#444" stroke-width="1.1" stroke-linejoin="round"/><polygon points="195.4,373.7 199.5,381.1 191.3,381.1" fill="#fff" stroke="#444" stroke-width="1.1" stroke-linejoin="round"/><polygon points="232.7,382 236.8,389.3 228.6,389.3" fill="#fff" stroke="#444" stroke-width="1.1" stroke-linejoin="round"/><polygon points="268.7,443.4 272.8,450.8 264.6,450.8" fill="#fff" stroke="#444" stroke-width="1.1" stroke-linejoin="round"/><polygon points="120.2,504 124.4,508.2 120.2,512.5 115.9,508.2" fill="#1f63b0" stroke="none" stroke-width="1" stroke-linejoin="round"/><polygon points="141,431.2 145.3,435.5 141,439.7 136.8,435.5" fill="#1f63b0" stroke="none" stroke-width="1" stroke-linejoin="round"/><polygon points="155.5,376.4 159.7,380.7 155.5,384.9 151.2,380.7" fill="#1f63b0" stroke="none" stroke-width="1" stroke-linejoin="round"/><polygon points="195.4,351.2 199.7,355.5 195.4,359.7 191.2,355.5" fill="#1f63b0" stroke="none" stroke-width="1" stroke-linejoin="round"/><polygon points="232.7,364.6 237,368.8 232.7,373.1 228.5,368.8" fill="#1f63b0" stroke="none" stroke-width="1" stroke-linejoin="round"/><polygon points="268.7,435.2 272.9,439.5 268.7,443.7 264.4,439.5" fill="#1f63b0" stroke="none" stroke-width="1" stroke-linejoin="round"/><rect x="116.9" y="488.4" width="6.5" height="6.5" fill="#e45a2a" stroke="#e45a2a" stroke-width="0.5"/><rect x="137.8" y="517.6" width="6.5" height="6.5" fill="#e45a2a" stroke="#e45a2a" stroke-width="0.5"/><rect x="152.2" y="519.3" width="6.5" height="6.5" fill="#e45a2a" stroke="#e45a2a" stroke-width="0.5"/><rect x="192.2" y="520.5" width="6.5" height="6.5" fill="#e45a2a" stroke="#e45a2a" stroke-width="0.5"/><rect x="229.5" y="520.5" width="6.5" height="6.5" fill="#e45a2a" stroke="#e45a2a" stroke-width="0.5"/><rect x="265.4" y="520.5" width="6.5" height="6.5" fill="#e45a2a" stroke="#e45a2a" stroke-width="0.5"/><text x="108" y="376.5" font-family='"Liberation Sans", sans-serif' font-size="11.5" fill="#1f63b0" font-weight="bold">NH<tspan font-size="8.5" dy="3">3</tspan><tspan dy="-3"> Conc.</tspan></text><text x="162.5" y="409.5" font-family='"Liberation Sans", sans-serif' font-size="11.5" fill="#555" font-weight="bold">NH<tspan font-size="8.5" dy="3">3</tspan><tspan dy="-3"> Selectivity</tspan></text><text x="178" y="518.5" font-family='"Liberation Sans", sans-serif' font-size="11.5" fill="#e45a2a" font-weight="bold">N<tspan font-size="8.5" dy="3">2</tspan><tspan dy="-3">O Conc.</tspan></text><text x="244" y="512" font-family='"Liberation Serif", serif' font-size="12.5" fill="#444">(B)</text><text x="351" y="351" font-family='"Liberation Serif", serif' font-size="37" fill="#e00000" font-weight="bold">e</text><defs><linearGradient id="hr0" gradientUnits="userSpaceOnUse" x1="401.2" y1="0" x2="631.3" y2="0"><stop offset="0.0000" stop-color="#f47000"/><stop offset="0.1247" stop-color="#ffb400"/><stop offset="0.1870" stop-color="#ffd400"/><stop offset="0.2100" stop-color="#ffe400"/><stop offset="0.3019" stop-color="#d0e000"/><stop offset="0.3937" stop-color="#88d000"/><stop offset="0.4167" stop-color="#76cc08"/><stop offset="0.4596" stop-color="#40c020"/><stop offset="0.5169" stop-color="#20b890"/><stop offset="0.5598" stop-color="#10a8e0"/><stop offset="0.6185" stop-color="#1098e8"/><stop offset="0.6967" stop-color="#0868dc"/><stop offset="0.7553" stop-color="#0810c0"/><stop offset="0.7771" stop-color="#3810c8"/><stop offset="0.7988" stop-color="#6212b8"/><stop offset="0.8477" stop-color="#5e0c88"/><stop offset="0.8640" stop-color="#5c0b75"/><stop offset="0.9509" stop-color="#5a0a62"/><stop offset="1.0000" stop-color="#5a0a62"/></linearGradient><linearGradient id="hr1" gradientUnits="userSpaceOnUse" x1="401.2" y1="0" x2="631.3" y2="0"><stop offset="0.0000" stop-color="#f46e00"/><stop offset="0.0016" stop-color="#f47000"/><stop offset="0.1266" stop-color="#ffb400"/><stop offset="0.1891" stop-color="#ffd400"/><stop offset="0.2119" stop-color="#ffe400"/><stop offset="0.3032" stop-color="#d0e000"/><stop offset="0.3946" stop-color="#88d000"/><stop offset="0.4174" stop-color="#76cc08"/><stop offset="0.4602" stop-color="#40c020"/><stop offset="0.5172" stop-color="#20b890"/><stop offset="0.5600" stop-color="#10a8e0"/><stop offset="0.6186" stop-color="#1098e8"/><stop offset="0.6967" stop-color="#0868dc"/><stop offset="0.7553" stop-color="#0810c0"/><stop offset="0.7771" stop-color="#3810c8"/><stop offset="0.7988" stop-color="#6212b8"/><stop offset="0.8477" stop-color="#5e0c88"/><stop offset="0.8640" stop-color="#5c0b75"/><stop offset="0.9509" stop-color="#5a0a62"/><stop offset="1.0000" stop-color="#5a0a62"/></linearGradient><linearGradient id="hr2" gradientUnits="userSpaceOnUse" x1="401.2" y1="0" x2="631.3" y2="0"><stop offset="0.0000" stop-color="#f36c00"/><stop offset="0.0033" stop-color="#f47000"/><stop offset="0.1286" stop-color="#ffb400"/><stop offset="0.1912" stop-color="#ffd400"/><stop offset="0.2139" stop-color="#ffe400"/><stop offset="0.3046" stop-color="#d0e000"/><stop offset="0.3954" stop-color="#88d000"/><stop offset="0.4181" stop-color="#76cc08"/><stop offset="0.4607" stop-color="#40c020"/><stop offset="0.5176" stop-color="#20b890"/><stop offset="0.5602" stop-color="#10a8e0"/><stop offset="0.6187" stop-color="#1098e8"/><stop offset="0.6968" stop-color="#0868dc"/><stop offset="0.7553" stop-color="#0810c0"/><stop offset="0.7771" stop-color="#3810c8"/><stop offset="0.7988" stop-color="#6212b8"/><stop offset="0.8477" stop-color="#5e0c88"/><stop offset="0.8640" stop-color="#5c0b75"/><stop offset="0.9509" stop-color="#5a0a62"/><stop offset="1.0000" stop-color="#5a0a62"/></linearGradient><linearGradient id="hr3" gradientUnits="userSpaceOnUse" x1="401.2" y1="0" x2="631.3" y2="0"><stop offset="0.0000" stop-color="#f36a00"/><stop offset="0.0050" stop-color="#f47000"/><stop offset="0.1305" stop-color="#ffb400"/><stop offset="0.1932" stop-color="#ffd400"/><stop offset="0.2158" stop-color="#ffe400"/><stop offset="0.3060" stop-color="#d0e000"/><stop offset="0.3962" stop-color="#88d000"/><stop offset="0.4188" stop-color="#76cc08"/><stop offset="0.4613" stop-color="#40c020"/><stop offset="0.5179" stop-color="#20b890"/><stop offset="0.5604" stop-color="#10a8e0"/><stop offset="0.6189" stop-color="#1098e8"/><stop offset="0.6968" stop-color="#0868dc"/><stop offset="0.7553" stop-color="#0810c0"/><stop offset="0.7771" stop-color="#3810c8"/><stop offset="0.7988" stop-color="#6212b8"/><stop offset="0.8477" stop-color="#5e0c88"/><stop offset="0.8640" stop-color="#5c0b75"/><stop offset="0.9509" stop-color="#5a0a62"/><stop offset="1.0000" stop-color="#5a0a62"/></linearGradient><linearGradient id="hr4" gradientUnits="userSpaceOnUse" x1="401.2" y1="0" x2="631.3" y2="0"><stop offset="0.0000" stop-color="#f26800"/><stop offset="0.0067" stop-color="#f47000"/><stop offset="0.1324" stop-color="#ffb400"/><stop offset="0.1953" stop-color="#ffd400"/><stop offset="0.2177" stop-color="#ffe400"/><stop offset="0.3074" stop-color="#d0e000"/><stop offset="0.3971" stop-color="#88d000"/><stop offset="0.4195" stop-color="#76cc08"/><stop offset="0.4618" stop-color="#40c020"/><stop offset="0.5182" stop-color="#20b890"/><stop offset="0.5605" stop-color="#10a8e0"/><stop offset="0.6190" stop-color="#1098e8"/><stop offset="0.6969" stop-color="#0868dc"/><stop offset="0.7553" stop-color="#0810c0"/><stop offset="0.7771" stop-color="#3810c8"/><stop offset="0.7988" stop-color="#6212b8"/><stop offset="0.8477" stop-color="#5e0c88"/><stop offset="0.8640" stop-color="#5c0b75"/><stop offset="0.9509" stop-color="#5a0a62"/><stop offset="1.0000" stop-color="#5a0a62"/></linearGradient><linearGradient id="hr5" gradientUnits="userSpaceOnUse" x1="401.2" y1="0" x2="631.3" y2="0"><stop offset="0.0000" stop-color="#f26500"/><stop offset="0.0083" stop-color="#f47000"/><stop offset="0.1344" stop-color="#ffb400"/><stop offset="0.1974" stop-color="#ffd400"/><stop offset="0.2197" stop-color="#ffe400"/><stop offset="0.3088" stop-color="#d0e000"/><stop offset="0.3979" stop-color="#88d000"/><stop offset="0.4202" stop-color="#76cc08"/><stop offset="0.4623" stop-color="#40c020"/><stop offset="0.5185" stop-color="#20b890"/><stop offset="0.5607" stop-color="#10a8e0"/><stop offset="0.6191" stop-color="#1098e8"/><stop offset="0.6969" stop-color="#0868dc"/><stop offset="0.7553" stop-color="#0810c0"/><stop offset="0.7771" stop-color="#3810c8"/><stop offset="0.7988" stop-color="#6212b8"/><stop offset="0.8477" stop-color="#5e0c88"/><stop offset="0.8640" stop-color="#5c0b75"/><stop offset="0.9509" stop-color="#5a0a62"/><stop offset="1.0000" stop-color="#5a0a62"/></linearGradient><linearGradient id="hr6" gradientUnits="userSpaceOnUse" x1="401.2" y1="0" x2="631.3" y2="0"><stop offset="0.0000" stop-color="#f16100"/><stop offset="0.0100" stop-color="#f47000"/><stop offset="0.1363" stop-color="#ffb400"/><stop offset="0.1995" stop-color="#ffd400"/><stop offset="0.2216" stop-color="#ffe400"/><stop offset="0.3102" stop-color="#d0e000"/><stop offset="0.3987" stop-color="#88d000"/><stop offset="0.4209" stop-color="#76cc08"/><stop offset="0.4629" stop-color="#40c020"/><stop offset="0.5189" stop-color="#20b890"/><stop offset="0.5609" stop-color="#10a8e0"/><stop offset="0.6192" stop-color="#1098e8"/><stop offset="0.6970" stop-color="#0868dc"/><stop offset="0.7553" stop-color="#0810c0"/><stop offset="0.7771" stop-color="#3810c8"/><stop offset="0.7988" stop-color="#6212b8"/><stop offset="0.8477" stop-color="#5e0c88"/><stop offset="0.8640" stop-color="#5c0b75"/><stop offset="0.9509" stop-color="#5a0a62"/><stop offset="1.0000" stop-color="#5a0a62"/></linearGradient><linearGradient id="hr7" gradientUnits="userSpaceOnUse" x1="401.2" y1="0" x2="631.3" y2="0"><stop offset="0.0000" stop-color="#f05d00"/><stop offset="0.0117" stop-color="#f47000"/><stop offset="0.1382" stop-color="#ffb400"/><stop offset="0.2015" stop-color="#ffd400"/><stop offset="0.2235" stop-color="#ffe400"/><stop offset="0.3115" stop-color="#d0e000"/><stop offset="0.3996" stop-color="#88d000"/><stop offset="0.4216" stop-color="#76cc08"/><stop offset="0.4634" stop-color="#40c020"/><stop offset="0.5192" stop-color="#20b890"/><stop offset="0.5611" stop-color="#10a8e0"/><stop offset="0.6193" stop-color="#1098e8"/><stop offset="0.6970" stop-color="#0868dc"/><stop offset="0.7553" stop-color="#0810c0"/><stop offset="0.7771" stop-color="#3810c8"/><stop offset="0.7988" stop-color="#6212b8"/><stop offset="0.8477" stop-color="#5e0c88"/><stop offset="0.8640" stop-color="#5c0b75"/><stop offset="0.9509" stop-color="#5a0a62"/><stop offset="1.0000" stop-color="#5a0a62"/></linearGradient><linearGradient id="hr8" gradientUnits="userSpaceOnUse" x1="401.2" y1="0" x2="631.3" y2="0"><stop offset="0.0000" stop-color="#ef5700"/><stop offset="0.0133" stop-color="#f47000"/><stop offset="0.1402" stop-color="#ffb400"/><stop offset="0.2036" stop-color="#ffd400"/><stop offset="0.2255" stop-color="#ffe400"/><stop offset="0.3129" stop-color="#d0e000"/><stop offset="0.4004" stop-color="#88d000"/><stop offset="0.4223" stop-color="#76cc08"/><stop offset="0.4639" stop-color="#40c020"/><stop offset="0.5195" stop-color="#20b890"/><stop offset="0.5612" stop-color="#10a8e0"/><stop offset="0.6195" stop-color="#1098e8"/><stop offset="0.6971" stop-color="#0868dc"/><stop offset="0.7553" stop-color="#0810c0"/><stop offset="0.7771" stop-color="#3810c8"/><stop offset="0.7988" stop-color="#6212b8"/><stop offset="0.8477" stop-color="#5e0c88"/><stop offset="0.8640" stop-color="#5c0b75"/><stop offset="0.9509" stop-color="#5a0a62"/><stop offset="1.0000" stop-color="#5a0a62"/></linearGradient><linearGradient id="hr9" gradientUnits="userSpaceOnUse" x1="401.2" y1="0" x2="631.3" y2="0"><stop offset="0.0000" stop-color="#ee5000"/><stop offset="0.0150" stop-color="#f47000"/><stop offset="0.1421" stop-color="#ffb400"/><stop offset="0.2057" stop-color="#ffd400"/><stop offset="0.2274" stop-color="#ffe400"/><stop offset="0.3143" stop-color="#d0e000"/><stop offset="0.4012" stop-color="#88d000"/><stop offset="0.4229" stop-color="#76cc08"/><stop offset="0.4645" stop-color="#40c020"/><stop offset="0.5199" stop-color="#20b890"/><stop offset="0.5614" stop-color="#10a8e0"/><stop offset="0.6196" stop-color="#1098e8"/><stop offset="0.6971" stop-color="#0868dc"/><stop offset="0.7553" stop-color="#0810c0"/><stop offset="0.7771" stop-color="#3810c8"/><stop offset="0.7988" stop-color="#6212b8"/><stop offset="0.8477" stop-color="#5e0c88"/><stop offset="0.8640" stop-color="#5c0b75"/><stop offset="0.9509" stop-color="#5a0a62"/><stop offset="1.0000" stop-color="#5a0a62"/></linearGradient><linearGradient id="hr10" gradientUnits="userSpaceOnUse" x1="401.2" y1="0" x2="631.3" y2="0"><stop offset="0.0000" stop-color="#ec4700"/><stop offset="0.0167" stop-color="#f47000"/><stop offset="0.1441" stop-color="#ffb400"/><stop offset="0.2077" stop-color="#ffd400"/><stop offset="0.2293" stop-color="#ffe400"/><stop offset="0.3157" stop-color="#d0e000"/><stop offset="0.4021" stop-color="#88d000"/><stop offset="0.4236" stop-color="#76cc08"/><stop offset="0.4650" stop-color="#40c020"/><stop offset="0.5202" stop-color="#20b890"/><stop offset="0.5616" stop-color="#10a8e0"/><stop offset="0.6197" stop-color="#1098e8"/><stop offset="0.6972" stop-color="#0868dc"/><stop offset="0.7553" stop-color="#0810c0"/><stop offset="0.7771" stop-color="#3810c8"/><stop offset="0.7988" stop-color="#6212b8"/><stop offset="0.8477" stop-color="#5e0c88"/><stop offset="0.8640" stop-color="#5c0b75"/><stop offset="0.9509" stop-color="#5a0a62"/><stop offset="1.0000" stop-color="#5a0a62"/></linearGradient><linearGradient id="hr11" gradientUnits="userSpaceOnUse" x1="401.2" y1="0" x2="631.3" y2="0"><stop offset="0.0000" stop-color="#ea3b00"/><stop offset="0.0184" stop-color="#f47000"/><stop offset="0.1460" stop-color="#ffb400"/><stop offset="0.2098" stop-color="#ffd400"/><stop offset="0.2313" stop-color="#ffe400"/><stop offset="0.3171" stop-color="#d0e000"/><stop offset="0.4029" stop-color="#88d000"/><stop offset="0.4243" stop-color="#76cc08"/><stop offset="0.4656" stop-color="#40c020"/><stop offset="0.5205" stop-color="#20b890"/><stop offset="0.5618" stop-color="#10a8e0"/><stop offset="0.6198" stop-color="#1098e8"/><stop offset="0.6973" stop-color="#0868dc"/><stop offset="0.7553" stop-color="#0810c0"/><stop offset="0.7771" stop-color="#3810c8"/><stop offset="0.7988" stop-color="#6212b8"/><stop offset="0.8477" stop-color="#5e0c88"/><stop offset="0.8640" stop-color="#5c0b75"/><stop offset="0.9509" stop-color="#5a0a62"/><stop offset="1.0000" stop-color="#5a0a62"/></linearGradient><linearGradient id="hr12" gradientUnits="userSpaceOnUse" x1="401.2" y1="0" x2="631.3" y2="0"><stop offset="0.0000" stop-color="#e52900"/><stop offset="0.0017" stop-color="#e83000"/><stop offset="0.0200" stop-color="#f47000"/><stop offset="0.1479" stop-color="#ffb400"/><stop offset="0.2119" stop-color="#ffd400"/><stop offset="0.2332" stop-color="#ffe400"/><stop offset="0.3185" stop-color="#d0e000"/><stop offset="0.4037" stop-color="#88d000"/><stop offset="0.4250" stop-color="#76cc08"/><stop offset="0.4661" stop-color="#40c020"/><stop offset="0.5209" stop-color="#20b890"/><stop offset="0.5619" stop-color="#10a8e0"/><stop offset="0.6199" stop-color="#1098e8"/><stop offset="0.6973" stop-color="#0868dc"/><stop offset="0.7553" stop-color="#0810c0"/><stop offset="0.7771" stop-color="#3810c8"/><stop offset="0.7988" stop-color="#6212b8"/><stop offset="0.8477" stop-color="#5e0c88"/><stop offset="0.8640" stop-color="#5c0b75"/><stop offset="0.9509" stop-color="#5a0a62"/><stop offset="1.0000" stop-color="#5a0a62"/></linearGradient><linearGradient id="hr13" gradientUnits="userSpaceOnUse" x1="401.2" y1="0" x2="631.3" y2="0"><stop offset="0.0000" stop-color="#de1800"/><stop offset="0.0005" stop-color="#de1800"/><stop offset="0.0060" stop-color="#e83000"/><stop offset="0.0225" stop-color="#f47000"/><stop offset="0.1501" stop-color="#ffb400"/><stop offset="0.2139" stop-color="#ffd400"/><stop offset="0.2351" stop-color="#ffe400"/><stop offset="0.3198" stop-color="#d0e000"/><stop offset="0.4045" stop-color="#88d000"/><stop offset="0.4257" stop-color="#76cc08"/><stop offset="0.4666" stop-color="#40c020"/><stop offset="0.5212" stop-color="#20b890"/><stop offset="0.5621" stop-color="#10a8e0"/><stop offset="0.6201" stop-color="#1098e8"/><stop offset="0.6974" stop-color="#0868dc"/><stop offset="0.7553" stop-color="#0810c0"/><stop offset="0.7771" stop-color="#3810c8"/><stop offset="0.7988" stop-color="#6212b8"/><stop offset="0.8477" stop-color="#5e0c88"/><stop offset="0.8640" stop-color="#5c0b75"/><stop offset="0.9509" stop-color="#5a0a62"/><stop offset="1.0000" stop-color="#5a0a62"/></linearGradient><linearGradient id="hr14" gradientUnits="userSpaceOnUse" x1="401.2" y1="0" x2="631.3" y2="0"><stop offset="0.0000" stop-color="#dd1600"/><stop offset="0.0032" stop-color="#de1800"/><stop offset="0.0088" stop-color="#e83000"/><stop offset="0.0257" stop-color="#f47000"/><stop offset="0.1526" stop-color="#ffb400"/><stop offset="0.2160" stop-color="#ffd400"/><stop offset="0.2371" stop-color="#ffe400"/><stop offset="0.3212" stop-color="#d0e000"/><stop offset="0.4054" stop-color="#88d000"/><stop offset="0.4264" stop-color="#76cc08"/><stop offset="0.4672" stop-color="#40c020"/><stop offset="0.5215" stop-color="#20b890"/><stop offset="0.5623" stop-color="#10a8e0"/><stop offset="0.6202" stop-color="#1098e8"/><stop offset="0.6974" stop-color="#0868dc"/><stop offset="0.7553" stop-color="#0810c0"/><stop offset="0.7771" stop-color="#3810c8"/><stop offset="0.7988" stop-color="#6212b8"/><stop offset="0.8477" stop-color="#5e0c88"/><stop offset="0.8640" stop-color="#5c0b75"/><stop offset="0.9509" stop-color="#5a0a62"/><stop offset="1.0000" stop-color="#5a0a62"/></linearGradient><linearGradient id="hr15" gradientUnits="userSpaceOnUse" x1="401.2" y1="0" x2="631.3" y2="0"><stop offset="0.0000" stop-color="#dc1300"/><stop offset="0.0059" stop-color="#de1800"/><stop offset="0.0117" stop-color="#e83000"/><stop offset="0.0290" stop-color="#f47000"/><stop offset="0.1551" stop-color="#ffb400"/><stop offset="0.2181" stop-color="#ffd400"/><stop offset="0.2390" stop-color="#ffe400"/><stop offset="0.3226" stop-color="#d0e000"/><stop offset="0.4062" stop-color="#88d000"/><stop offset="0.4271" stop-color="#76cc08"/><stop offset="0.4677" stop-color="#40c020"/><stop offset="0.5219" stop-color="#20b890"/><stop offset="0.5625" stop-color="#10a8e0"/><stop offset="0.6203" stop-color="#1098e8"/><stop offset="0.6975" stop-color="#0868dc"/><stop offset="0.7553" stop-color="#0810c0"/><stop offset="0.7771" stop-color="#3810c8"/><stop offset="0.7988" stop-color="#6212b8"/><stop offset="0.8477" stop-color="#5e0c88"/><stop offset="0.8640" stop-color="#5c0b75"/><stop offset="0.9509" stop-color="#5a0a62"/><stop offset="1.0000" stop-color="#5a0a62"/></linearGradient><linearGradient id="hr16" gradientUnits="userSpaceOnUse" x1="401.2" y1="0" x2="631.3" y2="0"><stop offset="0.0000" stop-color="#db1100"/><stop offset="0.0086" stop-color="#de1800"/><stop offset="0.0145" stop-color="#e83000"/><stop offset="0.0323" stop-color="#f47000"/><stop offset="0.1575" stop-color="#ffb400"/><stop offset="0.2202" stop-color="#ffd400"/><stop offset="0.2409" stop-color="#ffe400"/><stop offset="0.3240" stop-color="#d0e000"/><stop offset="0.4070" stop-color="#88d000"/><stop offset="0.4278" stop-color="#76cc08"/><stop offset="0.4683" stop-color="#40c020"/><stop offset="0.5222" stop-color="#20b890"/><stop offset="0.5626" stop-color="#10a8e0"/><stop offset="0.6204" stop-color="#1098e8"/><stop offset="0.6975" stop-color="#0868dc"/><stop offset="0.7553" stop-color="#0810c0"/><stop offset="0.7771" stop-color="#3810c8"/><stop offset="0.7988" stop-color="#6212b8"/><stop offset="0.8477" stop-color="#5e0c88"/><stop offset="0.8640" stop-color="#5c0b75"/><stop offset="0.9509" stop-color="#5a0a62"/><stop offset="1.0000" stop-color="#5a0a62"/></linearGradient><linearGradient id="hr17" gradientUnits="userSpaceOnUse" x1="401.2" y1="0" x2="631.3" y2="0"><stop offset="0.0000" stop-color="#da0e00"/><stop offset="0.0114" stop-color="#de1800"/><stop offset="0.0174" stop-color="#e83000"/><stop offset="0.0355" stop-color="#f47000"/><stop offset="0.1600" stop-color="#ffb400"/><stop offset="0.2222" stop-color="#ffd400"/><stop offset="0.2429" stop-color="#ffe400"/><stop offset="0.3254" stop-color="#d0e000"/><stop offset="0.4079" stop-color="#88d000"/><stop offset="0.4285" stop-color="#76cc08"/><stop offset="0.4688" stop-color="#40c020"/><stop offset="0.5225" stop-color="#20b890"/><stop offset="0.5628" stop-color="#10a8e0"/><stop offset="0.6206" stop-color="#1098e8"/><stop offset="0.6976" stop-color="#0868dc"/><stop offset="0.7553" stop-color="#0810c0"/><stop offset="0.7771" stop-color="#3810c8"/><stop offset="0.7988" stop-color="#6212b8"/><stop offset="0.8477" stop-color="#5e0c88"/><stop offset="0.8640" stop-color="#5c0b75"/><stop offset="0.9509" stop-color="#5a0a62"/><stop offset="1.0000" stop-color="#5a0a62"/></linearGradient><linearGradient id="hr18" gradientUnits="userSpaceOnUse" x1="401.2" y1="0" x2="631.3" y2="0"><stop offset="0.0000" stop-color="#d80a00"/><stop offset="0.0141" stop-color="#de1800"/><stop offset="0.0202" stop-color="#e83000"/><stop offset="0.0388" stop-color="#f47000"/><stop offset="0.1625" stop-color="#ffb400"/><stop offset="0.2243" stop-color="#ffd400"/><stop offset="0.2448" stop-color="#ffe400"/><stop offset="0.3267" stop-color="#d0e000"/><stop offset="0.4087" stop-color="#88d000"/><stop offset="0.4292" stop-color="#76cc08"/><stop offset="0.4693" stop-color="#40c020"/><stop offset="0.5228" stop-color="#20b890"/><stop offset="0.5630" stop-color="#10a8e0"/><stop offset="0.6207" stop-color="#1098e8"/><stop offset="0.6976" stop-color="#0868dc"/><stop offset="0.7553" stop-color="#0810c0"/><stop offset="0.7771" stop-color="#3810c8"/><stop offset="0.7988" stop-color="#6212b8"/><stop offset="0.8477" stop-color="#5e0c88"/><stop offset="0.8640" stop-color="#5c0b75"/><stop offset="0.9509" stop-color="#5a0a62"/><stop offset="1.0000" stop-color="#5a0a62"/></linearGradient><linearGradient id="hr19" gradientUnits="userSpaceOnUse" x1="401.2" y1="0" x2="631.3" y2="0"><stop offset="0.0000" stop-color="#d70700"/><stop offset="0.0168" stop-color="#de1800"/><stop offset="0.0231" stop-color="#e83000"/><stop offset="0.0420" stop-color="#f47000"/><stop offset="0.1649" stop-color="#ffb400"/><stop offset="0.2264" stop-color="#ffd400"/><stop offset="0.2467" stop-color="#ffe400"/><stop offset="0.3281" stop-color="#d0e000"/><stop offset="0.4095" stop-color="#88d000"/><stop offset="0.4299" stop-color="#76cc08"/><stop offset="0.4699" stop-color="#40c020"/><stop offset="0.5232" stop-color="#20b890"/><stop offset="0.5631" stop-color="#10a8e0"/><stop offset="0.6208" stop-color="#1098e8"/><stop offset="0.6977" stop-color="#0868dc"/><stop offset="0.7553" stop-color="#0810c0"/><stop offset="0.7771" stop-color="#3810c8"/><stop offset="0.7988" stop-color="#6212b8"/><stop offset="0.8477" stop-color="#5e0c88"/><stop offset="0.8640" stop-color="#5c0b75"/><stop offset="0.9509" stop-color="#5a0a62"/><stop offset="1.0000" stop-color="#5a0a62"/></linearGradient><linearGradient id="hr20" gradientUnits="userSpaceOnUse" x1="401.2" y1="0" x2="631.3" y2="0"><stop offset="0.0000" stop-color="#d50200"/><stop offset="0.0195" stop-color="#de1800"/><stop offset="0.0260" stop-color="#e83000"/><stop offset="0.0453" stop-color="#f47000"/><stop offset="0.1674" stop-color="#ffb400"/><stop offset="0.2284" stop-color="#ffd400"/><stop offset="0.2486" stop-color="#ffe400"/><stop offset="0.3295" stop-color="#d0e000"/><stop offset="0.4104" stop-color="#88d000"/><stop offset="0.4306" stop-color="#76cc08"/><stop offset="0.4704" stop-color="#40c020"/><stop offset="0.5235" stop-color="#20b890"/><stop offset="0.5633" stop-color="#10a8e0"/><stop offset="0.6209" stop-color="#1098e8"/><stop offset="0.6977" stop-color="#0868dc"/><stop offset="0.7553" stop-color="#0810c0"/><stop offset="0.7771" stop-color="#3810c8"/><stop offset="0.7988" stop-color="#6212b8"/><stop offset="0.8477" stop-color="#5e0c88"/><stop offset="0.8640" stop-color="#5c0b75"/><stop offset="0.9509" stop-color="#5a0a62"/><stop offset="1.0000" stop-color="#5a0a62"/></linearGradient><linearGradient id="hr21" gradientUnits="userSpaceOnUse" x1="401.2" y1="0" x2="631.3" y2="0"><stop offset="0.0000" stop-color="#d40000"/><stop offset="0.0042" stop-color="#d40000"/><stop offset="0.0247" stop-color="#de1800"/><stop offset="0.0313" stop-color="#e83000"/><stop offset="0.0513" stop-color="#f47000"/><stop offset="0.1712" stop-color="#ffb400"/><stop offset="0.2311" stop-color="#ffd400"/><stop offset="0.2511" stop-color="#ffe400"/><stop offset="0.3312" stop-color="#d0e000"/><stop offset="0.4113" stop-color="#88d000"/><stop offset="0.4313" stop-color="#76cc08"/><stop offset="0.4710" stop-color="#40c020"/><stop offset="0.5238" stop-color="#20b890"/><stop offset="0.5635" stop-color="#10a8e0"/><stop offset="0.6210" stop-color="#1098e8"/><stop offset="0.6978" stop-color="#0868dc"/><stop offset="0.7553" stop-color="#0810c0"/><stop offset="0.7771" stop-color="#3810c8"/><stop offset="0.7988" stop-color="#6212b8"/><stop offset="0.8477" stop-color="#5e0c88"/><stop offset="0.8640" stop-color="#5c0b75"/><stop offset="0.9509" stop-color="#5a0a62"/><stop offset="1.0000" stop-color="#5a0a62"/></linearGradient><linearGradient id="hr22" gradientUnits="userSpaceOnUse" x1="401.2" y1="0" x2="631.3" y2="0"><stop offset="0.0000" stop-color="#d30000"/><stop offset="0.0126" stop-color="#d40000"/><stop offset="0.0323" stop-color="#de1800"/><stop offset="0.0392" stop-color="#e83000"/><stop offset="0.0600" stop-color="#f47000"/><stop offset="0.1762" stop-color="#ffb400"/><stop offset="0.2344" stop-color="#ffd400"/><stop offset="0.2541" stop-color="#ffe400"/><stop offset="0.3332" stop-color="#d0e000"/><stop offset="0.4122" stop-color="#88d000"/><stop offset="0.4320" stop-color="#76cc08"/><stop offset="0.4715" stop-color="#40c020"/><stop offset="0.5242" stop-color="#20b890"/><stop offset="0.5637" stop-color="#10a8e0"/><stop offset="0.6212" stop-color="#1098e8"/><stop offset="0.6978" stop-color="#0868dc"/><stop offset="0.7553" stop-color="#0810c0"/><stop offset="0.7771" stop-color="#3810c8"/><stop offset="0.7988" stop-color="#6212b8"/><stop offset="0.8477" stop-color="#5e0c88"/><stop offset="0.8640" stop-color="#5c0b75"/><stop offset="0.9509" stop-color="#5a0a62"/><stop offset="1.0000" stop-color="#5a0a62"/></linearGradient><linearGradient id="hr23" gradientUnits="userSpaceOnUse" x1="401.2" y1="0" x2="631.3" y2="0"><stop offset="0.0000" stop-color="#d20000"/><stop offset="0.0210" stop-color="#d40000"/><stop offset="0.0399" stop-color="#de1800"/><stop offset="0.0471" stop-color="#e83000"/><stop offset="0.0687" stop-color="#f47000"/><stop offset="0.1813" stop-color="#ffb400"/><stop offset="0.2376" stop-color="#ffd400"/><stop offset="0.2571" stop-color="#ffe400"/><stop offset="0.3351" stop-color="#d0e000"/><stop offset="0.4132" stop-color="#88d000"/><stop offset="0.4327" stop-color="#76cc08"/><stop offset="0.4720" stop-color="#40c020"/><stop offset="0.5245" stop-color="#20b890"/><stop offset="0.5638" stop-color="#10a8e0"/><stop offset="0.6213" stop-color="#1098e8"/><stop offset="0.6979" stop-color="#0868dc"/><stop offset="0.7553" stop-color="#0810c0"/><stop offset="0.7771" stop-color="#3810c8"/><stop offset="0.7988" stop-color="#6212b8"/><stop offset="0.8477" stop-color="#5e0c88"/><stop offset="0.8640" stop-color="#5c0b75"/><stop offset="0.9509" stop-color="#5a0a62"/><stop offset="1.0000" stop-color="#5a0a62"/></linearGradient><linearGradient id="hr24" gradientUnits="userSpaceOnUse" x1="401.2" y1="0" x2="631.3" y2="0"><stop offset="0.0000" stop-color="#d10000"/><stop offset="0.0294" stop-color="#d40000"/><stop offset="0.0475" stop-color="#de1800"/><stop offset="0.0549" stop-color="#e83000"/><stop offset="0.0774" stop-color="#f47000"/><stop offset="0.1864" stop-color="#ffb400"/><stop offset="0.2409" stop-color="#ffd400"/><stop offset="0.2601" stop-color="#ffe400"/><stop offset="0.3371" stop-color="#d0e000"/><stop offset="0.4141" stop-color="#88d000"/><stop offset="0.4334" stop-color="#76cc08"/><stop offset="0.4726" stop-color="#40c020"/><stop offset="0.5248" stop-color="#20b890"/><stop offset="0.5640" stop-color="#10a8e0"/><stop offset="0.6214" stop-color="#1098e8"/><stop offset="0.6979" stop-color="#0868dc"/><stop offset="0.7553" stop-color="#0810c0"/><stop offset="0.7771" stop-color="#3810c8"/><stop offset="0.7988" stop-color="#6212b8"/><stop offset="0.8477" stop-color="#5e0c88"/><stop offset="0.8640" stop-color="#5c0b75"/><stop offset="0.9509" stop-color="#5a0a62"/><stop offset="1.0000" stop-color="#5a0a62"/></linearGradient><linearGradient id="hr25" gradientUnits="userSpaceOnUse" x1="401.2" y1="0" x2="631.3" y2="0"><stop offset="0.0000" stop-color="#d00000"/><stop offset="0.0369" stop-color="#d40000"/><stop offset="0.0539" stop-color="#de1800"/><stop offset="0.0615" stop-color="#e83000"/><stop offset="0.0843" stop-color="#f47000"/><stop offset="0.1907" stop-color="#ffb400"/><stop offset="0.2438" stop-color="#ffd400"/><stop offset="0.2629" stop-color="#ffe400"/><stop offset="0.3391" stop-color="#d0e000"/><stop offset="0.4153" stop-color="#88d000"/><stop offset="0.4343" stop-color="#76cc08"/><stop offset="0.4732" stop-color="#40c020"/><stop offset="0.5251" stop-color="#20b890"/><stop offset="0.5640" stop-color="#10a8e0"/><stop offset="0.6214" stop-color="#1098e8"/><stop offset="0.6979" stop-color="#0868dc"/><stop offset="0.7553" stop-color="#0810c0"/><stop offset="0.7771" stop-color="#3810c8"/><stop offset="0.7988" stop-color="#6212b8"/><stop offset="0.8477" stop-color="#5e0c88"/><stop offset="0.8640" stop-color="#5c0b75"/><stop offset="0.9509" stop-color="#5a0a62"/><stop offset="1.0000" stop-color="#5a0a62"/></linearGradient><linearGradient id="hr26" gradientUnits="userSpaceOnUse" x1="401.2" y1="0" x2="631.3" y2="0"><stop offset="0.0000" stop-color="#cf0000"/><stop offset="0.0434" stop-color="#d40000"/><stop offset="0.0592" stop-color="#de1800"/><stop offset="0.0668" stop-color="#e83000"/><stop offset="0.0896" stop-color="#f47000"/><stop offset="0.1942" stop-color="#ffb400"/><stop offset="0.2465" stop-color="#ffd400"/><stop offset="0.2654" stop-color="#ffe400"/><stop offset="0.3410" stop-color="#d0e000"/><stop offset="0.4167" stop-color="#88d000"/><stop offset="0.4356" stop-color="#76cc08"/><stop offset="0.4740" stop-color="#40c020"/><stop offset="0.5253" stop-color="#20b890"/><stop offset="0.5637" stop-color="#10a8e0"/><stop offset="0.6212" stop-color="#1098e8"/><stop offset="0.6978" stop-color="#0868dc"/><stop offset="0.7553" stop-color="#0810c0"/><stop offset="0.7771" stop-color="#3810c8"/><stop offset="0.7988" stop-color="#6212b8"/><stop offset="0.8477" stop-color="#5e0c88"/><stop offset="0.8640" stop-color="#5c0b75"/><stop offset="0.9509" stop-color="#5a0a62"/><stop offset="1.0000" stop-color="#5a0a62"/></linearGradient><linearGradient id="hr27" gradientUnits="userSpaceOnUse" x1="401.2" y1="0" x2="631.3" y2="0"><stop offset="0.0000" stop-color="#cd0000"/><stop offset="0.0499" stop-color="#d40000"/><stop offset="0.0645" stop-color="#de1800"/><stop offset="0.0721" stop-color="#e83000"/><stop offset="0.0949" stop-color="#f47000"/><stop offset="0.1977" stop-color="#ffb400"/><stop offset="0.2491" stop-color="#ffd400"/><stop offset="0.2679" stop-color="#ffe400"/><stop offset="0.3430" stop-color="#d0e000"/><stop offset="0.4181" stop-color="#88d000"/><stop offset="0.4368" stop-color="#76cc08"/><stop offset="0.4748" stop-color="#40c020"/><stop offset="0.5255" stop-color="#20b890"/><stop offset="0.5635" stop-color="#10a8e0"/><stop offset="0.6210" stop-color="#1098e8"/><stop offset="0.6978" stop-color="#0868dc"/><stop offset="0.7553" stop-color="#0810c0"/><stop offset="0.7771" stop-color="#3810c8"/><stop offset="0.7988" stop-color="#6212b8"/><stop offset="0.8477" stop-color="#5e0c88"/><stop offset="0.8640" stop-color="#5c0b75"/><stop offset="0.9509" stop-color="#5a0a62"/><stop offset="1.0000" stop-color="#5a0a62"/></linearGradient><linearGradient id="hr28" gradientUnits="userSpaceOnUse" x1="401.2" y1="0" x2="631.3" y2="0"><stop offset="0.0000" stop-color="#cc0000"/><stop offset="0.0564" stop-color="#d40000"/><stop offset="0.0698" stop-color="#de1800"/><stop offset="0.0774" stop-color="#e83000"/><stop offset="0.1002" stop-color="#f47000"/><stop offset="0.2012" stop-color="#ffb400"/><stop offset="0.2518" stop-color="#ffd400"/><stop offset="0.2704" stop-color="#ffe400"/><stop offset="0.3449" stop-color="#d0e000"/><stop offset="0.4194" stop-color="#88d000"/><stop offset="0.4381" stop-color="#76cc08"/><stop offset="0.4756" stop-color="#40c020"/><stop offset="0.5257" stop-color="#20b890"/><stop offset="0.5632" stop-color="#10a8e0"/><stop offset="0.6209" stop-color="#1098e8"/><stop offset="0.6977" stop-color="#0868dc"/><stop offset="0.7553" stop-color="#0810c0"/><stop offset="0.7771" stop-color="#3810c8"/><stop offset="0.7988" stop-color="#6212b8"/><stop offset="0.8477" stop-color="#5e0c88"/><stop offset="0.8640" stop-color="#5c0b75"/><stop offset="0.9509" stop-color="#5a0a62"/><stop offset="1.0000" stop-color="#5a0a62"/></linearGradient><linearGradient id="hr29" gradientUnits="userSpaceOnUse" x1="401.2" y1="0" x2="631.3" y2="0"><stop offset="0.0000" stop-color="#ca0000"/><stop offset="0.0016" stop-color="#ca0000"/><stop offset="0.0628" stop-color="#d40000"/><stop offset="0.0751" stop-color="#de1800"/><stop offset="0.0827" stop-color="#e83000"/><stop offset="0.1055" stop-color="#f47000"/><stop offset="0.2048" stop-color="#ffb400"/><stop offset="0.2544" stop-color="#ffd400"/><stop offset="0.2729" stop-color="#ffe400"/><stop offset="0.3469" stop-color="#d0e000"/><stop offset="0.4208" stop-color="#88d000"/><stop offset="0.4393" stop-color="#76cc08"/><stop offset="0.4764" stop-color="#40c020"/><stop offset="0.5259" stop-color="#20b890"/><stop offset="0.5630" stop-color="#10a8e0"/><stop offset="0.6207" stop-color="#1098e8"/><stop offset="0.6976" stop-color="#0868dc"/><stop offset="0.7553" stop-color="#0810c0"/><stop offset="0.7771" stop-color="#3810c8"/><stop offset="0.7988" stop-color="#6212b8"/><stop offset="0.8477" stop-color="#5e0c88"/><stop offset="0.8640" stop-color="#5c0b75"/><stop offset="0.9509" stop-color="#5a0a62"/><stop offset="1.0000" stop-color="#5a0a62"/></linearGradient><linearGradient id="hr30" gradientUnits="userSpaceOnUse" x1="401.2" y1="0" x2="631.3" y2="0"><stop offset="0.0000" stop-color="#c90000"/><stop offset="0.0100" stop-color="#ca0000"/><stop offset="0.0687" stop-color="#d40000"/><stop offset="0.0804" stop-color="#de1800"/><stop offset="0.0880" stop-color="#e83000"/><stop offset="0.1108" stop-color="#f47000"/><stop offset="0.2083" stop-color="#ffb400"/><stop offset="0.2571" stop-color="#ffd400"/><stop offset="0.2754" stop-color="#ffe400"/><stop offset="0.3488" stop-color="#d0e000"/><stop offset="0.4222" stop-color="#88d000"/><stop offset="0.4406" stop-color="#76cc08"/><stop offset="0.4772" stop-color="#40c020"/><stop offset="0.5261" stop-color="#20b890"/><stop offset="0.5627" stop-color="#10a8e0"/><stop offset="0.6205" stop-color="#1098e8"/><stop offset="0.6975" stop-color="#0868dc"/><stop offset="0.7553" stop-color="#0810c0"/><stop offset="0.7771" stop-color="#3810c8"/><stop offset="0.7988" stop-color="#6212b8"/><stop offset="0.8477" stop-color="#5e0c88"/><stop offset="0.8640" stop-color="#5c0b75"/><stop offset="0.9509" stop-color="#5a0a62"/><stop offset="1.0000" stop-color="#5a0a62"/></linearGradient><linearGradient id="hr31" gradientUnits="userSpaceOnUse" x1="401.2" y1="0" x2="631.3" y2="0"><stop offset="0.0000" stop-color="#c90000"/><stop offset="0.0143" stop-color="#ca0000"/><stop offset="0.0738" stop-color="#d40000"/><stop offset="0.0857" stop-color="#de1800"/><stop offset="0.0933" stop-color="#e83000"/><stop offset="0.1161" stop-color="#f47000"/><stop offset="0.2118" stop-color="#ffb400"/><stop offset="0.2597" stop-color="#ffd400"/><stop offset="0.2779" stop-color="#ffe400"/><stop offset="0.3507" stop-color="#d0e000"/><stop offset="0.4236" stop-color="#88d000"/><stop offset="0.4418" stop-color="#76cc08"/><stop offset="0.4780" stop-color="#40c020"/><stop offset="0.5263" stop-color="#20b890"/><stop offset="0.5625" stop-color="#10a8e0"/><stop offset="0.6203" stop-color="#1098e8"/><stop offset="0.6975" stop-color="#0868dc"/><stop offset="0.7553" stop-color="#0810c0"/><stop offset="0.7771" stop-color="#3810c8"/><stop offset="0.7988" stop-color="#6212b8"/><stop offset="0.8477" stop-color="#5e0c88"/><stop offset="0.8640" stop-color="#5c0b75"/><stop offset="0.9509" stop-color="#5a0a62"/><stop offset="1.0000" stop-color="#5a0a62"/></linearGradient><linearGradient id="hr32" gradientUnits="userSpaceOnUse" x1="401.2" y1="0" x2="631.3" y2="0"><stop offset="0.0000" stop-color="#c90000"/><stop offset="0.0187" stop-color="#ca0000"/><stop offset="0.0789" stop-color="#d40000"/><stop offset="0.0910" stop-color="#de1800"/><stop offset="0.0986" stop-color="#e83000"/><stop offset="0.1214" stop-color="#f47000"/><stop offset="0.2154" stop-color="#ffb400"/><stop offset="0.2623" stop-color="#ffd400"/><stop offset="0.2804" stop-color="#ffe400"/><stop offset="0.3527" stop-color="#d0e000"/><stop offset="0.4250" stop-color="#88d000"/><stop offset="0.4430" stop-color="#76cc08"/><stop offset="0.4788" stop-color="#40c020"/><stop offset="0.5265" stop-color="#20b890"/><stop offset="0.5622" stop-color="#10a8e0"/><stop offset="0.6202" stop-color="#1098e8"/><stop offset="0.6974" stop-color="#0868dc"/><stop offset="0.7553" stop-color="#0810c0"/><stop offset="0.7771" stop-color="#3810c8"/><stop offset="0.7988" stop-color="#6212b8"/><stop offset="0.8477" stop-color="#5e0c88"/><stop offset="0.8640" stop-color="#5c0b75"/><stop offset="0.9509" stop-color="#5a0a62"/><stop offset="1.0000" stop-color="#5a0a62"/></linearGradient><linearGradient id="hr33" gradientUnits="userSpaceOnUse" x1="401.2" y1="0" x2="631.3" y2="0"><stop offset="0.0000" stop-color="#c90000"/><stop offset="0.0230" stop-color="#ca0000"/><stop offset="0.0840" stop-color="#d40000"/><stop offset="0.0963" stop-color="#de1800"/><stop offset="0.1039" stop-color="#e83000"/><stop offset="0.1267" stop-color="#f47000"/><stop offset="0.2189" stop-color="#ffb400"/><stop offset="0.2650" stop-color="#ffd400"/><stop offset="0.2829" stop-color="#ffe400"/><stop offset="0.3546" stop-color="#d0e000"/><stop offset="0.4263" stop-color="#88d000"/><stop offset="0.4443" stop-color="#76cc08"/><stop offset="0.4796" stop-color="#40c020"/><stop offset="0.5267" stop-color="#20b890"/><stop offset="0.5620" stop-color="#10a8e0"/><stop offset="0.6200" stop-color="#1098e8"/><stop offset="0.6973" stop-color="#0868dc"/><stop offset="0.7553" stop-color="#0810c0"/><stop offset="0.7771" stop-color="#3810c8"/><stop offset="0.7988" stop-color="#6212b8"/><stop offset="0.8477" stop-color="#5e0c88"/><stop offset="0.8640" stop-color="#5c0b75"/><stop offset="0.9509" stop-color="#5a0a62"/><stop offset="1.0000" stop-color="#5a0a62"/></linearGradient><linearGradient id="hr34" gradientUnits="userSpaceOnUse" x1="401.2" y1="0" x2="631.3" y2="0"><stop offset="0.0000" stop-color="#c80000"/><stop offset="0.0274" stop-color="#ca0000"/><stop offset="0.0892" stop-color="#d40000"/><stop offset="0.1015" stop-color="#de1800"/><stop offset="0.1091" stop-color="#e83000"/><stop offset="0.1320" stop-color="#f47000"/><stop offset="0.2224" stop-color="#ffb400"/><stop offset="0.2676" stop-color="#ffd400"/><stop offset="0.2854" stop-color="#ffe400"/><stop offset="0.3566" stop-color="#d0e000"/><stop offset="0.4277" stop-color="#88d000"/><stop offset="0.4455" stop-color="#76cc08"/><stop offset="0.4804" stop-color="#40c020"/><stop offset="0.5269" stop-color="#20b890"/><stop offset="0.5617" stop-color="#10a8e0"/><stop offset="0.6198" stop-color="#1098e8"/><stop offset="0.6972" stop-color="#0868dc"/><stop offset="0.7553" stop-color="#0810c0"/><stop offset="0.7771" stop-color="#3810c8"/><stop offset="0.7988" stop-color="#6212b8"/><stop offset="0.8477" stop-color="#5e0c88"/><stop offset="0.8640" stop-color="#5c0b75"/><stop offset="0.9509" stop-color="#5a0a62"/><stop offset="1.0000" stop-color="#5a0a62"/></linearGradient><linearGradient id="hr35" gradientUnits="userSpaceOnUse" x1="401.2" y1="0" x2="631.3" y2="0"><stop offset="0.0000" stop-color="#c80000"/><stop offset="0.0317" stop-color="#ca0000"/><stop offset="0.0943" stop-color="#d40000"/><stop offset="0.1068" stop-color="#de1800"/><stop offset="0.1144" stop-color="#e83000"/><stop offset="0.1373" stop-color="#f47000"/><stop offset="0.2259" stop-color="#ffb400"/><stop offset="0.2703" stop-color="#ffd400"/><stop offset="0.2879" stop-color="#ffe400"/><stop offset="0.3585" stop-color="#d0e000"/><stop offset="0.4291" stop-color="#88d000"/><stop offset="0.4468" stop-color="#76cc08"/><stop offset="0.4812" stop-color="#40c020"/><stop offset="0.5271" stop-color="#20b890"/><stop offset="0.5615" stop-color="#10a8e0"/><stop offset="0.6196" stop-color="#1098e8"/><stop offset="0.6972" stop-color="#0868dc"/><stop offset="0.7553" stop-color="#0810c0"/><stop offset="0.7771" stop-color="#3810c8"/><stop offset="0.7988" stop-color="#6212b8"/><stop offset="0.8477" stop-color="#5e0c88"/><stop offset="0.8640" stop-color="#5c0b75"/><stop offset="0.9509" stop-color="#5a0a62"/><stop offset="1.0000" stop-color="#5a0a62"/></linearGradient><linearGradient id="hr36" gradientUnits="userSpaceOnUse" x1="401.2" y1="0" x2="631.3" y2="0"><stop offset="0.0000" stop-color="#c80000"/><stop offset="0.0361" stop-color="#ca0000"/><stop offset="0.0994" stop-color="#d40000"/><stop offset="0.1121" stop-color="#de1800"/><stop offset="0.1197" stop-color="#e83000"/><stop offset="0.1425" stop-color="#f47000"/><stop offset="0.2295" stop-color="#ffb400"/><stop offset="0.2729" stop-color="#ffd400"/><stop offset="0.2904" stop-color="#ffe400"/><stop offset="0.3605" stop-color="#d0e000"/><stop offset="0.4305" stop-color="#88d000"/><stop offset="0.4480" stop-color="#76cc08"/><stop offset="0.4820" stop-color="#40c020"/><stop offset="0.5273" stop-color="#20b890"/><stop offset="0.5612" stop-color="#10a8e0"/><stop offset="0.6195" stop-color="#1098e8"/><stop offset="0.6971" stop-color="#0868dc"/><stop offset="0.7553" stop-color="#0810c0"/><stop offset="0.7771" stop-color="#3810c8"/><stop offset="0.7988" stop-color="#6212b8"/><stop offset="0.8477" stop-color="#5e0c88"/><stop offset="0.8640" stop-color="#5c0b75"/><stop offset="0.9509" stop-color="#5a0a62"/><stop offset="1.0000" stop-color="#5a0a62"/></linearGradient><linearGradient id="hr37" gradientUnits="userSpaceOnUse" x1="401.2" y1="0" x2="631.3" y2="0"><stop offset="0.0000" stop-color="#c80000"/><stop offset="0.0404" stop-color="#ca0000"/><stop offset="0.1047" stop-color="#d40000"/><stop offset="0.1176" stop-color="#de1800"/><stop offset="0.1251" stop-color="#e83000"/><stop offset="0.1476" stop-color="#f47000"/><stop offset="0.2331" stop-color="#ffb400"/><stop offset="0.2758" stop-color="#ffd400"/><stop offset="0.2932" stop-color="#ffe400"/><stop offset="0.3625" stop-color="#d0e000"/><stop offset="0.4319" stop-color="#88d000"/><stop offset="0.4492" stop-color="#76cc08"/><stop offset="0.4828" stop-color="#40c020"/><stop offset="0.5275" stop-color="#20b890"/><stop offset="0.5610" stop-color="#10a8e0"/><stop offset="0.6184" stop-color="#1098e8"/><stop offset="0.6950" stop-color="#0868dc"/><stop offset="0.7524" stop-color="#0810c0"/><stop offset="0.7738" stop-color="#3810c8"/><stop offset="0.7952" stop-color="#6212b8"/><stop offset="0.8468" stop-color="#5e0c88"/><stop offset="0.8640" stop-color="#5c0b75"/><stop offset="0.9509" stop-color="#5a0a62"/><stop offset="1.0000" stop-color="#5a0a62"/></linearGradient><linearGradient id="hr38" gradientUnits="userSpaceOnUse" x1="401.2" y1="0" x2="631.3" y2="0"><stop offset="0.0000" stop-color="#c70000"/><stop offset="0.0448" stop-color="#ca0000"/><stop offset="0.1100" stop-color="#d40000"/><stop offset="0.1230" stop-color="#de1800"/><stop offset="0.1304" stop-color="#e83000"/><stop offset="0.1527" stop-color="#f47000"/><stop offset="0.2367" stop-color="#ffb400"/><stop offset="0.2787" stop-color="#ffd400"/><stop offset="0.2959" stop-color="#ffe400"/><stop offset="0.3646" stop-color="#d0e000"/><stop offset="0.4333" stop-color="#88d000"/><stop offset="0.4505" stop-color="#76cc08"/><stop offset="0.4836" stop-color="#40c020"/><stop offset="0.5277" stop-color="#20b890"/><stop offset="0.5607" stop-color="#10a8e0"/><stop offset="0.6174" stop-color="#1098e8"/><stop offset="0.6929" stop-color="#0868dc"/><stop offset="0.7495" stop-color="#0810c0"/><stop offset="0.7705" stop-color="#3810c8"/><stop offset="0.7915" stop-color="#6212b8"/><stop offset="0.8459" stop-color="#5e0c88"/><stop offset="0.8640" stop-color="#5c0b75"/><stop offset="0.9509" stop-color="#5a0a62"/><stop offset="1.0000" stop-color="#5a0a62"/></linearGradient><linearGradient id="hr39" gradientUnits="userSpaceOnUse" x1="401.2" y1="0" x2="631.3" y2="0"><stop offset="0.0000" stop-color="#c70000"/><stop offset="0.0491" stop-color="#ca0000"/><stop offset="0.1152" stop-color="#d40000"/><stop offset="0.1284" stop-color="#de1800"/><stop offset="0.1358" stop-color="#e83000"/><stop offset="0.1578" stop-color="#f47000"/><stop offset="0.2403" stop-color="#ffb400"/><stop offset="0.2816" stop-color="#ffd400"/><stop offset="0.2986" stop-color="#ffe400"/><stop offset="0.3667" stop-color="#d0e000"/><stop offset="0.4347" stop-color="#88d000"/><stop offset="0.4517" stop-color="#76cc08"/><stop offset="0.4844" stop-color="#40c020"/><stop offset="0.5279" stop-color="#20b890"/><stop offset="0.5605" stop-color="#10a8e0"/><stop offset="0.6163" stop-color="#1098e8"/><stop offset="0.6908" stop-color="#0868dc"/><stop offset="0.7466" stop-color="#0810c0"/><stop offset="0.7673" stop-color="#3810c8"/><stop offset="0.7879" stop-color="#6212b8"/><stop offset="0.8450" stop-color="#5e0c88"/><stop offset="0.8640" stop-color="#5c0b75"/><stop offset="0.9509" stop-color="#5a0a62"/><stop offset="1.0000" stop-color="#5a0a62"/></linearGradient><linearGradient id="hr40" gradientUnits="userSpaceOnUse" x1="401.2" y1="0" x2="631.3" y2="0"><stop offset="0.0000" stop-color="#c70000"/><stop offset="0.0535" stop-color="#ca0000"/><stop offset="0.1205" stop-color="#d40000"/><stop offset="0.1339" stop-color="#de1800"/><stop offset="0.1411" stop-color="#e83000"/><stop offset="0.1628" stop-color="#f47000"/><stop offset="0.2440" stop-color="#ffb400"/><stop offset="0.2845" stop-color="#ffd400"/><stop offset="0.3014" stop-color="#ffe400"/><stop offset="0.3687" stop-color="#d0e000"/><stop offset="0.4361" stop-color="#88d000"/><stop offset="0.4530" stop-color="#76cc08"/><stop offset="0.4852" stop-color="#40c020"/><stop offset="0.5281" stop-color="#20b890"/><stop offset="0.5603" stop-color="#10a8e0"/><stop offset="0.6153" stop-color="#1098e8"/><stop offset="0.6887" stop-color="#0868dc"/><stop offset="0.7437" stop-color="#0810c0"/><stop offset="0.7640" stop-color="#3810c8"/><stop offset="0.7843" stop-color="#6212b8"/><stop offset="0.8441" stop-color="#5e0c88"/><stop offset="0.8640" stop-color="#5c0b75"/><stop offset="0.9509" stop-color="#5a0a62"/><stop offset="1.0000" stop-color="#5a0a62"/></linearGradient><linearGradient id="hr41" gradientUnits="userSpaceOnUse" x1="401.2" y1="0" x2="631.3" y2="0"><stop offset="0.0000" stop-color="#c60000"/><stop offset="0.0578" stop-color="#ca0000"/><stop offset="0.1257" stop-color="#d40000"/><stop offset="0.1393" stop-color="#de1800"/><stop offset="0.1464" stop-color="#e83000"/><stop offset="0.1679" stop-color="#f47000"/><stop offset="0.2476" stop-color="#ffb400"/><stop offset="0.2874" stop-color="#ffd400"/><stop offset="0.3041" stop-color="#ffe400"/><stop offset="0.3708" stop-color="#d0e000"/><stop offset="0.4375" stop-color="#88d000"/><stop offset="0.4542" stop-color="#76cc08"/><stop offset="0.4860" stop-color="#40c020"/><stop offset="0.5283" stop-color="#20b890"/><stop offset="0.5600" stop-color="#10a8e0"/><stop offset="0.6143" stop-color="#1098e8"/><stop offset="0.6866" stop-color="#0868dc"/><stop offset="0.7408" stop-color="#0810c0"/><stop offset="0.7608" stop-color="#3810c8"/><stop offset="0.7807" stop-color="#6212b8"/><stop offset="0.8431" stop-color="#5e0c88"/><stop offset="0.8640" stop-color="#5c0b75"/><stop offset="0.9509" stop-color="#5a0a62"/><stop offset="1.0000" stop-color="#5a0a62"/></linearGradient><linearGradient id="hr42" gradientUnits="userSpaceOnUse" x1="401.2" y1="0" x2="631.3" y2="0"><stop offset="0.0000" stop-color="#c60000"/><stop offset="0.0621" stop-color="#ca0000"/><stop offset="0.1310" stop-color="#d40000"/><stop offset="0.1447" stop-color="#de1800"/><stop offset="0.1518" stop-color="#e83000"/><stop offset="0.1730" stop-color="#f47000"/><stop offset="0.2512" stop-color="#ffb400"/><stop offset="0.2903" stop-color="#ffd400"/><stop offset="0.3068" stop-color="#ffe400"/><stop offset="0.3729" stop-color="#d0e000"/><stop offset="0.4389" stop-color="#88d000"/><stop offset="0.4555" stop-color="#76cc08"/><stop offset="0.4867" stop-color="#40c020"/><stop offset="0.5285" stop-color="#20b890"/><stop offset="0.5598" stop-color="#10a8e0"/><stop offset="0.6132" stop-color="#1098e8"/><stop offset="0.6845" stop-color="#0868dc"/><stop offset="0.7379" stop-color="#0810c0"/><stop offset="0.7575" stop-color="#3810c8"/><stop offset="0.7771" stop-color="#6212b8"/><stop offset="0.8422" stop-color="#5e0c88"/><stop offset="0.8640" stop-color="#5c0b75"/><stop offset="0.9509" stop-color="#5a0a62"/><stop offset="1.0000" stop-color="#5a0a62"/></linearGradient><linearGradient id="hr43" gradientUnits="userSpaceOnUse" x1="401.2" y1="0" x2="631.3" y2="0"><stop offset="0.0000" stop-color="#c50000"/><stop offset="0.0665" stop-color="#ca0000"/><stop offset="0.1362" stop-color="#d40000"/><stop offset="0.1502" stop-color="#de1800"/><stop offset="0.1571" stop-color="#e83000"/><stop offset="0.1780" stop-color="#f47000"/><stop offset="0.2563" stop-color="#ffb400"/><stop offset="0.2954" stop-color="#ffd400"/><stop offset="0.3116" stop-color="#ffe400"/><stop offset="0.3763" stop-color="#d0e000"/><stop offset="0.4411" stop-color="#88d000"/><stop offset="0.4573" stop-color="#76cc08"/><stop offset="0.4874" stop-color="#40c020"/><stop offset="0.5275" stop-color="#20b890"/><stop offset="0.5576" stop-color="#10a8e0"/><stop offset="0.6091" stop-color="#1098e8"/><stop offset="0.6778" stop-color="#0868dc"/><stop offset="0.7292" stop-color="#0810c0"/><stop offset="0.7495" stop-color="#3810c8"/><stop offset="0.7698" stop-color="#6212b8"/><stop offset="0.8404" stop-color="#5e0c88"/><stop offset="0.8640" stop-color="#5c0b75"/><stop offset="0.9509" stop-color="#5a0a62"/><stop offset="1.0000" stop-color="#5a0a62"/></linearGradient><linearGradient id="hr44" gradientUnits="userSpaceOnUse" x1="401.2" y1="0" x2="631.3" y2="0"><stop offset="0.0000" stop-color="#c40000"/><stop offset="0.0708" stop-color="#ca0000"/><stop offset="0.1415" stop-color="#d40000"/><stop offset="0.1556" stop-color="#de1800"/><stop offset="0.1625" stop-color="#e83000"/><stop offset="0.1831" stop-color="#f47000"/><stop offset="0.2613" stop-color="#ffb400"/><stop offset="0.3004" stop-color="#ffd400"/><stop offset="0.3163" stop-color="#ffe400"/><stop offset="0.3798" stop-color="#d0e000"/><stop offset="0.4433" stop-color="#88d000"/><stop offset="0.4591" stop-color="#76cc08"/><stop offset="0.4881" stop-color="#40c020"/><stop offset="0.5266" stop-color="#20b890"/><stop offset="0.5555" stop-color="#10a8e0"/><stop offset="0.6050" stop-color="#1098e8"/><stop offset="0.6711" stop-color="#0868dc"/><stop offset="0.7206" stop-color="#0810c0"/><stop offset="0.7416" stop-color="#3810c8"/><stop offset="0.7626" stop-color="#6212b8"/><stop offset="0.8386" stop-color="#5e0c88"/><stop offset="0.8640" stop-color="#5c0b75"/><stop offset="0.9509" stop-color="#5a0a62"/><stop offset="1.0000" stop-color="#5a0a62"/></linearGradient><linearGradient id="hr45" gradientUnits="userSpaceOnUse" x1="401.2" y1="0" x2="631.3" y2="0"><stop offset="0.0000" stop-color="#c30000"/><stop offset="0.0743" stop-color="#ca0000"/><stop offset="0.1466" stop-color="#d40000"/><stop offset="0.1610" stop-color="#de1800"/><stop offset="0.1678" stop-color="#e83000"/><stop offset="0.1882" stop-color="#f47000"/><stop offset="0.2664" stop-color="#ffb400"/><stop offset="0.3055" stop-color="#ffd400"/><stop offset="0.3211" stop-color="#ffe400"/><stop offset="0.3833" stop-color="#d0e000"/><stop offset="0.4454" stop-color="#88d000"/><stop offset="0.4610" stop-color="#76cc08"/><stop offset="0.4887" stop-color="#40c020"/><stop offset="0.5257" stop-color="#20b890"/><stop offset="0.5534" stop-color="#10a8e0"/><stop offset="0.6010" stop-color="#1098e8"/><stop offset="0.6643" stop-color="#0868dc"/><stop offset="0.7119" stop-color="#0810c0"/><stop offset="0.7336" stop-color="#3810c8"/><stop offset="0.7553" stop-color="#6212b8"/><stop offset="0.8365" stop-color="#5e0c88"/><stop offset="0.8635" stop-color="#5c0b75"/><stop offset="0.9505" stop-color="#5a0a62"/><stop offset="1.0000" stop-color="#5a0a62"/></linearGradient><linearGradient id="hr46" gradientUnits="userSpaceOnUse" x1="401.2" y1="0" x2="631.3" y2="0"><stop offset="0.0000" stop-color="#c20000"/><stop offset="0.0769" stop-color="#ca0000"/><stop offset="0.1515" stop-color="#d40000"/><stop offset="0.1664" stop-color="#de1800"/><stop offset="0.1731" stop-color="#e83000"/><stop offset="0.1932" stop-color="#f47000"/><stop offset="0.2715" stop-color="#ffb400"/><stop offset="0.3106" stop-color="#ffd400"/><stop offset="0.3258" stop-color="#ffe400"/><stop offset="0.3867" stop-color="#d0e000"/><stop offset="0.4476" stop-color="#88d000"/><stop offset="0.4628" stop-color="#76cc08"/><stop offset="0.4894" stop-color="#40c020"/><stop offset="0.5248" stop-color="#20b890"/><stop offset="0.5513" stop-color="#10a8e0"/><stop offset="0.5969" stop-color="#1098e8"/><stop offset="0.6576" stop-color="#0868dc"/><stop offset="0.7032" stop-color="#0810c0"/><stop offset="0.7256" stop-color="#3810c8"/><stop offset="0.7481" stop-color="#6212b8"/><stop offset="0.8340" stop-color="#5e0c88"/><stop offset="0.8627" stop-color="#5c0b75"/><stop offset="0.9496" stop-color="#5a0a62"/><stop offset="1.0000" stop-color="#5a0a62"/></linearGradient><linearGradient id="hr47" gradientUnits="userSpaceOnUse" x1="401.2" y1="0" x2="631.3" y2="0"><stop offset="0.0000" stop-color="#c00000"/><stop offset="0.0795" stop-color="#ca0000"/><stop offset="0.1565" stop-color="#d40000"/><stop offset="0.1719" stop-color="#de1800"/><stop offset="0.1785" stop-color="#e83000"/><stop offset="0.1983" stop-color="#f47000"/><stop offset="0.2765" stop-color="#ffb400"/><stop offset="0.3157" stop-color="#ffd400"/><stop offset="0.3306" stop-color="#ffe400"/><stop offset="0.3902" stop-color="#d0e000"/><stop offset="0.4498" stop-color="#88d000"/><stop offset="0.4647" stop-color="#76cc08"/><stop offset="0.4900" stop-color="#40c020"/><stop offset="0.5239" stop-color="#20b890"/><stop offset="0.5492" stop-color="#10a8e0"/><stop offset="0.5928" stop-color="#1098e8"/><stop offset="0.6509" stop-color="#0868dc"/><stop offset="0.6945" stop-color="#0810c0"/><stop offset="0.7177" stop-color="#3810c8"/><stop offset="0.7408" stop-color="#6212b8"/><stop offset="0.8316" stop-color="#5e0c88"/><stop offset="0.8618" stop-color="#5c0b75"/><stop offset="0.9487" stop-color="#5a0a62"/><stop offset="1.0000" stop-color="#5a0a62"/></linearGradient><linearGradient id="hr48" gradientUnits="userSpaceOnUse" x1="401.2" y1="0" x2="631.3" y2="0"><stop offset="0.0000" stop-color="#bd0000"/><stop offset="0.0821" stop-color="#ca0000"/><stop offset="0.1615" stop-color="#d40000"/><stop offset="0.1773" stop-color="#de1800"/><stop offset="0.1838" stop-color="#e83000"/><stop offset="0.2034" stop-color="#f47000"/><stop offset="0.2816" stop-color="#ffb400"/><stop offset="0.3207" stop-color="#ffd400"/><stop offset="0.3353" stop-color="#ffe400"/><stop offset="0.3936" stop-color="#d0e000"/><stop offset="0.4519" stop-color="#88d000"/><stop offset="0.4665" stop-color="#76cc08"/><stop offset="0.4907" stop-color="#40c020"/><stop offset="0.5229" stop-color="#20b890"/><stop offset="0.5471" stop-color="#10a8e0"/><stop offset="0.5887" stop-color="#1098e8"/><stop offset="0.6442" stop-color="#0868dc"/><stop offset="0.6858" stop-color="#0810c0"/><stop offset="0.7097" stop-color="#3810c8"/><stop offset="0.7336" stop-color="#6212b8"/><stop offset="0.8291" stop-color="#5e0c88"/><stop offset="0.8609" stop-color="#5c0b75"/><stop offset="0.9478" stop-color="#5a0a62"/><stop offset="1.0000" stop-color="#5a0a62"/></linearGradient><linearGradient id="hr49" gradientUnits="userSpaceOnUse" x1="401.2" y1="0" x2="631.3" y2="0"><stop offset="0.0000" stop-color="#b90000"/><stop offset="0.0847" stop-color="#ca0000"/><stop offset="0.1646" stop-color="#d40000"/><stop offset="0.1806" stop-color="#de1800"/><stop offset="0.1871" stop-color="#e83000"/><stop offset="0.2067" stop-color="#f47000"/><stop offset="0.2852" stop-color="#ffb400"/><stop offset="0.3245" stop-color="#ffd400"/><stop offset="0.3388" stop-color="#ffe400"/><stop offset="0.3964" stop-color="#d0e000"/><stop offset="0.4540" stop-color="#88d000"/><stop offset="0.4684" stop-color="#76cc08"/><stop offset="0.4914" stop-color="#40c020"/><stop offset="0.5220" stop-color="#20b890"/><stop offset="0.5450" stop-color="#10a8e0"/><stop offset="0.5853" stop-color="#1098e8"/><stop offset="0.6390" stop-color="#0868dc"/><stop offset="0.6793" stop-color="#0810c0"/><stop offset="0.7035" stop-color="#3810c8"/><stop offset="0.7278" stop-color="#6212b8"/><stop offset="0.8270" stop-color="#5e0c88"/><stop offset="0.8601" stop-color="#5c0b75"/><stop offset="0.9470" stop-color="#5a0a62"/><stop offset="1.0000" stop-color="#5a0a62"/></linearGradient><linearGradient id="hr50" gradientUnits="userSpaceOnUse" x1="401.2" y1="0" x2="631.3" y2="0"><stop offset="0.0000" stop-color="#b80000"/><stop offset="0.0084" stop-color="#b80000"/><stop offset="0.0874" stop-color="#ca0000"/><stop offset="0.1678" stop-color="#d40000"/><stop offset="0.1839" stop-color="#de1800"/><stop offset="0.1905" stop-color="#e83000"/><stop offset="0.2100" stop-color="#f47000"/><stop offset="0.2888" stop-color="#ffb400"/><stop offset="0.3282" stop-color="#ffd400"/><stop offset="0.3424" stop-color="#ffe400"/><stop offset="0.3992" stop-color="#d0e000"/><stop offset="0.4560" stop-color="#88d000"/><stop offset="0.4702" stop-color="#76cc08"/><stop offset="0.4920" stop-color="#40c020"/><stop offset="0.5211" stop-color="#20b890"/><stop offset="0.5429" stop-color="#10a8e0"/><stop offset="0.5819" stop-color="#1098e8"/><stop offset="0.6338" stop-color="#0868dc"/><stop offset="0.6728" stop-color="#0810c0"/><stop offset="0.6974" stop-color="#3810c8"/><stop offset="0.7220" stop-color="#6212b8"/><stop offset="0.8249" stop-color="#5e0c88"/><stop offset="0.8592" stop-color="#5c0b75"/><stop offset="0.9461" stop-color="#5a0a62"/><stop offset="1.0000" stop-color="#5a0a62"/></linearGradient><linearGradient id="hr51" gradientUnits="userSpaceOnUse" x1="401.2" y1="0" x2="631.3" y2="0"><stop offset="0.0000" stop-color="#b80000"/><stop offset="0.0096" stop-color="#b80000"/><stop offset="0.0900" stop-color="#ca0000"/><stop offset="0.1710" stop-color="#d40000"/><stop offset="0.1872" stop-color="#de1800"/><stop offset="0.1938" stop-color="#e83000"/><stop offset="0.2133" stop-color="#f47000"/><stop offset="0.2924" stop-color="#ffb400"/><stop offset="0.3319" stop-color="#ffd400"/><stop offset="0.3459" stop-color="#ffe400"/><stop offset="0.4020" stop-color="#d0e000"/><stop offset="0.4580" stop-color="#88d000"/><stop offset="0.4720" stop-color="#76cc08"/><stop offset="0.4927" stop-color="#40c020"/><stop offset="0.5202" stop-color="#20b890"/><stop offset="0.5408" stop-color="#10a8e0"/><stop offset="0.5784" stop-color="#1098e8"/><stop offset="0.6286" stop-color="#0868dc"/><stop offset="0.6662" stop-color="#0810c0"/><stop offset="0.6912" stop-color="#3810c8"/><stop offset="0.7162" stop-color="#6212b8"/><stop offset="0.8228" stop-color="#5e0c88"/><stop offset="0.8583" stop-color="#5c0b75"/><stop offset="0.9452" stop-color="#5a0a62"/><stop offset="1.0000" stop-color="#5a0a62"/></linearGradient><linearGradient id="hr52" gradientUnits="userSpaceOnUse" x1="401.2" y1="0" x2="631.3" y2="0"><stop offset="0.0000" stop-color="#b80000"/><stop offset="0.0107" stop-color="#b80000"/><stop offset="0.0926" stop-color="#ca0000"/><stop offset="0.1742" stop-color="#d40000"/><stop offset="0.1906" stop-color="#de1800"/><stop offset="0.1971" stop-color="#e83000"/><stop offset="0.2166" stop-color="#f47000"/><stop offset="0.2960" stop-color="#ffb400"/><stop offset="0.3356" stop-color="#ffd400"/><stop offset="0.3495" stop-color="#ffe400"/><stop offset="0.4048" stop-color="#d0e000"/><stop offset="0.4601" stop-color="#88d000"/><stop offset="0.4739" stop-color="#76cc08"/><stop offset="0.4933" stop-color="#40c020"/><stop offset="0.5192" stop-color="#20b890"/><stop offset="0.5387" stop-color="#10a8e0"/><stop offset="0.5750" stop-color="#1098e8"/><stop offset="0.6234" stop-color="#0868dc"/><stop offset="0.6597" stop-color="#0810c0"/><stop offset="0.6851" stop-color="#3810c8"/><stop offset="0.7104" stop-color="#6212b8"/><stop offset="0.8207" stop-color="#5e0c88"/><stop offset="0.8575" stop-color="#5c0b75"/><stop offset="0.9444" stop-color="#5a0a62"/><stop offset="1.0000" stop-color="#5a0a62"/></linearGradient><linearGradient id="hr53" gradientUnits="userSpaceOnUse" x1="401.2" y1="0" x2="631.3" y2="0"><stop offset="0.0000" stop-color="#b80000"/><stop offset="0.0119" stop-color="#b80000"/><stop offset="0.0952" stop-color="#ca0000"/><stop offset="0.1774" stop-color="#d40000"/><stop offset="0.1939" stop-color="#de1800"/><stop offset="0.2004" stop-color="#e83000"/><stop offset="0.2199" stop-color="#f47000"/><stop offset="0.2996" stop-color="#ffb400"/><stop offset="0.3394" stop-color="#ffd400"/><stop offset="0.3530" stop-color="#ffe400"/><stop offset="0.4075" stop-color="#d0e000"/><stop offset="0.4621" stop-color="#88d000"/><stop offset="0.4757" stop-color="#76cc08"/><stop offset="0.4940" stop-color="#40c020"/><stop offset="0.5183" stop-color="#20b890"/><stop offset="0.5366" stop-color="#10a8e0"/><stop offset="0.5716" stop-color="#1098e8"/><stop offset="0.6182" stop-color="#0868dc"/><stop offset="0.6532" stop-color="#0810c0"/><stop offset="0.6789" stop-color="#3810c8"/><stop offset="0.7046" stop-color="#6212b8"/><stop offset="0.8186" stop-color="#5e0c88"/><stop offset="0.8566" stop-color="#5c0b75"/><stop offset="0.9435" stop-color="#5a0a62"/><stop offset="1.0000" stop-color="#5a0a62"/></linearGradient><linearGradient id="hr54" gradientUnits="userSpaceOnUse" x1="401.2" y1="0" x2="631.3" y2="0"><stop offset="0.0000" stop-color="#b80000"/><stop offset="0.0130" stop-color="#b80000"/><stop offset="0.0978" stop-color="#ca0000"/><stop offset="0.1806" stop-color="#d40000"/><stop offset="0.1972" stop-color="#de1800"/><stop offset="0.2037" stop-color="#e83000"/><stop offset="0.2233" stop-color="#f47000"/><stop offset="0.3031" stop-color="#ffb400"/><stop offset="0.3431" stop-color="#ffd400"/><stop offset="0.3565" stop-color="#ffe400"/><stop offset="0.4103" stop-color="#d0e000"/><stop offset="0.4641" stop-color="#88d000"/><stop offset="0.4776" stop-color="#76cc08"/><stop offset="0.4946" stop-color="#40c020"/><stop offset="0.5174" stop-color="#20b890"/><stop offset="0.5345" stop-color="#10a8e0"/><stop offset="0.5681" stop-color="#1098e8"/><stop offset="0.6130" stop-color="#0868dc"/><stop offset="0.6467" stop-color="#0810c0"/><stop offset="0.6728" stop-color="#3810c8"/><stop offset="0.6988" stop-color="#6212b8"/><stop offset="0.8165" stop-color="#5e0c88"/><stop offset="0.8557" stop-color="#5c0b75"/><stop offset="0.9426" stop-color="#5a0a62"/><stop offset="1.0000" stop-color="#5a0a62"/></linearGradient><linearGradient id="hr55" gradientUnits="userSpaceOnUse" x1="401.2" y1="0" x2="631.3" y2="0"><stop offset="0.0000" stop-color="#b80000"/><stop offset="0.0142" stop-color="#b80000"/><stop offset="0.0971" stop-color="#ca0000"/><stop offset="0.1833" stop-color="#d40000"/><stop offset="0.2005" stop-color="#de1800"/><stop offset="0.2070" stop-color="#e83000"/><stop offset="0.2266" stop-color="#f47000"/><stop offset="0.3067" stop-color="#ffb400"/><stop offset="0.3468" stop-color="#ffd400"/><stop offset="0.3601" stop-color="#ffe400"/><stop offset="0.4131" stop-color="#d0e000"/><stop offset="0.4662" stop-color="#88d000"/><stop offset="0.4794" stop-color="#76cc08"/><stop offset="0.4953" stop-color="#40c020"/><stop offset="0.5165" stop-color="#20b890"/><stop offset="0.5324" stop-color="#10a8e0"/><stop offset="0.5660" stop-color="#1098e8"/><stop offset="0.6108" stop-color="#0868dc"/><stop offset="0.6444" stop-color="#0810c0"/><stop offset="0.6705" stop-color="#3810c8"/><stop offset="0.6967" stop-color="#6212b8"/><stop offset="0.8153" stop-color="#5e0c88"/><stop offset="0.8548" stop-color="#5c0b75"/><stop offset="0.9418" stop-color="#5a0a62"/><stop offset="1.0000" stop-color="#5a0a62"/></linearGradient><linearGradient id="hr56" gradientUnits="userSpaceOnUse" x1="401.2" y1="0" x2="631.3" y2="0"><stop offset="0.0000" stop-color="#b80000"/><stop offset="0.0154" stop-color="#b80000"/><stop offset="0.0931" stop-color="#ca0000"/><stop offset="0.1853" stop-color="#d40000"/><stop offset="0.2038" stop-color="#de1800"/><stop offset="0.2103" stop-color="#e83000"/><stop offset="0.2299" stop-color="#f47000"/><stop offset="0.3103" stop-color="#ffb400"/><stop offset="0.3505" stop-color="#ffd400"/><stop offset="0.3636" stop-color="#ffe400"/><stop offset="0.4159" stop-color="#d0e000"/><stop offset="0.4682" stop-color="#88d000"/><stop offset="0.4813" stop-color="#76cc08"/><stop offset="0.4960" stop-color="#40c020"/><stop offset="0.5156" stop-color="#20b890"/><stop offset="0.5303" stop-color="#10a8e0"/><stop offset="0.5638" stop-color="#1098e8"/><stop offset="0.6085" stop-color="#0868dc"/><stop offset="0.6420" stop-color="#0810c0"/><stop offset="0.6683" stop-color="#3810c8"/><stop offset="0.6945" stop-color="#6212b8"/><stop offset="0.8141" stop-color="#5e0c88"/><stop offset="0.8540" stop-color="#5c0b75"/><stop offset="0.9409" stop-color="#5a0a62"/><stop offset="1.0000" stop-color="#5a0a62"/></linearGradient><linearGradient id="hr57" gradientUnits="userSpaceOnUse" x1="401.2" y1="0" x2="631.3" y2="0"><stop offset="0.0000" stop-color="#b80000"/><stop offset="0.0165" stop-color="#b80000"/><stop offset="0.0891" stop-color="#ca0000"/><stop offset="0.1874" stop-color="#d40000"/><stop offset="0.2071" stop-color="#de1800"/><stop offset="0.2136" stop-color="#e83000"/><stop offset="0.2332" stop-color="#f47000"/><stop offset="0.3139" stop-color="#ffb400"/><stop offset="0.3543" stop-color="#ffd400"/><stop offset="0.3671" stop-color="#ffe400"/><stop offset="0.4187" stop-color="#d0e000"/><stop offset="0.4702" stop-color="#88d000"/><stop offset="0.4831" stop-color="#76cc08"/><stop offset="0.4966" stop-color="#40c020"/><stop offset="0.5146" stop-color="#20b890"/><stop offset="0.5281" stop-color="#10a8e0"/><stop offset="0.5616" stop-color="#1098e8"/><stop offset="0.6063" stop-color="#0868dc"/><stop offset="0.6397" stop-color="#0810c0"/><stop offset="0.6660" stop-color="#3810c8"/><stop offset="0.6923" stop-color="#6212b8"/><stop offset="0.8129" stop-color="#5e0c88"/><stop offset="0.8531" stop-color="#5c0b75"/><stop offset="0.9400" stop-color="#5a0a62"/><stop offset="1.0000" stop-color="#5a0a62"/></linearGradient><linearGradient id="hr58" gradientUnits="userSpaceOnUse" x1="401.2" y1="0" x2="631.3" y2="0"><stop offset="0.0000" stop-color="#b80000"/><stop offset="0.0113" stop-color="#b80000"/><stop offset="0.0850" stop-color="#ca0000"/><stop offset="0.1895" stop-color="#d40000"/><stop offset="0.2104" stop-color="#de1800"/><stop offset="0.2169" stop-color="#e83000"/><stop offset="0.2365" stop-color="#f47000"/><stop offset="0.3175" stop-color="#ffb400"/><stop offset="0.3580" stop-color="#ffd400"/><stop offset="0.3707" stop-color="#ffe400"/><stop offset="0.4215" stop-color="#d0e000"/><stop offset="0.4723" stop-color="#88d000"/><stop offset="0.4850" stop-color="#76cc08"/><stop offset="0.4973" stop-color="#40c020"/><stop offset="0.5137" stop-color="#20b890"/><stop offset="0.5260" stop-color="#10a8e0"/><stop offset="0.5595" stop-color="#1098e8"/><stop offset="0.6040" stop-color="#0868dc"/><stop offset="0.6374" stop-color="#0810c0"/><stop offset="0.6638" stop-color="#3810c8"/><stop offset="0.6901" stop-color="#6212b8"/><stop offset="0.8117" stop-color="#5e0c88"/><stop offset="0.8522" stop-color="#5c0b75"/><stop offset="0.9392" stop-color="#5a0a62"/><stop offset="1.0000" stop-color="#5a0a62"/></linearGradient><linearGradient id="hr59" gradientUnits="userSpaceOnUse" x1="401.2" y1="0" x2="631.3" y2="0"><stop offset="0.0000" stop-color="#b80000"/><stop offset="0.0061" stop-color="#b80000"/><stop offset="0.0810" stop-color="#ca0000"/><stop offset="0.1882" stop-color="#d40000"/><stop offset="0.2097" stop-color="#de1800"/><stop offset="0.2163" stop-color="#e83000"/><stop offset="0.2362" stop-color="#f47000"/><stop offset="0.3171" stop-color="#ffb400"/><stop offset="0.3575" stop-color="#ffd400"/><stop offset="0.3702" stop-color="#ffe400"/><stop offset="0.4211" stop-color="#d0e000"/><stop offset="0.4721" stop-color="#88d000"/><stop offset="0.4848" stop-color="#76cc08"/><stop offset="0.4966" stop-color="#40c020"/><stop offset="0.5124" stop-color="#20b890"/><stop offset="0.5242" stop-color="#10a8e0"/><stop offset="0.5576" stop-color="#1098e8"/><stop offset="0.6022" stop-color="#0868dc"/><stop offset="0.6356" stop-color="#0810c0"/><stop offset="0.6618" stop-color="#3810c8"/><stop offset="0.6880" stop-color="#6212b8"/><stop offset="0.8105" stop-color="#5e0c88"/><stop offset="0.8514" stop-color="#5c0b75"/><stop offset="0.9383" stop-color="#5a0a62"/><stop offset="1.0000" stop-color="#5a0a62"/></linearGradient><linearGradient id="hr60" gradientUnits="userSpaceOnUse" x1="401.2" y1="0" x2="631.3" y2="0"><stop offset="0.0000" stop-color="#b80000"/><stop offset="0.0009" stop-color="#b80000"/><stop offset="0.0770" stop-color="#ca0000"/><stop offset="0.1835" stop-color="#d40000"/><stop offset="0.2048" stop-color="#de1800"/><stop offset="0.2117" stop-color="#e83000"/><stop offset="0.2324" stop-color="#f47000"/><stop offset="0.3126" stop-color="#ffb400"/><stop offset="0.3527" stop-color="#ffd400"/><stop offset="0.3657" stop-color="#ffe400"/><stop offset="0.4177" stop-color="#d0e000"/><stop offset="0.4696" stop-color="#88d000"/><stop offset="0.4826" stop-color="#76cc08"/><stop offset="0.4946" stop-color="#40c020"/><stop offset="0.5106" stop-color="#20b890"/><stop offset="0.5226" stop-color="#10a8e0"/><stop offset="0.5561" stop-color="#1098e8"/><stop offset="0.6008" stop-color="#0868dc"/><stop offset="0.6343" stop-color="#0810c0"/><stop offset="0.6601" stop-color="#3810c8"/><stop offset="0.6858" stop-color="#6212b8"/><stop offset="0.8093" stop-color="#5e0c88"/><stop offset="0.8505" stop-color="#5c0b75"/><stop offset="0.9374" stop-color="#5a0a62"/><stop offset="1.0000" stop-color="#5a0a62"/></linearGradient><linearGradient id="hr61" gradientUnits="userSpaceOnUse" x1="401.2" y1="0" x2="631.3" y2="0"><stop offset="0.0000" stop-color="#b90000"/><stop offset="0.0730" stop-color="#ca0000"/><stop offset="0.1788" stop-color="#d40000"/><stop offset="0.2000" stop-color="#de1800"/><stop offset="0.2071" stop-color="#e83000"/><stop offset="0.2285" stop-color="#f47000"/><stop offset="0.3082" stop-color="#ffb400"/><stop offset="0.3480" stop-color="#ffd400"/><stop offset="0.3612" stop-color="#ffe400"/><stop offset="0.4142" stop-color="#d0e000"/><stop offset="0.4672" stop-color="#88d000"/><stop offset="0.4804" stop-color="#76cc08"/><stop offset="0.4926" stop-color="#40c020"/><stop offset="0.5089" stop-color="#20b890"/><stop offset="0.5210" stop-color="#10a8e0"/><stop offset="0.5547" stop-color="#1098e8"/><stop offset="0.5995" stop-color="#0868dc"/><stop offset="0.6331" stop-color="#0810c0"/><stop offset="0.6584" stop-color="#3810c8"/><stop offset="0.6836" stop-color="#6212b8"/><stop offset="0.8081" stop-color="#5e0c88"/><stop offset="0.8496" stop-color="#5c0b75"/><stop offset="0.9365" stop-color="#5a0a62"/><stop offset="1.0000" stop-color="#5a0a62"/></linearGradient><linearGradient id="hr62" gradientUnits="userSpaceOnUse" x1="401.2" y1="0" x2="631.3" y2="0"><stop offset="0.0000" stop-color="#ba0000"/><stop offset="0.0612" stop-color="#ca0000"/><stop offset="0.1728" stop-color="#d40000"/><stop offset="0.1952" stop-color="#de1800"/><stop offset="0.2025" stop-color="#e83000"/><stop offset="0.2246" stop-color="#f47000"/><stop offset="0.3037" stop-color="#ffb400"/><stop offset="0.3432" stop-color="#ffd400"/><stop offset="0.3568" stop-color="#ffe400"/><stop offset="0.4108" stop-color="#d0e000"/><stop offset="0.4648" stop-color="#88d000"/><stop offset="0.4783" stop-color="#76cc08"/><stop offset="0.4906" stop-color="#40c020"/><stop offset="0.5071" stop-color="#20b890"/><stop offset="0.5195" stop-color="#10a8e0"/><stop offset="0.5532" stop-color="#1098e8"/><stop offset="0.5981" stop-color="#0868dc"/><stop offset="0.6318" stop-color="#0810c0"/><stop offset="0.6566" stop-color="#3810c8"/><stop offset="0.6814" stop-color="#6212b8"/><stop offset="0.8069" stop-color="#5e0c88"/><stop offset="0.8488" stop-color="#5c0b75"/><stop offset="0.9357" stop-color="#5a0a62"/><stop offset="1.0000" stop-color="#5a0a62"/></linearGradient><linearGradient id="hr63" gradientUnits="userSpaceOnUse" x1="401.2" y1="0" x2="631.3" y2="0"><stop offset="0.0000" stop-color="#bc0000"/><stop offset="0.0493" stop-color="#ca0000"/><stop offset="0.1668" stop-color="#d40000"/><stop offset="0.1904" stop-color="#de1800"/><stop offset="0.1980" stop-color="#e83000"/><stop offset="0.2208" stop-color="#f47000"/><stop offset="0.2993" stop-color="#ffb400"/><stop offset="0.3385" stop-color="#ffd400"/><stop offset="0.3506" stop-color="#ffe400"/><stop offset="0.3992" stop-color="#d0e000"/><stop offset="0.4477" stop-color="#88d000"/><stop offset="0.4598" stop-color="#76cc08"/><stop offset="0.4772" stop-color="#40c020"/><stop offset="0.5005" stop-color="#20b890"/><stop offset="0.5179" stop-color="#10a8e0"/><stop offset="0.5517" stop-color="#1098e8"/><stop offset="0.5968" stop-color="#0868dc"/><stop offset="0.6306" stop-color="#0810c0"/><stop offset="0.6549" stop-color="#3810c8"/><stop offset="0.6793" stop-color="#6212b8"/><stop offset="0.8057" stop-color="#5e0c88"/><stop offset="0.8479" stop-color="#5c0b75"/><stop offset="0.9348" stop-color="#5a0a62"/><stop offset="1.0000" stop-color="#5a0a62"/></linearGradient><linearGradient id="hr64" gradientUnits="userSpaceOnUse" x1="401.2" y1="0" x2="631.3" y2="0"><stop offset="0.0000" stop-color="#be0000"/><stop offset="0.0375" stop-color="#ca0000"/><stop offset="0.1402" stop-color="#d40000"/><stop offset="0.1608" stop-color="#de1800"/><stop offset="0.1708" stop-color="#e83000"/><stop offset="0.2009" stop-color="#f47000"/><stop offset="0.2895" stop-color="#ffb400"/><stop offset="0.3338" stop-color="#ffd400"/><stop offset="0.3429" stop-color="#ffe400"/><stop offset="0.3794" stop-color="#d0e000"/><stop offset="0.4159" stop-color="#88d000"/><stop offset="0.4250" stop-color="#76cc08"/><stop offset="0.4524" stop-color="#40c020"/><stop offset="0.4889" stop-color="#20b890"/><stop offset="0.5163" stop-color="#10a8e0"/><stop offset="0.5502" stop-color="#1098e8"/><stop offset="0.5954" stop-color="#0868dc"/><stop offset="0.6293" stop-color="#0810c0"/><stop offset="0.6532" stop-color="#3810c8"/><stop offset="0.6771" stop-color="#6212b8"/><stop offset="0.8045" stop-color="#5e0c88"/><stop offset="0.8470" stop-color="#5c0b75"/><stop offset="0.9339" stop-color="#5a0a62"/><stop offset="1.0000" stop-color="#5a0a62"/></linearGradient><linearGradient id="hr65" gradientUnits="userSpaceOnUse" x1="401.2" y1="0" x2="631.3" y2="0"><stop offset="0.0000" stop-color="#c40000"/><stop offset="0.0256" stop-color="#ca0000"/><stop offset="0.1136" stop-color="#d40000"/><stop offset="0.1312" stop-color="#de1800"/><stop offset="0.1437" stop-color="#e83000"/><stop offset="0.1810" stop-color="#f47000"/><stop offset="0.2620" stop-color="#ffb400"/><stop offset="0.3025" stop-color="#ffd400"/><stop offset="0.3105" stop-color="#ffe400"/><stop offset="0.3427" stop-color="#d0e000"/><stop offset="0.3750" stop-color="#88d000"/><stop offset="0.3830" stop-color="#76cc08"/><stop offset="0.4152" stop-color="#40c020"/><stop offset="0.4581" stop-color="#20b890"/><stop offset="0.4902" stop-color="#10a8e0"/><stop offset="0.5280" stop-color="#1098e8"/><stop offset="0.5784" stop-color="#0868dc"/><stop offset="0.6163" stop-color="#0810c0"/><stop offset="0.6411" stop-color="#3810c8"/><stop offset="0.6659" stop-color="#6212b8"/><stop offset="0.7993" stop-color="#5e0c88"/><stop offset="0.8438" stop-color="#5c0b75"/><stop offset="0.9307" stop-color="#5a0a62"/><stop offset="1.0000" stop-color="#5a0a62"/></linearGradient><linearGradient id="hr66" gradientUnits="userSpaceOnUse" x1="401.2" y1="0" x2="631.3" y2="0"><stop offset="0.0000" stop-color="#c80000"/><stop offset="0.0137" stop-color="#ca0000"/><stop offset="0.0870" stop-color="#d40000"/><stop offset="0.1017" stop-color="#de1800"/><stop offset="0.1166" stop-color="#e83000"/><stop offset="0.1612" stop-color="#f47000"/><stop offset="0.2345" stop-color="#ffb400"/><stop offset="0.2712" stop-color="#ffd400"/><stop offset="0.2774" stop-color="#ffe400"/><stop offset="0.3025" stop-color="#d0e000"/><stop offset="0.3275" stop-color="#88d000"/><stop offset="0.3338" stop-color="#76cc08"/><stop offset="0.3729" stop-color="#40c020"/><stop offset="0.4250" stop-color="#20b890"/><stop offset="0.4641" stop-color="#10a8e0"/><stop offset="0.5059" stop-color="#1098e8"/><stop offset="0.5615" stop-color="#0868dc"/><stop offset="0.6032" stop-color="#0810c0"/><stop offset="0.6290" stop-color="#3810c8"/><stop offset="0.6547" stop-color="#6212b8"/><stop offset="0.7923" stop-color="#5e0c88"/><stop offset="0.8381" stop-color="#5c0b75"/><stop offset="0.9250" stop-color="#5a0a62"/><stop offset="1.0000" stop-color="#5a0a62"/></linearGradient><linearGradient id="hr67" gradientUnits="userSpaceOnUse" x1="401.2" y1="0" x2="631.3" y2="0"><stop offset="0.0000" stop-color="#cc0000"/><stop offset="0.0550" stop-color="#d40000"/><stop offset="0.0695" stop-color="#de1800"/><stop offset="0.0860" stop-color="#e83000"/><stop offset="0.1356" stop-color="#f47000"/><stop offset="0.2034" stop-color="#ffb400"/><stop offset="0.2373" stop-color="#ffd400"/><stop offset="0.2441" stop-color="#ffe400"/><stop offset="0.2712" stop-color="#d0e000"/><stop offset="0.2984" stop-color="#88d000"/><stop offset="0.3052" stop-color="#76cc08"/><stop offset="0.3451" stop-color="#40c020"/><stop offset="0.3982" stop-color="#20b890"/><stop offset="0.4381" stop-color="#10a8e0"/><stop offset="0.4837" stop-color="#1098e8"/><stop offset="0.5445" stop-color="#0868dc"/><stop offset="0.5902" stop-color="#0810c0"/><stop offset="0.6169" stop-color="#3810c8"/><stop offset="0.6436" stop-color="#6212b8"/><stop offset="0.7852" stop-color="#5e0c88"/><stop offset="0.8325" stop-color="#5c0b75"/><stop offset="0.9194" stop-color="#5a0a62"/><stop offset="1.0000" stop-color="#5a0a62"/></linearGradient><linearGradient id="hr68" gradientUnits="userSpaceOnUse" x1="401.2" y1="0" x2="631.3" y2="0"><stop offset="0.0000" stop-color="#d20000"/><stop offset="0.0132" stop-color="#d40000"/><stop offset="0.0293" stop-color="#de1800"/><stop offset="0.0480" stop-color="#e83000"/><stop offset="0.1043" stop-color="#f47000"/><stop offset="0.1686" stop-color="#ffb400"/><stop offset="0.2008" stop-color="#ffd400"/><stop offset="0.2084" stop-color="#ffe400"/><stop offset="0.2387" stop-color="#d0e000"/><stop offset="0.2691" stop-color="#88d000"/><stop offset="0.2766" stop-color="#76cc08"/><stop offset="0.3029" stop-color="#40c020"/><stop offset="0.3379" stop-color="#20b890"/><stop offset="0.3642" stop-color="#10a8e0"/><stop offset="0.4077" stop-color="#1098e8"/><stop offset="0.4657" stop-color="#0868dc"/><stop offset="0.5093" stop-color="#0810c0"/><stop offset="0.5591" stop-color="#3810c8"/><stop offset="0.6090" stop-color="#6212b8"/><stop offset="0.7724" stop-color="#5e0c88"/><stop offset="0.8268" stop-color="#5c0b75"/><stop offset="0.9137" stop-color="#5a0a62"/><stop offset="1.0000" stop-color="#5a0a62"/></linearGradient><linearGradient id="hr69" gradientUnits="userSpaceOnUse" x1="401.2" y1="0" x2="631.3" y2="0"><stop offset="0.0000" stop-color="#e62c00"/><stop offset="0.0039" stop-color="#e83000"/><stop offset="0.0730" stop-color="#f47000"/><stop offset="0.1339" stop-color="#ffb400"/><stop offset="0.1643" stop-color="#ffd400"/><stop offset="0.1727" stop-color="#ffe400"/><stop offset="0.2062" stop-color="#d0e000"/><stop offset="0.2397" stop-color="#88d000"/><stop offset="0.2481" stop-color="#76cc08"/><stop offset="0.2608" stop-color="#40c020"/><stop offset="0.2776" stop-color="#20b890"/><stop offset="0.2903" stop-color="#10a8e0"/><stop offset="0.3289" stop-color="#1098e8"/><stop offset="0.3804" stop-color="#0868dc"/><stop offset="0.4189" stop-color="#0810c0"/><stop offset="0.4850" stop-color="#3810c8"/><stop offset="0.5511" stop-color="#6212b8"/><stop offset="0.7536" stop-color="#5e0c88"/><stop offset="0.8212" stop-color="#5c0b75"/><stop offset="0.9081" stop-color="#5a0a62"/><stop offset="1.0000" stop-color="#5a0a62"/></linearGradient><linearGradient id="hr70" gradientUnits="userSpaceOnUse" x1="401.2" y1="0" x2="631.3" y2="0"><stop offset="0.0000" stop-color="#f15f00"/><stop offset="0.0238" stop-color="#f47000"/><stop offset="0.0899" stop-color="#ffb400"/><stop offset="0.1230" stop-color="#ffd400"/><stop offset="0.1323" stop-color="#ffe400"/><stop offset="0.1696" stop-color="#d0e000"/><stop offset="0.2068" stop-color="#88d000"/><stop offset="0.2161" stop-color="#76cc08"/><stop offset="0.2306" stop-color="#40c020"/><stop offset="0.2498" stop-color="#20b890"/><stop offset="0.2642" stop-color="#10a8e0"/><stop offset="0.3072" stop-color="#1098e8"/><stop offset="0.3644" stop-color="#0868dc"/><stop offset="0.4074" stop-color="#0810c0"/><stop offset="0.4611" stop-color="#3810c8"/><stop offset="0.5148" stop-color="#6212b8"/><stop offset="0.7403" stop-color="#5e0c88"/><stop offset="0.8155" stop-color="#5c0b75"/><stop offset="0.9024" stop-color="#5a0a62"/><stop offset="1.0000" stop-color="#5a0a62"/></linearGradient><linearGradient id="hr71" gradientUnits="userSpaceOnUse" x1="401.2" y1="0" x2="631.3" y2="0"><stop offset="0.0000" stop-color="#f99000"/><stop offset="0.0420" stop-color="#ffb400"/><stop offset="0.0817" stop-color="#ffd400"/><stop offset="0.0916" stop-color="#ffe400"/><stop offset="0.1312" stop-color="#d0e000"/><stop offset="0.1708" stop-color="#88d000"/><stop offset="0.1808" stop-color="#76cc08"/><stop offset="0.1980" stop-color="#40c020"/><stop offset="0.2209" stop-color="#20b890"/><stop offset="0.2382" stop-color="#10a8e0"/><stop offset="0.2854" stop-color="#1098e8"/><stop offset="0.3485" stop-color="#0868dc"/><stop offset="0.3958" stop-color="#0810c0"/><stop offset="0.4372" stop-color="#3810c8"/><stop offset="0.4786" stop-color="#6212b8"/><stop offset="0.7271" stop-color="#5e0c88"/><stop offset="0.8099" stop-color="#5c0b75"/><stop offset="0.8968" stop-color="#5a0a62"/><stop offset="1.0000" stop-color="#5a0a62"/></linearGradient><linearGradient id="hr72" gradientUnits="userSpaceOnUse" x1="401.2" y1="0" x2="631.3" y2="0"><stop offset="0.0000" stop-color="#ffb900"/><stop offset="0.0358" stop-color="#ffd400"/><stop offset="0.0468" stop-color="#ffe400"/><stop offset="0.0906" stop-color="#d0e000"/><stop offset="0.1344" stop-color="#88d000"/><stop offset="0.1454" stop-color="#76cc08"/><stop offset="0.1654" stop-color="#40c020"/><stop offset="0.1921" stop-color="#20b890"/><stop offset="0.2121" stop-color="#10a8e0"/><stop offset="0.2637" stop-color="#1098e8"/><stop offset="0.3325" stop-color="#0868dc"/><stop offset="0.3841" stop-color="#0810c0"/><stop offset="0.4133" stop-color="#3810c8"/><stop offset="0.4424" stop-color="#6212b8"/><stop offset="0.7138" stop-color="#5e0c88"/><stop offset="0.8042" stop-color="#5c0b75"/><stop offset="0.8911" stop-color="#5a0a62"/><stop offset="1.0000" stop-color="#5a0a62"/></linearGradient><linearGradient id="hr73" gradientUnits="userSpaceOnUse" x1="401.2" y1="0" x2="631.3" y2="0"><stop offset="0.0000" stop-color="#fce400"/><stop offset="0.0470" stop-color="#d0e000"/><stop offset="0.0974" stop-color="#88d000"/><stop offset="0.1100" stop-color="#76cc08"/><stop offset="0.1302" stop-color="#40c020"/><stop offset="0.1571" stop-color="#20b890"/><stop offset="0.1773" stop-color="#10a8e0"/><stop offset="0.2358" stop-color="#1098e8"/><stop offset="0.3137" stop-color="#0868dc"/><stop offset="0.3721" stop-color="#0810c0"/><stop offset="0.4008" stop-color="#3810c8"/><stop offset="0.4294" stop-color="#6212b8"/><stop offset="0.7063" stop-color="#5e0c88"/><stop offset="0.7986" stop-color="#5c0b75"/><stop offset="0.8855" stop-color="#5a0a62"/><stop offset="1.0000" stop-color="#5a0a62"/></linearGradient><linearGradient id="hr74" gradientUnits="userSpaceOnUse" x1="401.2" y1="0" x2="631.3" y2="0"><stop offset="0.0000" stop-color="#c6de00"/><stop offset="0.0567" stop-color="#88d000"/><stop offset="0.0732" stop-color="#76cc08"/><stop offset="0.0940" stop-color="#40c020"/><stop offset="0.1218" stop-color="#20b890"/><stop offset="0.1425" stop-color="#10a8e0"/><stop offset="0.2078" stop-color="#1098e8"/><stop offset="0.2949" stop-color="#0868dc"/><stop offset="0.3601" stop-color="#0810c0"/><stop offset="0.3882" stop-color="#3810c8"/><stop offset="0.4163" stop-color="#6212b8"/><stop offset="0.6988" stop-color="#5e0c88"/><stop offset="0.7929" stop-color="#5c0b75"/><stop offset="0.8798" stop-color="#5a0a62"/><stop offset="1.0000" stop-color="#5a0a62"/></linearGradient><linearGradient id="hr75" gradientUnits="userSpaceOnUse" x1="401.2" y1="0" x2="631.3" y2="0"><stop offset="0.0000" stop-color="#a3d600"/><stop offset="0.0186" stop-color="#88d000"/><stop offset="0.0309" stop-color="#76cc08"/><stop offset="0.0540" stop-color="#40c020"/><stop offset="0.0847" stop-color="#20b890"/><stop offset="0.1078" stop-color="#10a8e0"/><stop offset="0.1770" stop-color="#1098e8"/><stop offset="0.2694" stop-color="#0868dc"/><stop offset="0.3387" stop-color="#0810c0"/><stop offset="0.3710" stop-color="#3810c8"/><stop offset="0.4033" stop-color="#6212b8"/><stop offset="0.6784" stop-color="#5e0c88"/><stop offset="0.7701" stop-color="#5c0b75"/><stop offset="0.8570" stop-color="#5a0a62"/><stop offset="1.0000" stop-color="#5a0a62"/></linearGradient><linearGradient id="hr76" gradientUnits="userSpaceOnUse" x1="401.2" y1="0" x2="631.3" y2="0"><stop offset="0.0000" stop-color="#4bc21b"/><stop offset="0.0049" stop-color="#40c020"/><stop offset="0.0370" stop-color="#20b890"/><stop offset="0.0611" stop-color="#10a8e0"/><stop offset="0.1293" stop-color="#1098e8"/><stop offset="0.2204" stop-color="#0868dc"/><stop offset="0.2887" stop-color="#0810c0"/><stop offset="0.3243" stop-color="#3810c8"/><stop offset="0.3598" stop-color="#6212b8"/><stop offset="0.6375" stop-color="#5e0c88"/><stop offset="0.7301" stop-color="#5c0b75"/><stop offset="0.8170" stop-color="#5a0a62"/><stop offset="1.0000" stop-color="#5a0a62"/></linearGradient><linearGradient id="hr77" gradientUnits="userSpaceOnUse" x1="401.2" y1="0" x2="631.3" y2="0"><stop offset="0.0000" stop-color="#10a3e2"/><stop offset="0.0421" stop-color="#1098e8"/><stop offset="0.1237" stop-color="#0868dc"/><stop offset="0.1849" stop-color="#0810c0"/><stop offset="0.2506" stop-color="#3810c8"/><stop offset="0.3164" stop-color="#6212b8"/><stop offset="0.5967" stop-color="#5e0c88"/><stop offset="0.6901" stop-color="#5c0b75"/><stop offset="0.7771" stop-color="#5a0a62"/><stop offset="1.0000" stop-color="#5a0a62"/></linearGradient><linearGradient id="hr78" gradientUnits="userSpaceOnUse" x1="401.2" y1="0" x2="631.3" y2="0"><stop offset="0.0000" stop-color="#6212b8"/><stop offset="0.3870" stop-color="#5e0c88"/><stop offset="0.5163" stop-color="#5c0b75"/><stop offset="0.6032" stop-color="#5a0a62"/><stop offset="1.0000" stop-color="#5a0a62"/></linearGradient></defs><rect x="401.2" y="498" width="230.1" height="72" fill="#5a0a62"/><g shape-rendering="crispEdges"><rect x="401.2" y="340" width="230.1" height="2" fill="url(#hr0)"/><rect x="401.2" y="342" width="230.1" height="2" fill="url(#hr1)"/><rect x="401.2" y="344" width="230.1" height="2" fill="url(#hr2)"/><rect x="401.2" y="346" width="230.1" height="2" fill="url(#hr3)"/><rect x="401.2" y="348" width="230.1" height="2" fill="url(#hr4)"/><rect x="401.2" y="350" width="230.1" height="2" fill="url(#hr5)"/><rect x="401.2" y="352" width="230.1" height="2" fill="url(#hr6)"/><rect x="401.2" y="354" width="230.1" height="2" fill="url(#hr7)"/><rect x="401.2" y="356" width="230.1" height="2" fill="url(#hr8)"/><rect x="401.2" y="358" width="230.1" height="2" fill="url(#hr9)"/><rect x="401.2" y="360" width="230.1" height="2" fill="url(#hr10)"/><rect x="401.2" y="362" width="230.1" height="2" fill="url(#hr11)"/><rect x="401.2" y="364" width="230.1" height="2" fill="url(#hr12)"/><rect x="401.2" y="366" width="230.1" height="2" fill="url(#hr13)"/><rect x="401.2" y="368" width="230.1" height="2" fill="url(#hr14)"/><rect x="401.2" y="370" width="230.1" height="2" fill="url(#hr15)"/><rect x="401.2" y="372" width="230.1" height="2" fill="url(#hr16)"/><rect x="401.2" y="374" width="230.1" height="2" fill="url(#hr17)"/><rect x="401.2" y="376" width="230.1" height="2" fill="url(#hr18)"/><rect x="401.2" y="378" width="230.1" height="2" fill="url(#hr19)"/><rect x="401.2" y="380" width="230.1" height="2" fill="url(#hr20)"/><rect x="401.2" y="382" width="230.1" height="2" fill="url(#hr21)"/><rect x="401.2" y="384" width="230.1" height="2" fill="url(#hr22)"/><rect x="401.2" y="386" width="230.1" height="2" fill="url(#hr23)"/><rect x="401.2" y="388" width="230.1" height="2" fill="url(#hr24)"/><rect x="401.2" y="390" width="230.1" height="2" fill="url(#hr25)"/><rect x="401.2" y="392" width="230.1" height="2" fill="url(#hr26)"/><rect x="401.2" y="394" width="230.1" height="2" fill="url(#hr27)"/><rect x="401.2" y="396" width="230.1" height="2" fill="url(#hr28)"/><rect x="401.2" y="398" width="230.1" height="2" fill="url(#hr29)"/><rect x="401.2" y="400" width="230.1" height="2" fill="url(#hr30)"/><rect x="401.2" y="402" width="230.1" height="2" fill="url(#hr31)"/><rect x="401.2" y="404" width="230.1" height="2" fill="url(#hr32)"/><rect x="401.2" y="406" width="230.1" height="2" fill="url(#hr33)"/><rect x="401.2" y="408" width="230.1" height="2" fill="url(#hr34)"/><rect x="401.2" y="410" width="230.1" height="2" fill="url(#hr35)"/><rect x="401.2" y="412" width="230.1" height="2" fill="url(#hr36)"/><rect x="401.2" y="414" width="230.1" height="2" fill="url(#hr37)"/><rect x="401.2" y="416" width="230.1" height="2" fill="url(#hr38)"/><rect x="401.2" y="418" width="230.1" height="2" fill="url(#hr39)"/><rect x="401.2" y="420" width="230.1" height="2" fill="url(#hr40)"/><rect x="401.2" y="422" width="230.1" height="2" fill="url(#hr41)"/><rect x="401.2" y="424" width="230.1" height="2" fill="url(#hr42)"/><rect x="401.2" y="426" width="230.1" height="2" fill="url(#hr43)"/><rect x="401.2" y="428" width="230.1" height="2" fill="url(#hr44)"/><rect x="401.2" y="430" width="230.1" height="2" fill="url(#hr45)"/><rect x="401.2" y="432" width="230.1" height="2" fill="url(#hr46)"/><rect x="401.2" y="434" width="230.1" height="2" fill="url(#hr47)"/><rect x="401.2" y="436" width="230.1" height="2" fill="url(#hr48)"/><rect x="401.2" y="438" width="230.1" height="2" fill="url(#hr49)"/><rect x="401.2" y="440" width="230.1" height="2" fill="url(#hr50)"/><rect x="401.2" y="442" width="230.1" height="2" fill="url(#hr51)"/><rect x="401.2" y="444" width="230.1" height="2" fill="url(#hr52)"/><rect x="401.2" y="446" width="230.1" height="2" fill="url(#hr53)"/><rect x="401.2" y="448" width="230.1" height="2" fill="url(#hr54)"/><rect x="401.2" y="450" width="230.1" height="2" fill="url(#hr55)"/><rect x="401.2" y="452" width="230.1" height="2" fill="url(#hr56)"/><rect x="401.2" y="454" width="230.1" height="2" fill="url(#hr57)"/><rect x="401.2" y="456" width="230.1" height="2" fill="url(#hr58)"/><rect x="401.2" y="458" width="230.1" height="2" fill="url(#hr59)"/><rect x="401.2" y="460" width="230.1" height="2" fill="url(#hr60)"/><rect x="401.2" y="462" width="230.1" height="2" fill="url(#hr61)"/><rect x="401.2" y="464" width="230.1" height="2" fill="url(#hr62)"/><rect x="401.2" y="466" width="230.1" height="2" fill="url(#hr63)"/><rect x="401.2" y="468" width="230.1" height="2" fill="url(#hr64)"/><rect x="401.2" y="470" width="230.1" height="2" fill="url(#hr65)"/><rect x="401.2" y="472" width="230.1" height="2" fill="url(#hr66)"/><rect x="401.2" y="474" width="230.1" height="2" fill="url(#hr67)"/><rect x="401.2" y="476" width="230.1" height="2" fill="url(#hr68)"/><rect x="401.2" y="478" width="230.1" height="2" fill="url(#hr69)"/><rect x="401.2" y="480" width="230.1" height="2" fill="url(#hr70)"/><rect x="401.2" y="482" width="230.1" height="2" fill="url(#hr71)"/><rect x="401.2" y="484" width="230.1" height="2" fill="url(#hr72)"/><rect x="401.2" y="486" width="230.1" height="2" fill="url(#hr73)"/><rect x="401.2" y="488" width="230.1" height="2" fill="url(#hr74)"/><rect x="401.2" y="490" width="230.1" height="2" fill="url(#hr75)"/><rect x="401.2" y="492" width="230.1" height="2" fill="url(#hr76)"/><rect x="401.2" y="494" width="230.1" height="2" fill="url(#hr77)"/><rect x="401.2" y="496" width="230.1" height="2" fill="url(#hr78)"/></g><rect x="401.2" y="496" width="230.1" height="2" fill="url(#vh0)" shape-rendering="crispEdges"/><rect x="401.2" y="498" width="230.1" height="2" fill="url(#vh1)" shape-rendering="crispEdges"/><rect x="401.2" y="500" width="230.1" height="2" fill="url(#vh2)" shape-rendering="crispEdges"/><rect x="401.2" y="502" width="230.1" height="2" fill="url(#vh3)" shape-rendering="crispEdges"/><rect x="401.2" y="504" width="230.1" height="2" fill="url(#vh4)" shape-rendering="crispEdges"/><defs><linearGradient id="vh0" gradientUnits="userSpaceOnUse" x1="401.2" y1="0" x2="631.3" y2="0"><stop offset="0" stop-color="#6010b0" stop-opacity="0"/><stop offset="0.22" stop-color="#6010b0" stop-opacity="0"/><stop offset="0.4" stop-color="#6010b0" stop-opacity="0.95"/><stop offset="0.62" stop-color="#6010b0" stop-opacity="0.76"/><stop offset="0.8" stop-color="#6010b0" stop-opacity="0"/></linearGradient><linearGradient id="vh1" gradientUnits="userSpaceOnUse" x1="401.2" y1="0" x2="631.3" y2="0"><stop offset="0" stop-color="#6010b0" stop-opacity="0"/><stop offset="0.22" stop-color="#6010b0" stop-opacity="0"/><stop offset="0.4" stop-color="#6010b0" stop-opacity="0.80"/><stop offset="0.62" stop-color="#6010b0" stop-opacity="0.64"/><stop offset="0.8" stop-color="#6010b0" stop-opacity="0"/></linearGradient><linearGradient id="vh2" gradientUnits="userSpaceOnUse" x1="401.2" y1="0" x2="631.3" y2="0"><stop offset="0" stop-color="#6010b0" stop-opacity="0"/><stop offset="0.22" stop-color="#6010b0" stop-opacity="0"/><stop offset="0.4" stop-color="#6010b0" stop-opacity="0.60"/><stop offset="0.62" stop-color="#6010b0" stop-opacity="0.48"/><stop offset="0.8" stop-color="#6010b0" stop-opacity="0"/></linearGradient><linearGradient id="vh3" gradientUnits="userSpaceOnUse" x1="401.2" y1="0" x2="631.3" y2="0"><stop offset="0" stop-color="#6010b0" stop-opacity="0"/><stop offset="0.22" stop-color="#6010b0" stop-opacity="0"/><stop offset="0.4" stop-color="#6010b0" stop-opacity="0.40"/><stop offset="0.62" stop-color="#6010b0" stop-opacity="0.32"/><stop offset="0.8" stop-color="#6010b0" stop-opacity="0"/></linearGradient><linearGradient id="vh4" gradientUnits="userSpaceOnUse" x1="401.2" y1="0" x2="631.3" y2="0"><stop offset="0" stop-color="#6010b0" stop-opacity="0"/><stop offset="0.22" stop-color="#6010b0" stop-opacity="0"/><stop offset="0.4" stop-color="#6010b0" stop-opacity="0.20"/><stop offset="0.62" stop-color="#6010b0" stop-opacity="0.16"/><stop offset="0.8" stop-color="#6010b0" stop-opacity="0"/></linearGradient></defs><line x1="434.1" y1="340.2" x2="434.1" y2="570" stroke="#ffffff" stroke-width="0.8" opacity="0.13"/><line x1="466.9" y1="340.2" x2="466.9" y2="570" stroke="#ffffff" stroke-width="0.8" opacity="0.13"/><line x1="499.8" y1="340.2" x2="499.8" y2="570" stroke="#ffffff" stroke-width="0.8" opacity="0.13"/><line x1="532.7" y1="340.2" x2="532.7" y2="570" stroke="#ffffff" stroke-width="0.8" opacity="0.13"/><line x1="565.5" y1="340.2" x2="565.5" y2="570" stroke="#ffffff" stroke-width="0.8" opacity="0.13"/><line x1="598.4" y1="340.2" x2="598.4" y2="570" stroke="#ffffff" stroke-width="0.8" opacity="0.13"/><line x1="401.2" y1="539.7" x2="631.3" y2="539.7" stroke="#ffffff" stroke-width="0.8" opacity="0.13"/><line x1="401.2" y1="509.4" x2="631.3" y2="509.4" stroke="#ffffff" stroke-width="0.8" opacity="0.13"/><line x1="401.2" y1="479.1" x2="631.3" y2="479.1" stroke="#ffffff" stroke-width="0.8" opacity="0.13"/><line x1="401.2" y1="448.8" x2="631.3" y2="448.8" stroke="#ffffff" stroke-width="0.8" opacity="0.13"/><line x1="401.2" y1="418.5" x2="631.3" y2="418.5" stroke="#ffffff" stroke-width="0.8" opacity="0.13"/><line x1="401.2" y1="388.2" x2="631.3" y2="388.2" stroke="#ffffff" stroke-width="0.8" opacity="0.13"/><line x1="401.2" y1="357.9" x2="631.3" y2="357.9" stroke="#ffffff" stroke-width="0.8" opacity="0.13"/><line x1="397.2" y1="570" x2="401.2" y2="570" stroke="#222" stroke-width="1.1"/><text x="395.2" y="574.5" font-family='"Liberation Serif", serif' font-size="12" fill="#222" font-weight="bold" text-anchor="end">80</text><line x1="397.2" y1="539.7" x2="401.2" y2="539.7" stroke="#222" stroke-width="1.1"/><text x="395.2" y="544.2" font-family='"Liberation Serif", serif' font-size="12" fill="#222" font-weight="bold" text-anchor="end">120</text><line x1="397.2" y1="509.4" x2="401.2" y2="509.4" stroke="#222" stroke-width="1.1"/><text x="395.2" y="513.9" font-family='"Liberation Serif", serif' font-size="12" fill="#222" font-weight="bold" text-anchor="end">160</text><line x1="397.2" y1="479.1" x2="401.2" y2="479.1" stroke="#222" stroke-width="1.1"/><text x="395.2" y="483.6" font-family='"Liberation Serif", serif' font-size="12" fill="#222" font-weight="bold" text-anchor="end">200</text><line x1="397.2" y1="448.8" x2="401.2" y2="448.8" stroke="#222" stroke-width="1.1"/><text x="395.2" y="453.3" font-family='"Liberation Serif", serif' font-size="12" fill="#222" font-weight="bold" text-anchor="end">240</text><line x1="397.2" y1="418.5" x2="401.2" y2="418.5" stroke="#222" stroke-width="1.1"/><text x="395.2" y="423" font-family='"Liberation Serif", serif' font-size="12" fill="#222" font-weight="bold" text-anchor="end">280</text><line x1="397.2" y1="388.2" x2="401.2" y2="388.2" stroke="#222" stroke-width="1.1"/><text x="395.2" y="392.7" font-family='"Liberation Serif", serif' font-size="12" fill="#222" font-weight="bold" text-anchor="end">320</text><line x1="397.2" y1="357.9" x2="401.2" y2="357.9" stroke="#222" stroke-width="1.1"/><text x="395.2" y="362.4" font-family='"Liberation Serif", serif' font-size="12" fill="#222" font-weight="bold" text-anchor="end">360</text><line x1="401.2" y1="570" x2="401.2" y2="573.5" stroke="#222" stroke-width="1.1"/><text x="405.2" y="581.5" font-family='"Liberation Serif", serif' font-size="12" fill="#222" font-weight="bold" text-anchor="middle">0.88</text><line x1="434.1" y1="570" x2="434.1" y2="573.5" stroke="#222" stroke-width="1.1"/><text x="438.1" y="581.5" font-family='"Liberation Serif", serif' font-size="12" fill="#222" font-weight="bold" text-anchor="middle">0.90</text><line x1="466.9" y1="570" x2="466.9" y2="573.5" stroke="#222" stroke-width="1.1"/><text x="470.9" y="581.5" font-family='"Liberation Serif", serif' font-size="12" fill="#222" font-weight="bold" text-anchor="middle">0.92</text><line x1="499.8" y1="570" x2="499.8" y2="573.5" stroke="#222" stroke-width="1.1"/><text x="503.8" y="581.5" font-family='"Liberation Serif", serif' font-size="12" fill="#222" font-weight="bold" text-anchor="middle">0.94</text><line x1="532.7" y1="570" x2="532.7" y2="573.5" stroke="#222" stroke-width="1.1"/><text x="536.7" y="581.5" font-family='"Liberation Serif", serif' font-size="12" fill="#222" font-weight="bold" text-anchor="middle">0.96</text><line x1="565.5" y1="570" x2="565.5" y2="573.5" stroke="#222" stroke-width="1.1"/><text x="569.5" y="581.5" font-family='"Liberation Serif", serif' font-size="12" fill="#222" font-weight="bold" text-anchor="middle">0.98</text><line x1="598.4" y1="570" x2="598.4" y2="573.5" stroke="#222" stroke-width="1.1"/><text x="602.4" y="581.5" font-family='"Liberation Serif", serif' font-size="12" fill="#222" font-weight="bold" text-anchor="middle">1.00</text><line x1="631.3" y1="570" x2="631.3" y2="573.5" stroke="#222" stroke-width="1.1"/><text x="635.3" y="581.5" font-family='"Liberation Serif", serif' font-size="12" fill="#222" font-weight="bold" text-anchor="middle">1.02</text><line x1="401.2" y1="340.2" x2="401.2" y2="570.5" stroke="#222" stroke-width="0.8"/><line x1="401.2" y1="570" x2="631.3" y2="570" stroke="#222" stroke-width="0.8"/><text x="515" y="596" font-family='"Liberation Serif", serif' font-size="13.5" fill="#222" font-weight="bold" text-anchor="middle">Inlet <tspan font-style="italic">S</tspan>-value</text><text x="373.5" y="455" font-family='"Liberation Serif", serif' font-size="13.5" fill="#222" font-weight="bold" text-anchor="middle" transform="rotate(-90 373.5 455)">Inlet temperature [°C]</text><defs><linearGradient id="cbar" x1="0" y1="0" x2="0" y2="1"><stop offset="0.0000" stop-color="#5a0a62"/><stop offset="0.0250" stop-color="#5e0c88"/><stop offset="0.0625" stop-color="#6212b8"/><stop offset="0.0938" stop-color="#3810c8"/><stop offset="0.1250" stop-color="#0810c0"/><stop offset="0.1625" stop-color="#0868dc"/><stop offset="0.2125" stop-color="#1098e8"/><stop offset="0.2500" stop-color="#10a8e0"/><stop offset="0.2875" stop-color="#20b890"/><stop offset="0.3375" stop-color="#40c020"/><stop offset="0.3875" stop-color="#88d000"/><stop offset="0.4375" stop-color="#d0e000"/><stop offset="0.4875" stop-color="#ffe400"/><stop offset="0.5250" stop-color="#ffb400"/><stop offset="0.5750" stop-color="#f47000"/><stop offset="0.6125" stop-color="#e83000"/><stop offset="0.6375" stop-color="#d40000"/><stop offset="0.8125" stop-color="#b80000"/><stop offset="0.9125" stop-color="#800000"/><stop offset="1.0000" stop-color="#400000"/></linearGradient></defs><rect x="634.4" y="340.7" width="18.5" height="151.3" fill="url(#cbar)"/><text x="656" y="343.7" font-family='"Liberation Serif", serif' font-size="8.2" fill="#222" textLength="17.5" lengthAdjust="spacingAndGlyphs" font-weight="bold">0.000</text><text x="656" y="362.6" font-family='"Liberation Serif", serif' font-size="8.2" fill="#222" textLength="24.5" lengthAdjust="spacingAndGlyphs" font-weight="bold">0.01000</text><text x="656" y="381.5" font-family='"Liberation Serif", serif' font-size="8.2" fill="#222" textLength="24.5" lengthAdjust="spacingAndGlyphs" font-weight="bold">0.02000</text><text x="656" y="400.4" font-family='"Liberation Serif", serif' font-size="8.2" fill="#222" textLength="24.5" lengthAdjust="spacingAndGlyphs" font-weight="bold">0.03000</text><text x="656" y="419.4" font-family='"Liberation Serif", serif' font-size="8.2" fill="#222" textLength="24.5" lengthAdjust="spacingAndGlyphs" font-weight="bold">0.04000</text><text x="656" y="438.3" font-family='"Liberation Serif", serif' font-size="8.2" fill="#222" textLength="24.5" lengthAdjust="spacingAndGlyphs" font-weight="bold">0.05000</text><text x="656" y="457.2" font-family='"Liberation Serif", serif' font-size="8.2" fill="#222" textLength="24.5" lengthAdjust="spacingAndGlyphs" font-weight="bold">0.06000</text><text x="656" y="476.1" font-family='"Liberation Serif", serif' font-size="8.2" fill="#222" textLength="24.5" lengthAdjust="spacingAndGlyphs" font-weight="bold">0.07000</text><text x="656" y="495" font-family='"Liberation Serif", serif' font-size="8.2" fill="#222" textLength="24.5" lengthAdjust="spacingAndGlyphs" font-weight="bold">0.08000</text><text x="632.8" y="506" font-family='"Liberation Serif", serif' font-size="8.6" fill="#222" font-weight="bold">NH₃ concentration</text><text x="632.8" y="520" font-family='"Liberation Serif", serif' font-size="8.6" fill="#222" font-weight="bold">Unit: %</text><defs><pattern id="h1" patternUnits="userSpaceOnUse" width="2.8" height="2.8" patternTransform="rotate(45)"><rect width="2.8" height="2.8" fill="#4e5ee6"/><line x1="0.7" y1="0" x2="0.7" y2="2.8" stroke="#8a98ff" stroke-width="0.9"/></pattern><pattern id="h2" patternUnits="userSpaceOnUse" width="2.8" height="2.8" patternTransform="rotate(45)"><rect width="2.8" height="2.8" fill="#237e6e"/><line x1="0.7" y1="0" x2="0.7" y2="2.8" stroke="#56aa9a" stroke-width="0.9"/></pattern><pattern id="h3" patternUnits="userSpaceOnUse" width="2.8" height="2.8" patternTransform="rotate(45)"><rect width="2.8" height="2.8" fill="#e67c22"/><line x1="0.7" y1="0" x2="0.7" y2="2.8" stroke="#ffb468" stroke-width="0.9"/></pattern><pattern id="h4" patternUnits="userSpaceOnUse" width="2.8" height="2.8" patternTransform="rotate(45)"><rect width="2.8" height="2.8" fill="#cc2218"/><line x1="0.7" y1="0" x2="0.7" y2="2.8" stroke="#ec5a48" stroke-width="0.9"/></pattern></defs><text x="45" y="662" font-family='"Liberation Serif", serif' font-size="37" fill="#e00000" font-weight="bold">c</text><line x1="100" y1="818.2" x2="308" y2="818.2" stroke="#c8c8c8" stroke-width="0.9" stroke-dasharray="1,2"/><line x1="100" y1="800.5" x2="308" y2="800.5" stroke="#c8c8c8" stroke-width="0.9" stroke-dasharray="1,2"/><line x1="100" y1="782.8" x2="308" y2="782.8" stroke="#c8c8c8" stroke-width="0.9" stroke-dasharray="1,2"/><line x1="100" y1="765" x2="308" y2="765" stroke="#c8c8c8" stroke-width="0.9" stroke-dasharray="1,2"/><line x1="100" y1="747.2" x2="308" y2="747.2" stroke="#c8c8c8" stroke-width="0.9" stroke-dasharray="1,2"/><line x1="100" y1="729.5" x2="308" y2="729.5" stroke="#c8c8c8" stroke-width="0.9" stroke-dasharray="1,2"/><line x1="100" y1="711.8" x2="308" y2="711.8" stroke="#c8c8c8" stroke-width="0.9" stroke-dasharray="1,2"/><line x1="100" y1="694" x2="308" y2="694" stroke="#c8c8c8" stroke-width="0.9" stroke-dasharray="1,2"/><line x1="100" y1="676.2" x2="308" y2="676.2" stroke="#c8c8c8" stroke-width="0.9" stroke-dasharray="1,2"/><rect x="98.4" y="658.9" width="211.2" height="177.1" fill="none" stroke="#444" stroke-width="1.2"/><text x="94.5" y="840.2" font-family='"Liberation Sans", sans-serif' font-size="11.5" fill="#333" textLength="25" lengthAdjust="spacingAndGlyphs" font-weight="bold" text-anchor="end">0.000</text><text x="94.5" y="804.7" font-family='"Liberation Sans", sans-serif' font-size="11.5" fill="#333" textLength="25" lengthAdjust="spacingAndGlyphs" font-weight="bold" text-anchor="end">0.006</text><text x="94.5" y="769.2" font-family='"Liberation Sans", sans-serif' font-size="11.5" fill="#333" textLength="25" lengthAdjust="spacingAndGlyphs" font-weight="bold" text-anchor="end">0.012</text><text x="94.5" y="733.7" font-family='"Liberation Sans", sans-serif' font-size="11.5" fill="#333" textLength="25" lengthAdjust="spacingAndGlyphs" font-weight="bold" text-anchor="end">0.018</text><text x="94.5" y="698.2" font-family='"Liberation Sans", sans-serif' font-size="11.5" fill="#333" textLength="25" lengthAdjust="spacingAndGlyphs" font-weight="bold" text-anchor="end">0.024</text><text x="94.5" y="662.7" font-family='"Liberation Sans", sans-serif' font-size="11.5" fill="#333" textLength="25" lengthAdjust="spacingAndGlyphs" font-weight="bold" text-anchor="end">0.030</text><text x="62" y="748" font-family='"Liberation Sans", sans-serif' font-size="11" fill="#333" textLength="136" lengthAdjust="spacingAndGlyphs" font-weight="bold" text-anchor="middle" transform="rotate(-90 62 748)">NOx or NH<tspan font-size="8" dy="2.5">3</tspan><tspan dy="-2.5"> emissions (g/km)</tspan></text><rect x="104.4" y="798.7" width="18.6" height="37.3" fill="url(#h1)" stroke="#222" stroke-width="0.9"/><rect x="104.4" y="775.6" width="18.6" height="23.1" fill="url(#h2)" stroke="#222" stroke-width="0.9"/><rect x="104.4" y="749.6" width="18.6" height="26" fill="url(#h3)" stroke="#222" stroke-width="0.9"/><rect x="104.4" y="723.6" width="18.6" height="26" fill="url(#h4)" stroke="#222" stroke-width="0.9"/><rect x="134.4" y="821.2" width="18.6" height="14.8" fill="url(#h1)" stroke="#222" stroke-width="0.9"/><rect x="134.4" y="802.3" width="18.6" height="18.9" fill="url(#h2)" stroke="#222" stroke-width="0.9"/><rect x="134.4" y="785.7" width="18.6" height="16.6" fill="url(#h3)" stroke="#222" stroke-width="0.9"/><rect x="134.4" y="760.9" width="18.6" height="24.9" fill="url(#h4)" stroke="#222" stroke-width="0.9"/><rect x="164.8" y="825.4" width="18.6" height="10.6" fill="url(#h1)" stroke="#222" stroke-width="0.9"/><rect x="164.8" y="812.3" width="18.6" height="13" fill="url(#h2)" stroke="#222" stroke-width="0.9"/><rect x="164.8" y="798.7" width="18.6" height="13.6" fill="url(#h3)" stroke="#222" stroke-width="0.9"/><rect x="164.8" y="778.6" width="18.6" height="20.1" fill="url(#h4)" stroke="#222" stroke-width="0.9"/><rect x="225.1" y="833" width="18.6" height="3" fill="url(#h1)" stroke="#222" stroke-width="0.9"/><rect x="225.1" y="831.3" width="18.6" height="1.8" fill="url(#h2)" stroke="#222" stroke-width="0.9"/><rect x="225.1" y="828.9" width="18.6" height="2.4" fill="url(#h3)" stroke="#222" stroke-width="0.9"/><rect x="225.1" y="818.8" width="18.6" height="10.1" fill="url(#h4)" stroke="#222" stroke-width="0.9"/><rect x="255.2" y="807" width="18.6" height="29" fill="url(#h1)" stroke="#222" stroke-width="0.9"/><rect x="255.2" y="802.9" width="18.6" height="4.1" fill="url(#h2)" stroke="#222" stroke-width="0.9"/><rect x="255.2" y="800.5" width="18.6" height="2.4" fill="url(#h3)" stroke="#222" stroke-width="0.9"/><rect x="255.2" y="777.4" width="18.6" height="23.1" fill="url(#h4)" stroke="#222" stroke-width="0.9"/><rect x="285.5" y="774.5" width="18.6" height="61.5" fill="url(#h1)" stroke="#222" stroke-width="0.9"/><rect x="285.5" y="763.2" width="18.6" height="11.2" fill="url(#h2)" stroke="#222" stroke-width="0.9"/><rect x="285.5" y="754.4" width="18.6" height="8.9" fill="url(#h3)" stroke="#222" stroke-width="0.9"/><rect x="285.5" y="723.6" width="18.6" height="30.8" fill="url(#h4)" stroke="#222" stroke-width="0.9"/><text x="113.7" y="852.5" font-family='"Liberation Sans", sans-serif' font-size="10" fill="#333" textLength="27" lengthAdjust="spacingAndGlyphs" font-weight="bold" text-anchor="middle">-10 °C</text><text x="143.7" y="852.5" font-family='"Liberation Sans", sans-serif' font-size="10" fill="#333" textLength="22" lengthAdjust="spacingAndGlyphs" font-weight="bold" text-anchor="middle">20 °C</text><text x="174.1" y="852.5" font-family='"Liberation Sans", sans-serif' font-size="10" fill="#333" textLength="22" lengthAdjust="spacingAndGlyphs" font-weight="bold" text-anchor="middle">35 °C</text><text x="234.4" y="852.5" font-family='"Liberation Sans", sans-serif' font-size="10" fill="#333" textLength="27" lengthAdjust="spacingAndGlyphs" font-weight="bold" text-anchor="middle">-10 °C</text><text x="264.5" y="852.5" font-family='"Liberation Sans", sans-serif' font-size="10" fill="#333" textLength="22" lengthAdjust="spacingAndGlyphs" font-weight="bold" text-anchor="middle">20 °C</text><text x="294.8" y="852.5" font-family='"Liberation Sans", sans-serif' font-size="10" fill="#333" textLength="22" lengthAdjust="spacingAndGlyphs" font-weight="bold" text-anchor="middle">35 °C</text><text x="143" y="880" font-family='"Liberation Sans", sans-serif' font-size="12.5" fill="#333" font-weight="bold" text-anchor="middle">NOx</text><text x="262" y="880" font-family='"Liberation Sans", sans-serif' font-size="12.5" fill="#333" font-weight="bold" text-anchor="middle">NH<tspan font-size="9" dy="3">3</tspan></text><rect x="98.3" y="645" width="22" height="10.5" fill="url(#h1)" stroke="#222" stroke-width="0.9"/><text x="122.8" y="654" font-family='"Liberation Sans", sans-serif' font-size="9.5" fill="#333" textLength="26" lengthAdjust="spacingAndGlyphs" font-weight="bold">Phase1</text><rect x="151.3" y="645" width="22" height="10.5" fill="url(#h2)" stroke="#222" stroke-width="0.9"/><text x="175.8" y="654" font-family='"Liberation Sans", sans-serif' font-size="9.5" fill="#333" textLength="26" lengthAdjust="spacingAndGlyphs" font-weight="bold">Phase2</text><rect x="204.5" y="645" width="22" height="10.5" fill="url(#h3)" stroke="#222" stroke-width="0.9"/><text x="229" y="654" font-family='"Liberation Sans", sans-serif' font-size="9.5" fill="#333" textLength="26" lengthAdjust="spacingAndGlyphs" font-weight="bold">Phase3</text><rect x="257.7" y="645" width="22" height="10.5" fill="url(#h4)" stroke="#222" stroke-width="0.9"/><text x="282.2" y="654" font-family='"Liberation Sans", sans-serif' font-size="9.5" fill="#333" textLength="26" lengthAdjust="spacingAndGlyphs" font-weight="bold">Phase4</text><path d="M112.7,719 L112.7,712 A16.3,21.6 0 0 1 145.3,712 L148.9,712 L141.7,719 L134.4,712 L138.1,712 A9.1,14.4 0 0 0 119.9,712 L119.9,719 Z" fill="#1b2e6c" stroke="#1b2e6c" stroke-width="0.7" stroke-linejoin="round"/><path d="M141.6,751 L141.6,744 A16.7,21.1 0 0 1 175,744 L178.9,744 L171.4,751 L163.9,744 L167.8,744 A9.5,13.9 0 0 0 148.8,744 L148.8,751 Z" fill="#1b2e6c" stroke="#1b2e6c" stroke-width="0.7" stroke-linejoin="round"/><path d="M263.4,715.2 L263.4,708 A17.1,21.4 0 0 1 297.6,708 L301.3,708 L293.5,715.2 L285.7,708 L289.4,708 A8.8,13 0 0 0 271.6,708 L271.6,715.2 Z" fill="#e2b83a" stroke="#9a7a20" stroke-width="0.7" stroke-linejoin="round"/><path d="M233,757.5 L233,750.7 A16.7,21.8 0 0 1 266.4,750.7 L270.1,750.7 L262.3,757.5 L254.6,750.7 L258.2,750.7 A8.5,13.6 0 0 0 241.2,750.7 L241.2,757.5 Z" fill="#e2b83a" stroke="#9a7a20" stroke-width="0.7" stroke-linejoin="round"/><text x="130" y="684.5" font-family='"Liberation Sans", sans-serif' font-size="12.5" fill="#222" textLength="27" lengthAdjust="spacingAndGlyphs" font-weight="bold" text-anchor="middle">-32%</text><text x="171.3" y="717.5" font-family='"Liberation Sans", sans-serif' font-size="12.5" fill="#222" textLength="27" lengthAdjust="spacingAndGlyphs" font-weight="bold" text-anchor="middle">-23%</text><text x="279" y="680" font-family='"Liberation Sans", sans-serif' font-size="12.5" fill="#222" textLength="26" lengthAdjust="spacingAndGlyphs" font-weight="bold" text-anchor="middle">47 %</text><text x="239.3" y="723.5" font-family='"Liberation Sans", sans-serif' font-size="12.5" fill="#222" textLength="26" lengthAdjust="spacingAndGlyphs" font-weight="bold" text-anchor="middle">71 %</text><line x1="387.9" y1="793.6" x2="961.2" y2="793.6" stroke="#888" stroke-width="0.9" stroke-dasharray="1.2,2.8"/><line x1="387.9" y1="763.5" x2="961.2" y2="763.5" stroke="#888" stroke-width="0.9" stroke-dasharray="1.2,2.8"/><line x1="387.9" y1="733.4" x2="961.2" y2="733.4" stroke="#888" stroke-width="0.9" stroke-dasharray="1.2,2.8"/><line x1="387.9" y1="703.3" x2="961.2" y2="703.3" stroke="#888" stroke-width="0.9" stroke-dasharray="1.2,2.8"/><polygon points="394.5,823.7 394.5,821.7 397.6,800.6 401.1,780.7 403.4,791.2 407,813.5 409.3,814.7 412.8,787.7 415.2,787.7 417.5,807.6 419.4,821.7 419.4,823.7" fill="#d9bf6c" stroke="#3a3420" stroke-width="0.7" stroke-linejoin="round"/><polygon points="431.1,823.7 431.1,821.7 432.7,800.6 435.1,794.8 436.7,810 438.6,791.2 440.5,787.7 443.3,803 448,814.7 450.3,800.6 453.8,774.8 457.3,769 460.9,786.6 463.2,805.3 465.5,800.6 469.1,778.4 471.4,803 473.7,777.2 476.1,774.8 478.4,784.2 481.2,790.1 484.3,800.6 487.8,810 491.3,798.3 493.7,795.9 497.2,805.3 500.7,821.7 500.7,823.7" fill="#d9bf6c" stroke="#3a3420" stroke-width="0.7" stroke-linejoin="round"/><polygon points="504.2,823.7 504.2,821.7 506.6,799.4 508.9,810 511.2,807.6 514.8,793.6 517.8,810 518.3,821.7 518.3,823.7" fill="#d9bf6c" stroke="#3a3420" stroke-width="0.7" stroke-linejoin="round"/><polygon points="538.2,823.7 538.2,821.7 540.5,801.8 542.9,821.7 542.9,823.7" fill="#d9bf6c" stroke="#3a3420" stroke-width="0.7" stroke-linejoin="round"/><polygon points="545.2,823.7 545.2,821.7 546.9,800.6 549.2,812.3 552.3,807.6 553.9,821.7 553.9,823.7" fill="#d9bf6c" stroke="#3a3420" stroke-width="0.7" stroke-linejoin="round"/><polygon points="564.4,823.7 564.4,821.7 566.3,777.2 569.8,779.5 574.5,770.1 578,769 580.4,795.9 582.7,810 585.1,784.2 587.4,800.6 589.7,793.6 592.1,805.3 595.6,812.3 599.1,784.2 605,774.8 608.5,781.9 612,810 614.4,763.1 617.9,758.4 615.2,760.8 617.6,758.4 619.9,777.2 622.3,772.5 624.6,791.2 626.2,805.3 629.3,781.9 635.2,763.1 639.8,750.2 642.2,750.2 646.9,760.8 650.4,781.9 652.7,770.1 656.2,760.8 659.8,769 663.3,770.1 665.6,798.3 668,772.5 670.3,779.5 672.7,821.7 672.7,823.7" fill="#d9bf6c" stroke="#3a3420" stroke-width="0.7" stroke-linejoin="round"/><polygon points="686.7,823.7 686.7,821.7 688.6,786.6 691.4,770.1 693.7,791.2 696.1,810 698.4,784.2 700.8,763.1 705.5,761.9 709,760.8 712,754.9 713.7,763.1 716,803 718.4,800.6 720.7,812.3 724.2,772.5 728.9,751.4 734.8,737.3 740.6,730.3 750,725.6 754.7,730.3 761.7,744.4 765.2,747.9 768.7,751.4 772.3,743.2 775.8,746.7 780.5,763.1 785.1,770.1 787.5,794.8 791,770.1 793.3,777.2 795.7,795.9 799.2,784.2 801.5,791.2 803.9,804.1 806.2,821.7 806.2,823.7" fill="#d9bf6c" stroke="#3a3420" stroke-width="0.7" stroke-linejoin="round"/><polygon points="815.3,823.7 815.3,823.1 821,774.5 825.8,755.4 827.7,751.6 830.6,765.9 833.4,736.3 837.2,719.1 842,700.1 844.9,703.9 851.5,717.2 856.3,706.7 862,722 867.8,698.2 873.5,697.2 879.2,696.2 884.9,693.4 886.8,702 890.6,723 894.5,736.3 898.3,747.8 902.1,778.3 905.9,823.1 905.9,823.7" fill="#d9bf6c" stroke="#3a3420" stroke-width="0.7" stroke-linejoin="round"/><path d="M410.5,823 C412.7,822.9 421.6,822.6 426.9,822.4 C432.2,822.2 440.9,821.6 450.3,821.4 C459.7,821.2 474.6,821.3 497.2,821.2 C519.8,821.1 597.5,820.6 620,820.5 C642.5,820.4 658.9,820.4 665.6,820.3 C672.3,820.2 660.3,820.1 670.3,819.5 C680.3,818.9 726,816.4 740.6,815.8 C755.2,815.2 768,815.4 780,815.3 C792,815.2 821.4,815.1 830.7,814.8 C840,814.5 845.5,813.6 850,813 C854.5,812.4 861.4,811.4 864.5,810.5 C867.6,809.6 869.2,807.4 873,806.5 C876.8,805.6 887.6,804.3 892.7,804 C897.8,803.7 908.6,804 911,804" fill="none" stroke="#1a1ad0" stroke-width="2.7" stroke-linejoin="round"/><path d="M408.1,822 C409,820.7 412.7,814.8 415.2,812.3 C417.7,809.8 423.8,805 426.9,803 C430,801 435.5,798.3 438.6,797.1 C441.7,795.9 447.2,794.8 450.3,794.3 C453.4,793.8 457.3,793.4 462,793.1 C466.7,792.8 477.7,792.1 485.5,791.7 C493.3,791.3 509.7,790.5 520.6,790.1 C531.5,789.7 554.2,788.8 567.5,788.4 C580.8,788 600,787.9 620,787.3 C640,786.7 695.9,784.8 717.2,784.2 C738.5,783.6 764.7,782.8 780,782.5 C795.3,782.2 824.4,782.8 832.1,782.3 C839.8,781.8 836.3,779.7 838,778.5 C839.7,777.3 841.6,774.6 844.8,773 C848,771.4 858.2,768.3 861.7,766.8 C865.2,765.3 868.6,763.2 871,762 C873.4,760.8 876.4,758.4 880,757.5 C883.6,756.6 894.2,755.3 898.3,755 C902.4,754.7 909.3,755 911,755" fill="none" stroke="#3a9a8a" stroke-width="2.7" stroke-linejoin="round"/><path d="M410.5,822.5 C411.1,821 413.8,814.6 415.2,811.2 C416.6,807.8 419.4,800 421,797 C422.6,794 424.9,790.8 426.9,788.5 C428.9,786.2 433.1,781.6 436.2,779.5 C439.3,777.4 447.2,774 450.3,772.5 C453.4,771 456.6,769.4 459.7,768.5 C462.8,767.6 470.3,766.3 473.7,765.5 C477.1,764.7 481.7,763.3 485.5,762.6 C489.3,761.9 497.2,760.8 501.9,760.3 C506.6,759.8 515,759.3 520.6,758.9 C526.2,758.5 537.7,757.7 544,757.3 C550.3,756.9 561.2,756.1 567.5,755.6 C573.8,755.1 583.9,754 590.9,753.5 C597.9,753 613.5,752 620,751.5 C626.5,751 631.8,750 639.8,749.5 C647.8,749 669.7,748.4 680,748 C690.3,747.6 706,747.1 717.2,746.7 C728.4,746.3 753,745.4 764,745.2 C775,745 789.8,745.1 800,745 C810.2,744.9 834.2,745.5 840.6,744.8 C847,744.1 846.1,741.8 848,740 C849.9,738.2 852.8,732.7 854.7,731 C856.6,729.3 859.6,728.1 862,727 C864.4,725.9 868.9,724.4 873,723.1 C877.1,721.8 887.6,718.4 892.7,717.5 C897.8,716.6 908.6,716.7 911,716.6" fill="none" stroke="#e42a1a" stroke-width="2.7" stroke-linejoin="round"/><rect x="387.9" y="673.2" width="573.3" height="150.5" fill="none" stroke="#222" stroke-width="1.3"/><text x="382.5" y="828.7" font-family='"Liberation Sans", sans-serif' font-size="12.5" fill="#222" font-weight="bold" text-anchor="end">0</text><line x1="384.9" y1="823.7" x2="387.9" y2="823.7" stroke="#222" stroke-width="1"/><text x="382.5" y="798.6" font-family='"Liberation Sans", sans-serif' font-size="12.5" fill="#222" font-weight="bold" text-anchor="end">30</text><line x1="384.9" y1="793.6" x2="387.9" y2="793.6" stroke="#222" stroke-width="1"/><text x="382.5" y="768.5" font-family='"Liberation Sans", sans-serif' font-size="12.5" fill="#222" font-weight="bold" text-anchor="end">60</text><line x1="384.9" y1="763.5" x2="387.9" y2="763.5" stroke="#222" stroke-width="1"/><text x="382.5" y="738.4" font-family='"Liberation Sans", sans-serif' font-size="12.5" fill="#222" font-weight="bold" text-anchor="end">90</text><line x1="384.9" y1="733.4" x2="387.9" y2="733.4" stroke="#222" stroke-width="1"/><text x="382.5" y="708.3" font-family='"Liberation Sans", sans-serif' font-size="12.5" fill="#222" font-weight="bold" text-anchor="end">120</text><line x1="384.9" y1="703.3" x2="387.9" y2="703.3" stroke="#222" stroke-width="1"/><text x="382.5" y="678.2" font-family='"Liberation Sans", sans-serif' font-size="12.5" fill="#222" font-weight="bold" text-anchor="end">150</text><line x1="384.9" y1="673.2" x2="387.9" y2="673.2" stroke="#222" stroke-width="1"/><text x="965" y="828.7" font-family='"Liberation Sans", sans-serif' font-size="12.5" fill="#222" font-weight="bold">0.0</text><line x1="961.2" y1="823.7" x2="964.2" y2="823.7" stroke="#222" stroke-width="1"/><text x="965" y="798.6" font-family='"Liberation Sans", sans-serif' font-size="12.5" fill="#222" font-weight="bold">0.1</text><line x1="961.2" y1="793.6" x2="964.2" y2="793.6" stroke="#222" stroke-width="1"/><text x="965" y="768.5" font-family='"Liberation Sans", sans-serif' font-size="12.5" fill="#222" font-weight="bold">0.2</text><line x1="961.2" y1="763.5" x2="964.2" y2="763.5" stroke="#222" stroke-width="1"/><text x="965" y="738.4" font-family='"Liberation Sans", sans-serif' font-size="12.5" fill="#222" font-weight="bold">0.3</text><line x1="961.2" y1="733.4" x2="964.2" y2="733.4" stroke="#222" stroke-width="1"/><text x="965" y="708.3" font-family='"Liberation Sans", sans-serif' font-size="12.5" fill="#222" font-weight="bold">0.4</text><line x1="961.2" y1="703.3" x2="964.2" y2="703.3" stroke="#222" stroke-width="1"/><text x="965" y="678.2" font-family='"Liberation Sans", sans-serif' font-size="12.5" fill="#222" font-weight="bold">0.5</text><line x1="961.2" y1="673.2" x2="964.2" y2="673.2" stroke="#222" stroke-width="1"/><line x1="387.9" y1="823.7" x2="387.9" y2="826.7" stroke="#222" stroke-width="1"/><text x="392.2" y="826.5" font-family='"Liberation Sans", sans-serif' font-size="11.5" fill="#222" font-weight="bold" text-anchor="end" transform="rotate(-90 392.2 826.5)">0</text><line x1="416.6" y1="823.7" x2="416.6" y2="826.7" stroke="#222" stroke-width="1"/><text x="420.9" y="826.5" font-family='"Liberation Sans", sans-serif' font-size="11.5" fill="#222" font-weight="bold" text-anchor="end" transform="rotate(-90 420.9 826.5)">100</text><line x1="445.2" y1="823.7" x2="445.2" y2="826.7" stroke="#222" stroke-width="1"/><text x="449.5" y="826.5" font-family='"Liberation Sans", sans-serif' font-size="11.5" fill="#222" font-weight="bold" text-anchor="end" transform="rotate(-90 449.5 826.5)">200</text><line x1="473.9" y1="823.7" x2="473.9" y2="826.7" stroke="#222" stroke-width="1"/><text x="478.2" y="826.5" font-family='"Liberation Sans", sans-serif' font-size="11.5" fill="#222" font-weight="bold" text-anchor="end" transform="rotate(-90 478.2 826.5)">300</text><line x1="502.6" y1="823.7" x2="502.6" y2="826.7" stroke="#222" stroke-width="1"/><text x="506.9" y="826.5" font-family='"Liberation Sans", sans-serif' font-size="11.5" fill="#222" font-weight="bold" text-anchor="end" transform="rotate(-90 506.9 826.5)">400</text><line x1="531.2" y1="823.7" x2="531.2" y2="826.7" stroke="#222" stroke-width="1"/><text x="535.5" y="826.5" font-family='"Liberation Sans", sans-serif' font-size="11.5" fill="#222" font-weight="bold" text-anchor="end" transform="rotate(-90 535.5 826.5)">500</text><line x1="559.9" y1="823.7" x2="559.9" y2="826.7" stroke="#222" stroke-width="1"/><text x="564.2" y="826.5" font-family='"Liberation Sans", sans-serif' font-size="11.5" fill="#222" font-weight="bold" text-anchor="end" transform="rotate(-90 564.2 826.5)">600</text><line x1="588.6" y1="823.7" x2="588.6" y2="826.7" stroke="#222" stroke-width="1"/><text x="592.9" y="826.5" font-family='"Liberation Sans", sans-serif' font-size="11.5" fill="#222" font-weight="bold" text-anchor="end" transform="rotate(-90 592.9 826.5)">700</text><line x1="617.2" y1="823.7" x2="617.2" y2="826.7" stroke="#222" stroke-width="1"/><text x="621.5" y="826.5" font-family='"Liberation Sans", sans-serif' font-size="11.5" fill="#222" font-weight="bold" text-anchor="end" transform="rotate(-90 621.5 826.5)">800</text><line x1="645.9" y1="823.7" x2="645.9" y2="826.7" stroke="#222" stroke-width="1"/><text x="650.2" y="826.5" font-family='"Liberation Sans", sans-serif' font-size="11.5" fill="#222" font-weight="bold" text-anchor="end" transform="rotate(-90 650.2 826.5)">900</text><line x1="674.5" y1="823.7" x2="674.5" y2="826.7" stroke="#222" stroke-width="1"/><text x="678.8" y="826.5" font-family='"Liberation Sans", sans-serif' font-size="11.5" fill="#222" font-weight="bold" text-anchor="end" transform="rotate(-90 678.8 826.5)">1000</text><line x1="703.2" y1="823.7" x2="703.2" y2="826.7" stroke="#222" stroke-width="1"/><text x="707.5" y="826.5" font-family='"Liberation Sans", sans-serif' font-size="11.5" fill="#222" font-weight="bold" text-anchor="end" transform="rotate(-90 707.5 826.5)">1100</text><line x1="731.9" y1="823.7" x2="731.9" y2="826.7" stroke="#222" stroke-width="1"/><text x="736.2" y="826.5" font-family='"Liberation Sans", sans-serif' font-size="11.5" fill="#222" font-weight="bold" text-anchor="end" transform="rotate(-90 736.2 826.5)">1200</text><line x1="760.5" y1="823.7" x2="760.5" y2="826.7" stroke="#222" stroke-width="1"/><text x="764.8" y="826.5" font-family='"Liberation Sans", sans-serif' font-size="11.5" fill="#222" font-weight="bold" text-anchor="end" transform="rotate(-90 764.8 826.5)">1300</text><line x1="789.2" y1="823.7" x2="789.2" y2="826.7" stroke="#222" stroke-width="1"/><text x="793.5" y="826.5" font-family='"Liberation Sans", sans-serif' font-size="11.5" fill="#222" font-weight="bold" text-anchor="end" transform="rotate(-90 793.5 826.5)">1400</text><line x1="817.9" y1="823.7" x2="817.9" y2="826.7" stroke="#222" stroke-width="1"/><text x="822.2" y="826.5" font-family='"Liberation Sans", sans-serif' font-size="11.5" fill="#222" font-weight="bold" text-anchor="end" transform="rotate(-90 822.2 826.5)">1500</text><line x1="846.5" y1="823.7" x2="846.5" y2="826.7" stroke="#222" stroke-width="1"/><text x="850.8" y="826.5" font-family='"Liberation Sans", sans-serif' font-size="11.5" fill="#222" font-weight="bold" text-anchor="end" transform="rotate(-90 850.8 826.5)">1600</text><line x1="875.2" y1="823.7" x2="875.2" y2="826.7" stroke="#222" stroke-width="1"/><text x="879.5" y="826.5" font-family='"Liberation Sans", sans-serif' font-size="11.5" fill="#222" font-weight="bold" text-anchor="end" transform="rotate(-90 879.5 826.5)">1700</text><line x1="903.9" y1="823.7" x2="903.9" y2="826.7" stroke="#222" stroke-width="1"/><text x="908.2" y="826.5" font-family='"Liberation Sans", sans-serif' font-size="11.5" fill="#222" font-weight="bold" text-anchor="end" transform="rotate(-90 908.2 826.5)">1800</text><line x1="932.5" y1="823.7" x2="932.5" y2="826.7" stroke="#222" stroke-width="1"/><text x="936.8" y="826.5" font-family='"Liberation Sans", sans-serif' font-size="11.5" fill="#222" font-weight="bold" text-anchor="end" transform="rotate(-90 936.8 826.5)">1900</text><line x1="961.2" y1="823.7" x2="961.2" y2="826.7" stroke="#222" stroke-width="1"/><text x="965.5" y="826.5" font-family='"Liberation Sans", sans-serif' font-size="11.5" fill="#222" font-weight="bold" text-anchor="end" transform="rotate(-90 965.5 826.5)">2000</text><text x="658" y="878.5" font-family='"Liberation Sans", sans-serif' font-size="13.5" fill="#222" font-weight="bold" text-anchor="middle">Time (s)</text><text x="356.5" y="748.5" font-family='"Liberation Sans", sans-serif' font-size="12.5" fill="#222" textLength="99" lengthAdjust="spacingAndGlyphs" font-weight="bold" text-anchor="middle" transform="rotate(-90 356.5 748.5)">Veh. speed (km/h)</text><text x="999.5" y="752.5" font-family='"Liberation Sans", sans-serif' font-size="13.5" fill="#222" textLength="181" lengthAdjust="spacingAndGlyphs" font-weight="bold" text-anchor="middle" transform="rotate(-90 999.5 752.5)">Cumulative NH<tspan font-size="9.5" dy="3.5">3</tspan><tspan dy="-3.5"> emissions (g)</tspan></text><line x1="388.5" y1="659.2" x2="421.7" y2="659.2" stroke="#1a1ad0" stroke-width="2.6"/><text x="422" y="664" font-family='"Liberation Sans", sans-serif' font-size="12" fill="#222" textLength="33" lengthAdjust="spacingAndGlyphs" font-weight="bold">-10 °C</text><line x1="456" y1="659.2" x2="489.3" y2="659.2" stroke="#3a9a8a" stroke-width="2.6"/><text x="489.8" y="664" font-family='"Liberation Sans", sans-serif' font-size="12" fill="#222" textLength="30" lengthAdjust="spacingAndGlyphs" font-weight="bold">20 °C</text><line x1="520.5" y1="659.2" x2="554" y2="659.2" stroke="#e42a1a" stroke-width="2.6"/><text x="554.5" y="664" font-family='"Liberation Sans", sans-serif' font-size="12" fill="#222" textLength="29" lengthAdjust="spacingAndGlyphs" font-weight="bold">35 °C</text>
</svg></body></html>
